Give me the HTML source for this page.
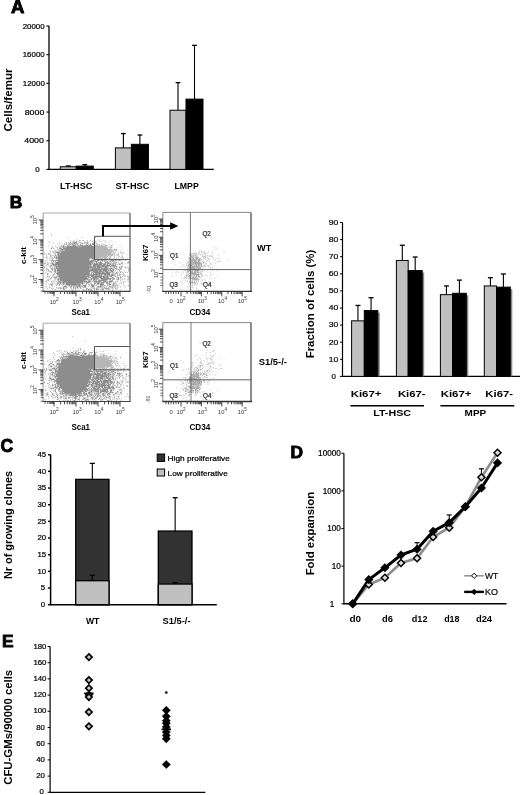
<!DOCTYPE html>
<html><head><meta charset="utf-8"><style>
html,body{margin:0;padding:0;background:#fff;}
svg{display:block;font-family:"Liberation Sans", sans-serif;will-change:transform;}
</style></head><body>
<svg width="520" height="795" viewBox="0 0 520 795">
<defs><filter id="soft" x="0" y="0" width="100%" height="100%" filterUnits="userSpaceOnUse"><feGaussianBlur stdDeviation="0.4"/></filter><filter id="blur2" x="-50%" y="-50%" width="200%" height="200%"><feGaussianBlur stdDeviation="2.5"/></filter></defs>
<g filter="url(#soft)">
<rect width="520" height="795" fill="#fff"/>
<text x="11.0" y="13.4" font-size="18.6" font-weight="bold" text-anchor="start" fill="#000" stroke="#000" stroke-width="0.9">A</text>
<line x1="49" y1="26.0" x2="49" y2="170.1" stroke="#000" stroke-width="1.3"/>
<line x1="48.4" y1="169.4" x2="213.8" y2="169.4" stroke="#000" stroke-width="1.4"/>
<line x1="46.4" y1="169.4" x2="49" y2="169.4" stroke="#000" stroke-width="1.1"/>
<text x="39.6" y="171.9" font-size="7.9" text-anchor="end" fill="#000" stroke="#000" stroke-width="0.22">0</text>
<line x1="46.4" y1="140.72" x2="49" y2="140.72" stroke="#000" stroke-width="1.1"/>
<text x="43.9" y="143.22" font-size="7.9" text-anchor="end" fill="#000" textLength="19.6" lengthAdjust="spacingAndGlyphs" stroke="#000" stroke-width="0.22">4000</text>
<line x1="46.4" y1="112.04" x2="49" y2="112.04" stroke="#000" stroke-width="1.1"/>
<text x="44.3" y="114.54" font-size="7.9" text-anchor="end" fill="#000" textLength="19.6" lengthAdjust="spacingAndGlyphs" stroke="#000" stroke-width="0.22">8000</text>
<line x1="46.4" y1="83.36" x2="49" y2="83.36" stroke="#000" stroke-width="1.1"/>
<text x="44.8" y="85.86" font-size="7.9" text-anchor="end" fill="#000" stroke="#000" stroke-width="0.22">12000</text>
<line x1="46.4" y1="54.68000000000001" x2="49" y2="54.68000000000001" stroke="#000" stroke-width="1.1"/>
<text x="44.7" y="57.18000000000001" font-size="7.9" text-anchor="end" fill="#000" stroke="#000" stroke-width="0.22">16000</text>
<line x1="46.4" y1="26.0" x2="49" y2="26.0" stroke="#000" stroke-width="1.1"/>
<text x="44.6" y="28.5" font-size="7.9" text-anchor="end" fill="#000" stroke="#000" stroke-width="0.22">20000</text>
<text x="12.4" y="100" font-size="11" font-weight="bold" text-anchor="middle" fill="#000" transform="rotate(-90 12.4 100)" textLength="63" lengthAdjust="spacingAndGlyphs">Cells/femur</text>
<line x1="68.3" y1="165.9584" x2="68.3" y2="166.74710000000002" stroke="#000" stroke-width="1.1"/>
<line x1="65.89999999999999" y1="165.9584" x2="70.7" y2="165.9584" stroke="#000" stroke-width="1.3"/>
<rect x="60.3" y="166.74710000000002" width="16" height="2.6528999999999883" fill="#c0c0c0" stroke="#000" stroke-width="1"/>
<line x1="84.8" y1="164.6678" x2="84.8" y2="166.1018" stroke="#000" stroke-width="1.1"/>
<line x1="82.39999999999999" y1="164.6678" x2="87.2" y2="164.6678" stroke="#000" stroke-width="1.3"/>
<rect x="76.3" y="166.1018" width="17" height="3.2982000000000085" fill="#000" stroke="#000" stroke-width="1"/>
<line x1="123.4" y1="133.55" x2="123.4" y2="147.89000000000001" stroke="#000" stroke-width="1.1"/>
<line x1="121.0" y1="133.55" x2="125.80000000000001" y2="133.55" stroke="#000" stroke-width="1.3"/>
<rect x="115.4" y="147.89000000000001" width="16" height="21.50999999999999" fill="#c0c0c0" stroke="#000" stroke-width="1"/>
<line x1="139.9" y1="134.984" x2="139.9" y2="144.305" stroke="#000" stroke-width="1.1"/>
<line x1="137.5" y1="134.984" x2="142.3" y2="134.984" stroke="#000" stroke-width="1.3"/>
<rect x="131.4" y="144.305" width="17" height="25.095" fill="#000" stroke="#000" stroke-width="1"/>
<line x1="178.0" y1="82.643" x2="178.0" y2="110.2475" stroke="#000" stroke-width="1.1"/>
<line x1="175.6" y1="82.643" x2="180.4" y2="82.643" stroke="#000" stroke-width="1.3"/>
<rect x="170.0" y="110.2475" width="16" height="59.1525" fill="#c0c0c0" stroke="#000" stroke-width="1"/>
<line x1="194.5" y1="45.35900000000001" x2="194.5" y2="99.134" stroke="#000" stroke-width="1.1"/>
<line x1="192.1" y1="45.35900000000001" x2="196.9" y2="45.35900000000001" stroke="#000" stroke-width="1.3"/>
<rect x="186.0" y="99.134" width="17" height="70.266" fill="#000" stroke="#000" stroke-width="1"/>
<text x="76.2" y="188.5" font-size="9.6" font-weight="bold" text-anchor="middle" fill="#000" textLength="32.3" lengthAdjust="spacingAndGlyphs">LT-HSC</text>
<text x="132.5" y="188.5" font-size="9.6" font-weight="bold" text-anchor="middle" fill="#000" textLength="33.8" lengthAdjust="spacingAndGlyphs">ST-HSC</text>
<text x="186.6" y="188.5" font-size="9.6" font-weight="bold" text-anchor="middle" fill="#000" textLength="24.2" lengthAdjust="spacingAndGlyphs">LMPP</text>
<text x="9.7" y="208.2" font-size="17.4" font-weight="bold" text-anchor="start" fill="#000" stroke="#000" stroke-width="0.9">B</text>
<path d="M51.1 234.6h0.8v0.8h-0.8zM81.5 237.0h0.8v0.8h-0.8zM67.9 237.8h0.8v0.8h-0.8zM76.7 239.4h0.8v0.8h-0.8zM70.3 240.2h0.8v0.8h-0.8zM73.5 240.2h0.8v0.8h-0.8zM79.1 240.2h1.6v0.8h-1.6zM82.3 240.2h1.6v0.8h-1.6zM87.1 240.2h0.8v0.8h-0.8zM90.3 240.2h0.8v0.8h-0.8zM93.5 240.2h0.8v0.8h-0.8zM48.7 241.0h0.8v0.8h-0.8zM72.7 241.0h0.8v0.8h-0.8zM75.9 241.0h1.6v0.8h-1.6zM91.9 241.0h0.8v0.8h-0.8zM64.7 241.8h0.8v0.8h-0.8zM67.9 241.8h0.8v0.8h-0.8zM70.3 241.8h0.8v0.8h-0.8zM71.9 241.8h0.8v0.8h-0.8zM73.5 241.8h3.2v0.8h-3.2zM79.1 241.8h1.6v0.8h-1.6zM83.9 241.8h1.6v0.8h-1.6zM87.1 241.8h1.6v0.8h-1.6zM49.5 242.6h0.8v0.8h-0.8zM53.5 242.6h0.8v0.8h-0.8zM60.7 242.6h0.8v0.8h-0.8zM66.3 242.6h0.8v0.8h-0.8zM68.7 242.6h0.8v0.8h-0.8zM70.3 242.6h0.8v0.8h-0.8zM73.5 242.6h3.2v0.8h-3.2zM78.3 242.6h0.8v0.8h-0.8zM80.7 242.6h0.8v0.8h-0.8zM82.3 242.6h0.8v0.8h-0.8zM84.7 242.6h0.8v0.8h-0.8zM86.3 242.6h1.6v0.8h-1.6zM92.7 242.6h1.6v0.8h-1.6zM57.5 243.4h0.8v0.8h-0.8zM59.1 243.4h0.8v0.8h-0.8zM63.9 243.4h0.8v0.8h-0.8zM66.3 243.4h0.8v0.8h-0.8zM68.7 243.4h1.6v0.8h-1.6zM71.1 243.4h4.0v0.8h-4.0zM75.9 243.4h2.4v0.8h-2.4zM79.9 243.4h0.8v0.8h-0.8zM81.5 243.4h1.6v0.8h-1.6zM83.9 243.4h0.8v0.8h-0.8zM87.1 243.4h0.8v0.8h-0.8zM90.3 243.4h0.8v0.8h-0.8zM91.9 243.4h2.4v0.8h-2.4zM63.9 244.2h0.8v0.8h-0.8zM65.5 244.2h1.6v0.8h-1.6zM67.9 244.2h0.8v0.8h-0.8zM69.5 244.2h1.6v0.8h-1.6zM71.9 244.2h1.6v0.8h-1.6zM75.1 244.2h0.8v0.8h-0.8zM76.7 244.2h0.8v0.8h-0.8zM79.9 244.2h0.8v0.8h-0.8zM85.5 244.2h1.6v0.8h-1.6zM87.9 244.2h0.8v0.8h-0.8zM89.5 244.2h1.6v0.8h-1.6zM91.9 244.2h2.4v0.8h-2.4zM61.5 245.0h0.8v0.8h-0.8zM63.1 245.0h0.8v0.8h-0.8zM67.1 245.0h0.8v0.8h-0.8zM68.7 245.0h0.8v0.8h-0.8zM72.7 245.0h3.2v0.8h-3.2zM77.5 245.0h1.6v0.8h-1.6zM79.9 245.0h3.2v0.8h-3.2zM83.9 245.0h0.8v0.8h-0.8zM85.5 245.0h2.4v0.8h-2.4zM88.7 245.0h3.2v0.8h-3.2zM47.9 245.8h0.8v0.8h-0.8zM51.9 245.8h0.8v0.8h-0.8zM55.1 245.8h0.8v0.8h-0.8zM59.1 245.8h0.8v0.8h-0.8zM60.7 245.8h1.6v0.8h-1.6zM63.1 245.8h2.4v0.8h-2.4zM67.1 245.8h9.6v0.8h-9.6zM77.5 245.8h3.2v0.8h-3.2zM81.5 245.8h12.8v0.8h-12.8zM56.7 246.6h0.8v0.8h-0.8zM60.7 246.6h0.8v0.8h-0.8zM62.3 246.6h1.6v0.8h-1.6zM64.7 246.6h13.6v0.8h-13.6zM79.1 246.6h15.2v0.8h-15.2zM51.1 247.4h1.6v0.8h-1.6zM53.5 247.4h0.8v0.8h-0.8zM56.7 247.4h0.8v0.8h-0.8zM59.1 247.4h1.6v0.8h-1.6zM62.3 247.4h3.2v0.8h-3.2zM66.3 247.4h28.0v0.8h-28.0zM51.1 248.2h0.8v0.8h-0.8zM53.5 248.2h0.8v0.8h-0.8zM59.1 248.2h3.2v0.8h-3.2zM63.1 248.2h31.2v0.8h-31.2zM57.5 249.0h0.8v0.8h-0.8zM60.7 249.0h33.6v0.8h-33.6zM58.3 249.8h4.8v0.8h-4.8zM64.7 249.8h29.6v0.8h-29.6zM49.5 250.6h0.8v0.8h-0.8zM54.3 250.6h1.6v0.8h-1.6zM56.7 250.6h0.8v0.8h-0.8zM60.7 250.6h0.8v0.8h-0.8zM62.3 250.6h32.0v0.8h-32.0zM50.3 251.4h0.8v0.8h-0.8zM51.9 251.4h1.6v0.8h-1.6zM55.9 251.4h0.8v0.8h-0.8zM57.5 251.4h36.8v0.8h-36.8zM53.5 252.2h0.8v0.8h-0.8zM55.1 252.2h4.8v0.8h-4.8zM60.7 252.2h33.6v0.8h-33.6zM44.7 253.0h0.8v0.8h-0.8zM47.9 253.0h0.8v0.8h-0.8zM49.5 253.0h0.8v0.8h-0.8zM54.3 253.0h0.8v0.8h-0.8zM57.5 253.0h36.8v0.8h-36.8zM43.9 253.8h0.8v0.8h-0.8zM47.9 253.8h0.8v0.8h-0.8zM49.5 253.8h0.8v0.8h-0.8zM55.1 253.8h0.8v0.8h-0.8zM56.7 253.8h2.4v0.8h-2.4zM59.9 253.8h34.4v0.8h-34.4zM46.3 254.6h0.8v0.8h-0.8zM50.3 254.6h0.8v0.8h-0.8zM52.7 254.6h0.8v0.8h-0.8zM55.1 254.6h0.8v0.8h-0.8zM57.5 254.6h36.8v0.8h-36.8zM50.3 255.4h1.6v0.8h-1.6zM53.5 255.4h0.8v0.8h-0.8zM55.1 255.4h2.4v0.8h-2.4zM58.3 255.4h36.0v0.8h-36.0zM46.3 256.2h0.8v0.8h-0.8zM50.3 256.2h0.8v0.8h-0.8zM54.3 256.2h0.8v0.8h-0.8zM55.9 256.2h0.8v0.8h-0.8zM57.5 256.2h36.8v0.8h-36.8zM46.3 257.0h0.8v0.8h-0.8zM49.5 257.0h0.8v0.8h-0.8zM51.9 257.0h0.8v0.8h-0.8zM53.5 257.0h1.6v0.8h-1.6zM55.9 257.0h38.4v0.8h-38.4zM45.5 257.8h0.8v0.8h-0.8zM47.1 257.8h0.8v0.8h-0.8zM51.1 257.8h0.8v0.8h-0.8zM53.5 257.8h0.8v0.8h-0.8zM55.1 257.8h1.6v0.8h-1.6zM57.5 257.8h36.8v0.8h-36.8zM49.5 258.6h0.8v0.8h-0.8zM51.9 258.6h0.8v0.8h-0.8zM55.9 258.6h33.6v0.8h-33.6zM91.9 258.6h2.4v0.8h-2.4zM46.3 259.4h0.8v0.8h-0.8zM51.9 259.4h1.6v0.8h-1.6zM58.3 259.4h31.2v0.8h-31.2zM91.1 259.4h0.8v0.8h-0.8zM93.5 259.4h0.8v0.8h-0.8zM96.7 259.4h0.8v0.8h-0.8zM98.3 259.4h0.8v0.8h-0.8zM100.7 259.4h0.8v0.8h-0.8zM102.3 259.4h1.6v0.8h-1.6zM105.5 259.4h0.8v0.8h-0.8zM108.7 259.4h0.8v0.8h-0.8zM112.7 259.4h0.8v0.8h-0.8zM115.9 259.4h0.8v0.8h-0.8zM119.1 259.4h0.8v0.8h-0.8zM121.5 259.4h0.8v0.8h-0.8zM123.1 259.4h0.8v0.8h-0.8zM44.7 260.2h0.8v0.8h-0.8zM49.5 260.2h0.8v0.8h-0.8zM51.1 260.2h1.6v0.8h-1.6zM53.5 260.2h36.0v0.8h-36.0zM90.3 260.2h5.6v0.8h-5.6zM96.7 260.2h3.2v0.8h-3.2zM100.7 260.2h2.4v0.8h-2.4zM103.9 260.2h1.6v0.8h-1.6zM106.3 260.2h0.8v0.8h-0.8zM110.3 260.2h4.0v0.8h-4.0zM115.1 260.2h1.6v0.8h-1.6zM117.5 260.2h0.8v0.8h-0.8zM119.1 260.2h1.6v0.8h-1.6zM125.5 260.2h0.8v0.8h-0.8zM45.5 261.0h0.8v0.8h-0.8zM51.1 261.0h0.8v0.8h-0.8zM52.7 261.0h1.6v0.8h-1.6zM55.1 261.0h0.8v0.8h-0.8zM57.5 261.0h36.0v0.8h-36.0zM94.3 261.0h3.2v0.8h-3.2zM99.9 261.0h0.8v0.8h-0.8zM102.3 261.0h0.8v0.8h-0.8zM103.9 261.0h0.8v0.8h-0.8zM105.5 261.0h0.8v0.8h-0.8zM107.1 261.0h0.8v0.8h-0.8zM109.5 261.0h1.6v0.8h-1.6zM111.9 261.0h1.6v0.8h-1.6zM114.3 261.0h0.8v0.8h-0.8zM47.1 261.8h0.8v0.8h-0.8zM48.7 261.8h0.8v0.8h-0.8zM54.3 261.8h0.8v0.8h-0.8zM55.9 261.8h37.6v0.8h-37.6zM95.9 261.8h0.8v0.8h-0.8zM97.5 261.8h1.6v0.8h-1.6zM99.9 261.8h1.6v0.8h-1.6zM104.7 261.8h3.2v0.8h-3.2zM108.7 261.8h0.8v0.8h-0.8zM110.3 261.8h1.6v0.8h-1.6zM112.7 261.8h0.8v0.8h-0.8zM115.1 261.8h1.6v0.8h-1.6zM117.5 261.8h0.8v0.8h-0.8zM119.9 261.8h0.8v0.8h-0.8zM122.3 261.8h0.8v0.8h-0.8zM127.9 261.8h1.6v0.8h-1.6zM44.7 262.6h0.8v0.8h-0.8zM51.1 262.6h2.4v0.8h-2.4zM55.1 262.6h37.6v0.8h-37.6zM93.5 262.6h1.6v0.8h-1.6zM95.9 262.6h1.6v0.8h-1.6zM98.3 262.6h4.0v0.8h-4.0zM104.7 262.6h1.6v0.8h-1.6zM107.1 262.6h2.4v0.8h-2.4zM113.5 262.6h1.6v0.8h-1.6zM115.9 262.6h0.8v0.8h-0.8zM121.5 262.6h0.8v0.8h-0.8zM127.1 262.6h1.6v0.8h-1.6zM43.9 263.4h1.6v0.8h-1.6zM47.1 263.4h2.4v0.8h-2.4zM50.3 263.4h0.8v0.8h-0.8zM51.9 263.4h2.4v0.8h-2.4zM55.1 263.4h36.0v0.8h-36.0zM91.9 263.4h0.8v0.8h-0.8zM93.5 263.4h4.8v0.8h-4.8zM99.1 263.4h6.4v0.8h-6.4zM106.3 263.4h8.0v0.8h-8.0zM115.1 263.4h0.8v0.8h-0.8zM118.3 263.4h1.6v0.8h-1.6zM120.7 263.4h2.4v0.8h-2.4zM124.7 263.4h0.8v0.8h-0.8zM47.1 264.2h0.8v0.8h-0.8zM51.9 264.2h40.0v0.8h-40.0zM92.7 264.2h9.6v0.8h-9.6zM103.1 264.2h3.2v0.8h-3.2zM107.1 264.2h0.8v0.8h-0.8zM108.7 264.2h0.8v0.8h-0.8zM110.3 264.2h0.8v0.8h-0.8zM111.9 264.2h0.8v0.8h-0.8zM113.5 264.2h0.8v0.8h-0.8zM115.1 264.2h0.8v0.8h-0.8zM116.7 264.2h0.8v0.8h-0.8zM119.1 264.2h1.6v0.8h-1.6zM44.7 265.0h0.8v0.8h-0.8zM47.9 265.0h0.8v0.8h-0.8zM50.3 265.0h1.6v0.8h-1.6zM52.7 265.0h4.0v0.8h-4.0zM57.5 265.0h33.6v0.8h-33.6zM92.7 265.0h12.8v0.8h-12.8zM106.3 265.0h4.0v0.8h-4.0zM111.1 265.0h4.8v0.8h-4.8zM46.3 265.8h0.8v0.8h-0.8zM50.3 265.8h1.6v0.8h-1.6zM55.1 265.8h34.4v0.8h-34.4zM90.3 265.8h1.6v0.8h-1.6zM92.7 265.8h3.2v0.8h-3.2zM96.7 265.8h4.0v0.8h-4.0zM101.5 265.8h15.2v0.8h-15.2zM117.5 265.8h0.8v0.8h-0.8zM120.7 265.8h0.8v0.8h-0.8zM122.3 265.8h0.8v0.8h-0.8zM128.7 265.8h0.8v0.8h-0.8zM43.9 266.6h0.8v0.8h-0.8zM50.3 266.6h0.8v0.8h-0.8zM53.5 266.6h1.6v0.8h-1.6zM55.9 266.6h48.0v0.8h-48.0zM104.7 266.6h3.2v0.8h-3.2zM110.3 266.6h0.8v0.8h-0.8zM112.7 266.6h0.8v0.8h-0.8zM114.3 266.6h0.8v0.8h-0.8zM115.9 266.6h0.8v0.8h-0.8zM119.1 266.6h0.8v0.8h-0.8zM120.7 266.6h1.6v0.8h-1.6zM124.7 266.6h0.8v0.8h-0.8zM43.9 267.4h0.8v0.8h-0.8zM46.3 267.4h0.8v0.8h-0.8zM50.3 267.4h0.8v0.8h-0.8zM51.9 267.4h0.8v0.8h-0.8zM55.1 267.4h2.4v0.8h-2.4zM58.3 267.4h35.2v0.8h-35.2zM94.3 267.4h1.6v0.8h-1.6zM96.7 267.4h4.0v0.8h-4.0zM101.5 267.4h0.8v0.8h-0.8zM103.9 267.4h3.2v0.8h-3.2zM107.9 267.4h1.6v0.8h-1.6zM111.1 267.4h0.8v0.8h-0.8zM113.5 267.4h1.6v0.8h-1.6zM115.9 267.4h0.8v0.8h-0.8zM117.5 267.4h0.8v0.8h-0.8zM119.1 267.4h0.8v0.8h-0.8zM121.5 267.4h0.8v0.8h-0.8zM124.7 267.4h1.6v0.8h-1.6zM127.1 267.4h0.8v0.8h-0.8zM128.7 267.4h0.8v0.8h-0.8zM46.3 268.2h0.8v0.8h-0.8zM51.1 268.2h1.6v0.8h-1.6zM53.5 268.2h1.6v0.8h-1.6zM55.9 268.2h33.6v0.8h-33.6zM90.3 268.2h0.8v0.8h-0.8zM91.9 268.2h8.0v0.8h-8.0zM100.7 268.2h7.2v0.8h-7.2zM108.7 268.2h4.0v0.8h-4.0zM113.5 268.2h0.8v0.8h-0.8zM115.1 268.2h1.6v0.8h-1.6zM119.9 268.2h1.6v0.8h-1.6zM127.9 268.2h0.8v0.8h-0.8zM45.5 269.0h0.8v0.8h-0.8zM47.1 269.0h1.6v0.8h-1.6zM51.1 269.0h1.6v0.8h-1.6zM54.3 269.0h1.6v0.8h-1.6zM56.7 269.0h32.8v0.8h-32.8zM90.3 269.0h18.4v0.8h-18.4zM109.5 269.0h1.6v0.8h-1.6zM111.9 269.0h2.4v0.8h-2.4zM115.9 269.0h0.8v0.8h-0.8zM117.5 269.0h1.6v0.8h-1.6zM119.9 269.0h1.6v0.8h-1.6zM128.7 269.0h0.8v0.8h-0.8zM43.9 269.8h0.8v0.8h-0.8zM47.9 269.8h0.8v0.8h-0.8zM51.9 269.8h1.6v0.8h-1.6zM54.3 269.8h1.6v0.8h-1.6zM56.7 269.8h44.8v0.8h-44.8zM102.3 269.8h4.8v0.8h-4.8zM107.9 269.8h1.6v0.8h-1.6zM110.3 269.8h1.6v0.8h-1.6zM112.7 269.8h1.6v0.8h-1.6zM115.1 269.8h0.8v0.8h-0.8zM119.1 269.8h0.8v0.8h-0.8zM123.9 269.8h0.8v0.8h-0.8zM128.7 269.8h0.8v0.8h-0.8zM46.3 270.6h0.8v0.8h-0.8zM47.9 270.6h0.8v0.8h-0.8zM49.5 270.6h0.8v0.8h-0.8zM54.3 270.6h1.6v0.8h-1.6zM56.7 270.6h41.6v0.8h-41.6zM99.1 270.6h3.2v0.8h-3.2zM103.1 270.6h5.6v0.8h-5.6zM109.5 270.6h4.0v0.8h-4.0zM116.7 270.6h0.8v0.8h-0.8zM119.1 270.6h0.8v0.8h-0.8zM127.9 270.6h0.8v0.8h-0.8zM49.5 271.4h2.4v0.8h-2.4zM52.7 271.4h0.8v0.8h-0.8zM54.3 271.4h1.6v0.8h-1.6zM56.7 271.4h0.8v0.8h-0.8zM58.3 271.4h32.0v0.8h-32.0zM92.7 271.4h11.2v0.8h-11.2zM104.7 271.4h3.2v0.8h-3.2zM108.7 271.4h0.8v0.8h-0.8zM111.1 271.4h2.4v0.8h-2.4zM114.3 271.4h0.8v0.8h-0.8zM119.9 271.4h2.4v0.8h-2.4zM124.7 271.4h0.8v0.8h-0.8zM45.5 272.2h0.8v0.8h-0.8zM51.1 272.2h0.8v0.8h-0.8zM55.1 272.2h0.8v0.8h-0.8zM56.7 272.2h32.8v0.8h-32.8zM91.1 272.2h1.6v0.8h-1.6zM93.5 272.2h7.2v0.8h-7.2zM101.5 272.2h3.2v0.8h-3.2zM105.5 272.2h5.6v0.8h-5.6zM111.9 272.2h0.8v0.8h-0.8zM113.5 272.2h0.8v0.8h-0.8zM115.9 272.2h1.6v0.8h-1.6zM118.3 272.2h0.8v0.8h-0.8zM119.9 272.2h0.8v0.8h-0.8zM122.3 272.2h0.8v0.8h-0.8zM124.7 272.2h0.8v0.8h-0.8zM127.1 272.2h0.8v0.8h-0.8zM44.7 273.0h0.8v0.8h-0.8zM47.1 273.0h1.6v0.8h-1.6zM54.3 273.0h0.8v0.8h-0.8zM55.9 273.0h34.4v0.8h-34.4zM91.1 273.0h0.8v0.8h-0.8zM92.7 273.0h1.6v0.8h-1.6zM95.1 273.0h15.2v0.8h-15.2zM112.7 273.0h0.8v0.8h-0.8zM115.1 273.0h2.4v0.8h-2.4zM123.1 273.0h0.8v0.8h-0.8zM47.1 273.8h0.8v0.8h-0.8zM52.7 273.8h0.8v0.8h-0.8zM54.3 273.8h0.8v0.8h-0.8zM56.7 273.8h33.6v0.8h-33.6zM91.1 273.8h0.8v0.8h-0.8zM92.7 273.8h17.6v0.8h-17.6zM111.1 273.8h4.0v0.8h-4.0zM116.7 273.8h0.8v0.8h-0.8zM119.1 273.8h1.6v0.8h-1.6zM122.3 273.8h0.8v0.8h-0.8zM47.1 274.6h0.8v0.8h-0.8zM52.7 274.6h1.6v0.8h-1.6zM57.5 274.6h32.0v0.8h-32.0zM90.3 274.6h7.2v0.8h-7.2zM98.3 274.6h1.6v0.8h-1.6zM100.7 274.6h1.6v0.8h-1.6zM103.9 274.6h2.4v0.8h-2.4zM107.1 274.6h3.2v0.8h-3.2zM111.1 274.6h2.4v0.8h-2.4zM115.1 274.6h0.8v0.8h-0.8zM117.5 274.6h0.8v0.8h-0.8zM119.1 274.6h1.6v0.8h-1.6zM123.1 274.6h1.6v0.8h-1.6zM48.7 275.4h0.8v0.8h-0.8zM55.9 275.4h0.8v0.8h-0.8zM57.5 275.4h0.8v0.8h-0.8zM59.1 275.4h27.2v0.8h-27.2zM87.1 275.4h7.2v0.8h-7.2zM95.1 275.4h7.2v0.8h-7.2zM103.1 275.4h0.8v0.8h-0.8zM104.7 275.4h3.2v0.8h-3.2zM108.7 275.4h0.8v0.8h-0.8zM110.3 275.4h4.8v0.8h-4.8zM116.7 275.4h0.8v0.8h-0.8zM118.3 275.4h0.8v0.8h-0.8zM125.5 275.4h0.8v0.8h-0.8zM47.1 276.2h0.8v0.8h-0.8zM48.7 276.2h0.8v0.8h-0.8zM51.9 276.2h0.8v0.8h-0.8zM54.3 276.2h0.8v0.8h-0.8zM55.9 276.2h0.8v0.8h-0.8zM57.5 276.2h32.0v0.8h-32.0zM91.1 276.2h14.4v0.8h-14.4zM106.3 276.2h2.4v0.8h-2.4zM109.5 276.2h2.4v0.8h-2.4zM115.1 276.2h0.8v0.8h-0.8zM116.7 276.2h0.8v0.8h-0.8zM119.9 276.2h0.8v0.8h-0.8zM122.3 276.2h0.8v0.8h-0.8zM124.7 276.2h0.8v0.8h-0.8zM127.1 276.2h1.6v0.8h-1.6zM46.3 277.0h0.8v0.8h-0.8zM49.5 277.0h0.8v0.8h-0.8zM51.1 277.0h0.8v0.8h-0.8zM52.7 277.0h0.8v0.8h-0.8zM54.3 277.0h2.4v0.8h-2.4zM57.5 277.0h0.8v0.8h-0.8zM59.1 277.0h28.0v0.8h-28.0zM87.9 277.0h3.2v0.8h-3.2zM91.9 277.0h5.6v0.8h-5.6zM98.3 277.0h4.0v0.8h-4.0zM103.1 277.0h5.6v0.8h-5.6zM111.9 277.0h1.6v0.8h-1.6zM116.7 277.0h0.8v0.8h-0.8zM118.3 277.0h0.8v0.8h-0.8zM119.9 277.0h1.6v0.8h-1.6zM128.7 277.0h0.8v0.8h-0.8zM51.1 277.8h0.8v0.8h-0.8zM54.3 277.8h2.4v0.8h-2.4zM58.3 277.8h29.6v0.8h-29.6zM91.1 277.8h0.8v0.8h-0.8zM92.7 277.8h6.4v0.8h-6.4zM99.9 277.8h5.6v0.8h-5.6zM106.3 277.8h2.4v0.8h-2.4zM109.5 277.8h3.2v0.8h-3.2zM113.5 277.8h0.8v0.8h-0.8zM115.9 277.8h0.8v0.8h-0.8zM117.5 277.8h1.6v0.8h-1.6zM119.9 277.8h0.8v0.8h-0.8zM124.7 277.8h0.8v0.8h-0.8zM127.9 277.8h0.8v0.8h-0.8zM48.7 278.6h0.8v0.8h-0.8zM50.3 278.6h0.8v0.8h-0.8zM57.5 278.6h1.6v0.8h-1.6zM59.9 278.6h29.6v0.8h-29.6zM90.3 278.6h6.4v0.8h-6.4zM97.5 278.6h0.8v0.8h-0.8zM100.7 278.6h10.4v0.8h-10.4zM112.7 278.6h2.4v0.8h-2.4zM117.5 278.6h1.6v0.8h-1.6zM120.7 278.6h0.8v0.8h-0.8zM122.3 278.6h0.8v0.8h-0.8zM123.9 278.6h0.8v0.8h-0.8zM128.7 278.6h0.8v0.8h-0.8zM47.1 279.4h1.6v0.8h-1.6zM54.3 279.4h1.6v0.8h-1.6zM56.7 279.4h29.6v0.8h-29.6zM87.1 279.4h0.8v0.8h-0.8zM88.7 279.4h1.6v0.8h-1.6zM91.1 279.4h0.8v0.8h-0.8zM93.5 279.4h1.6v0.8h-1.6zM95.9 279.4h1.6v0.8h-1.6zM98.3 279.4h1.6v0.8h-1.6zM100.7 279.4h0.8v0.8h-0.8zM102.3 279.4h5.6v0.8h-5.6zM109.5 279.4h1.6v0.8h-1.6zM111.9 279.4h1.6v0.8h-1.6zM115.9 279.4h0.8v0.8h-0.8zM117.5 279.4h1.6v0.8h-1.6zM127.1 279.4h1.6v0.8h-1.6zM46.3 280.2h0.8v0.8h-0.8zM47.9 280.2h0.8v0.8h-0.8zM52.7 280.2h0.8v0.8h-0.8zM58.3 280.2h0.8v0.8h-0.8zM59.9 280.2h24.8v0.8h-24.8zM85.5 280.2h0.8v0.8h-0.8zM87.9 280.2h1.6v0.8h-1.6zM90.3 280.2h0.8v0.8h-0.8zM92.7 280.2h1.6v0.8h-1.6zM95.1 280.2h1.6v0.8h-1.6zM98.3 280.2h7.2v0.8h-7.2zM106.3 280.2h0.8v0.8h-0.8zM109.5 280.2h0.8v0.8h-0.8zM111.1 280.2h1.6v0.8h-1.6zM119.9 280.2h0.8v0.8h-0.8zM44.7 281.0h0.8v0.8h-0.8zM46.3 281.0h0.8v0.8h-0.8zM51.1 281.0h0.8v0.8h-0.8zM54.3 281.0h0.8v0.8h-0.8zM55.9 281.0h0.8v0.8h-0.8zM57.5 281.0h3.2v0.8h-3.2zM62.3 281.0h24.8v0.8h-24.8zM87.9 281.0h3.2v0.8h-3.2zM91.9 281.0h0.8v0.8h-0.8zM93.5 281.0h8.0v0.8h-8.0zM103.1 281.0h3.2v0.8h-3.2zM107.1 281.0h0.8v0.8h-0.8zM108.7 281.0h4.0v0.8h-4.0zM115.1 281.0h0.8v0.8h-0.8zM116.7 281.0h0.8v0.8h-0.8zM121.5 281.0h0.8v0.8h-0.8zM124.7 281.0h0.8v0.8h-0.8zM127.9 281.0h0.8v0.8h-0.8zM51.1 281.8h0.8v0.8h-0.8zM53.5 281.8h0.8v0.8h-0.8zM59.1 281.8h24.0v0.8h-24.0zM83.9 281.8h6.4v0.8h-6.4zM91.1 281.8h0.8v0.8h-0.8zM93.5 281.8h1.6v0.8h-1.6zM95.9 281.8h1.6v0.8h-1.6zM98.3 281.8h1.6v0.8h-1.6zM100.7 281.8h7.2v0.8h-7.2zM108.7 281.8h3.2v0.8h-3.2zM113.5 281.8h0.8v0.8h-0.8zM116.7 281.8h0.8v0.8h-0.8zM123.1 281.8h0.8v0.8h-0.8zM46.3 282.6h0.8v0.8h-0.8zM51.9 282.6h0.8v0.8h-0.8zM56.7 282.6h2.4v0.8h-2.4zM59.9 282.6h1.6v0.8h-1.6zM62.3 282.6h2.4v0.8h-2.4zM65.5 282.6h18.4v0.8h-18.4zM86.3 282.6h2.4v0.8h-2.4zM89.5 282.6h0.8v0.8h-0.8zM94.3 282.6h1.6v0.8h-1.6zM96.7 282.6h3.2v0.8h-3.2zM100.7 282.6h1.6v0.8h-1.6zM103.1 282.6h0.8v0.8h-0.8zM106.3 282.6h1.6v0.8h-1.6zM108.7 282.6h0.8v0.8h-0.8zM112.7 282.6h1.6v0.8h-1.6zM120.7 282.6h0.8v0.8h-0.8zM123.1 282.6h0.8v0.8h-0.8zM50.3 283.4h0.8v0.8h-0.8zM52.7 283.4h0.8v0.8h-0.8zM55.1 283.4h0.8v0.8h-0.8zM56.7 283.4h0.8v0.8h-0.8zM58.3 283.4h2.4v0.8h-2.4zM61.5 283.4h0.8v0.8h-0.8zM63.1 283.4h1.6v0.8h-1.6zM65.5 283.4h12.0v0.8h-12.0zM78.3 283.4h1.6v0.8h-1.6zM80.7 283.4h0.8v0.8h-0.8zM82.3 283.4h0.8v0.8h-0.8zM83.9 283.4h0.8v0.8h-0.8zM86.3 283.4h0.8v0.8h-0.8zM90.3 283.4h1.6v0.8h-1.6zM94.3 283.4h1.6v0.8h-1.6zM96.7 283.4h2.4v0.8h-2.4zM99.9 283.4h4.0v0.8h-4.0zM106.3 283.4h0.8v0.8h-0.8zM107.9 283.4h3.2v0.8h-3.2zM113.5 283.4h3.2v0.8h-3.2zM119.1 283.4h0.8v0.8h-0.8zM120.7 283.4h0.8v0.8h-0.8zM47.9 284.2h0.8v0.8h-0.8zM50.3 284.2h2.4v0.8h-2.4zM56.7 284.2h0.8v0.8h-0.8zM59.1 284.2h0.8v0.8h-0.8zM61.5 284.2h0.8v0.8h-0.8zM63.1 284.2h0.8v0.8h-0.8zM65.5 284.2h15.2v0.8h-15.2zM82.3 284.2h0.8v0.8h-0.8zM85.5 284.2h0.8v0.8h-0.8zM87.9 284.2h1.6v0.8h-1.6zM91.1 284.2h2.4v0.8h-2.4zM94.3 284.2h0.8v0.8h-0.8zM96.7 284.2h0.8v0.8h-0.8zM98.3 284.2h0.8v0.8h-0.8zM99.9 284.2h4.0v0.8h-4.0zM107.1 284.2h0.8v0.8h-0.8zM108.7 284.2h2.4v0.8h-2.4zM112.7 284.2h1.6v0.8h-1.6zM115.9 284.2h0.8v0.8h-0.8zM51.1 285.0h1.6v0.8h-1.6zM55.9 285.0h1.6v0.8h-1.6zM59.1 285.0h0.8v0.8h-0.8zM62.3 285.0h0.8v0.8h-0.8zM65.5 285.0h0.8v0.8h-0.8zM67.1 285.0h3.2v0.8h-3.2zM71.1 285.0h2.4v0.8h-2.4zM74.3 285.0h2.4v0.8h-2.4zM77.5 285.0h3.2v0.8h-3.2zM81.5 285.0h0.8v0.8h-0.8zM83.1 285.0h3.2v0.8h-3.2zM89.5 285.0h0.8v0.8h-0.8zM91.1 285.0h3.2v0.8h-3.2zM95.9 285.0h0.8v0.8h-0.8zM99.9 285.0h1.6v0.8h-1.6zM102.3 285.0h0.8v0.8h-0.8zM103.9 285.0h1.6v0.8h-1.6zM107.1 285.0h0.8v0.8h-0.8zM108.7 285.0h0.8v0.8h-0.8zM111.9 285.0h2.4v0.8h-2.4zM115.1 285.0h0.8v0.8h-0.8zM116.7 285.0h0.8v0.8h-0.8zM118.3 285.0h0.8v0.8h-0.8zM123.9 285.0h0.8v0.8h-0.8zM127.9 285.0h0.8v0.8h-0.8zM45.5 285.8h0.8v0.8h-0.8zM54.3 285.8h0.8v0.8h-0.8zM63.9 285.8h2.4v0.8h-2.4zM68.7 285.8h0.8v0.8h-0.8zM70.3 285.8h1.6v0.8h-1.6zM72.7 285.8h2.4v0.8h-2.4zM75.9 285.8h4.0v0.8h-4.0zM80.7 285.8h1.6v0.8h-1.6zM83.1 285.8h3.2v0.8h-3.2zM87.9 285.8h0.8v0.8h-0.8zM89.5 285.8h0.8v0.8h-0.8zM91.1 285.8h4.0v0.8h-4.0zM96.7 285.8h0.8v0.8h-0.8zM98.3 285.8h5.6v0.8h-5.6zM109.5 285.8h2.4v0.8h-2.4zM112.7 285.8h0.8v0.8h-0.8zM115.1 285.8h0.8v0.8h-0.8zM116.7 285.8h0.8v0.8h-0.8zM123.1 285.8h0.8v0.8h-0.8zM128.7 285.8h0.8v0.8h-0.8zM46.3 286.6h0.8v0.8h-0.8zM49.5 286.6h0.8v0.8h-0.8zM51.9 286.6h0.8v0.8h-0.8zM63.1 286.6h4.0v0.8h-4.0zM70.3 286.6h1.6v0.8h-1.6zM73.5 286.6h0.8v0.8h-0.8zM75.1 286.6h0.8v0.8h-0.8zM76.7 286.6h1.6v0.8h-1.6zM79.1 286.6h1.6v0.8h-1.6zM82.3 286.6h0.8v0.8h-0.8zM83.9 286.6h2.4v0.8h-2.4zM91.9 286.6h1.6v0.8h-1.6zM97.5 286.6h1.6v0.8h-1.6zM99.9 286.6h1.6v0.8h-1.6zM103.9 286.6h0.8v0.8h-0.8zM106.3 286.6h0.8v0.8h-0.8zM107.9 286.6h0.8v0.8h-0.8zM109.5 286.6h0.8v0.8h-0.8zM111.9 286.6h0.8v0.8h-0.8zM113.5 286.6h1.6v0.8h-1.6zM117.5 286.6h0.8v0.8h-0.8zM119.9 286.6h0.8v0.8h-0.8zM48.7 287.4h0.8v0.8h-0.8zM55.9 287.4h1.6v0.8h-1.6zM58.3 287.4h3.2v0.8h-3.2zM62.3 287.4h1.6v0.8h-1.6zM67.1 287.4h0.8v0.8h-0.8zM69.5 287.4h0.8v0.8h-0.8zM72.7 287.4h1.6v0.8h-1.6zM75.1 287.4h0.8v0.8h-0.8zM76.7 287.4h1.6v0.8h-1.6zM79.9 287.4h1.6v0.8h-1.6zM83.1 287.4h0.8v0.8h-0.8zM85.5 287.4h0.8v0.8h-0.8zM91.1 287.4h0.8v0.8h-0.8zM93.5 287.4h1.6v0.8h-1.6zM95.9 287.4h0.8v0.8h-0.8zM97.5 287.4h0.8v0.8h-0.8zM99.1 287.4h0.8v0.8h-0.8zM101.5 287.4h1.6v0.8h-1.6zM103.9 287.4h0.8v0.8h-0.8zM105.5 287.4h0.8v0.8h-0.8zM109.5 287.4h0.8v0.8h-0.8zM111.1 287.4h1.6v0.8h-1.6zM115.1 287.4h0.8v0.8h-0.8zM116.7 287.4h0.8v0.8h-0.8zM124.7 287.4h0.8v0.8h-0.8zM47.1 288.2h0.8v0.8h-0.8zM51.1 288.2h0.8v0.8h-0.8zM52.7 288.2h0.8v0.8h-0.8zM58.3 288.2h0.8v0.8h-0.8zM59.9 288.2h0.8v0.8h-0.8zM61.5 288.2h0.8v0.8h-0.8zM63.1 288.2h1.6v0.8h-1.6zM65.5 288.2h0.8v0.8h-0.8zM71.1 288.2h0.8v0.8h-0.8zM73.5 288.2h0.8v0.8h-0.8zM75.1 288.2h0.8v0.8h-0.8zM77.5 288.2h0.8v0.8h-0.8zM80.7 288.2h0.8v0.8h-0.8zM86.3 288.2h1.6v0.8h-1.6zM89.5 288.2h0.8v0.8h-0.8zM92.7 288.2h0.8v0.8h-0.8zM94.3 288.2h0.8v0.8h-0.8zM95.9 288.2h0.8v0.8h-0.8zM97.5 288.2h0.8v0.8h-0.8zM101.5 288.2h0.8v0.8h-0.8zM103.1 288.2h0.8v0.8h-0.8zM104.7 288.2h4.8v0.8h-4.8zM112.7 288.2h0.8v0.8h-0.8zM115.1 288.2h0.8v0.8h-0.8zM116.7 288.2h0.8v0.8h-0.8zM51.9 289.0h0.8v0.8h-0.8zM55.1 289.0h0.8v0.8h-0.8zM63.1 289.0h1.6v0.8h-1.6zM69.5 289.0h0.8v0.8h-0.8zM75.1 289.0h0.8v0.8h-0.8zM83.1 289.0h0.8v0.8h-0.8zM85.5 289.0h1.6v0.8h-1.6zM87.9 289.0h1.6v0.8h-1.6zM90.3 289.0h1.6v0.8h-1.6zM94.3 289.0h0.8v0.8h-0.8zM95.9 289.0h3.2v0.8h-3.2zM99.9 289.0h0.8v0.8h-0.8zM101.5 289.0h2.4v0.8h-2.4zM106.3 289.0h0.8v0.8h-0.8zM107.9 289.0h0.8v0.8h-0.8zM109.5 289.0h0.8v0.8h-0.8zM111.9 289.0h0.8v0.8h-0.8zM115.9 289.0h0.8v0.8h-0.8zM119.9 289.0h0.8v0.8h-0.8zM43.9 289.8h0.8v0.8h-0.8zM60.7 289.8h0.8v0.8h-0.8zM62.3 289.8h0.8v0.8h-0.8zM64.7 289.8h0.8v0.8h-0.8zM66.3 289.8h0.8v0.8h-0.8zM71.1 289.8h3.2v0.8h-3.2zM77.5 289.8h0.8v0.8h-0.8zM79.1 289.8h0.8v0.8h-0.8zM82.3 289.8h0.8v0.8h-0.8zM83.9 289.8h0.8v0.8h-0.8zM86.3 289.8h0.8v0.8h-0.8zM87.9 289.8h0.8v0.8h-0.8zM89.5 289.8h1.6v0.8h-1.6zM92.7 289.8h0.8v0.8h-0.8zM94.3 289.8h0.8v0.8h-0.8zM95.9 289.8h0.8v0.8h-0.8zM100.7 289.8h0.8v0.8h-0.8zM108.7 289.8h0.8v0.8h-0.8zM54.3 290.6h0.8v0.8h-0.8zM57.5 290.6h0.8v0.8h-0.8zM68.7 290.6h0.8v0.8h-0.8zM71.9 290.6h0.8v0.8h-0.8zM75.1 290.6h1.6v0.8h-1.6zM83.1 290.6h0.8v0.8h-0.8zM85.5 290.6h0.8v0.8h-0.8zM88.7 290.6h0.8v0.8h-0.8zM91.1 290.6h1.6v0.8h-1.6zM102.3 290.6h1.6v0.8h-1.6zM104.7 290.6h0.8v0.8h-0.8zM111.9 290.6h2.4v0.8h-2.4z" fill="#8d8d8d"/>
<path d="M95.1 237.0h0.8v0.8h-0.8zM97.5 237.0h0.8v0.8h-0.8zM99.1 239.4h0.8v0.8h-0.8zM98.3 240.2h0.8v0.8h-0.8zM103.1 240.2h0.8v0.8h-0.8zM104.7 240.2h0.8v0.8h-0.8zM110.3 240.2h0.8v0.8h-0.8zM94.3 241.0h2.4v0.8h-2.4zM99.1 241.0h0.8v0.8h-0.8zM100.7 241.0h0.8v0.8h-0.8zM105.5 241.0h0.8v0.8h-0.8zM107.9 241.0h0.8v0.8h-0.8zM95.1 241.8h0.8v0.8h-0.8zM103.9 241.8h0.8v0.8h-0.8zM114.3 241.8h0.8v0.8h-0.8zM95.9 242.6h0.8v0.8h-0.8zM101.5 242.6h0.8v0.8h-0.8zM109.5 242.6h0.8v0.8h-0.8zM95.1 243.4h3.2v0.8h-3.2zM100.7 243.4h0.8v0.8h-0.8zM96.7 244.2h0.8v0.8h-0.8zM98.3 244.2h1.6v0.8h-1.6zM101.5 244.2h0.8v0.8h-0.8zM103.1 244.2h2.4v0.8h-2.4zM108.7 244.2h0.8v0.8h-0.8zM111.9 244.2h0.8v0.8h-0.8zM94.3 245.0h4.0v0.8h-4.0zM99.1 245.0h0.8v0.8h-0.8zM100.7 245.0h2.4v0.8h-2.4zM104.7 245.0h3.2v0.8h-3.2zM111.1 245.0h1.6v0.8h-1.6zM94.3 245.8h11.2v0.8h-11.2zM106.3 245.8h0.8v0.8h-0.8zM109.5 245.8h0.8v0.8h-0.8zM111.1 245.8h0.8v0.8h-0.8zM119.9 245.8h0.8v0.8h-0.8zM94.3 246.6h12.8v0.8h-12.8zM107.9 246.6h0.8v0.8h-0.8zM110.3 246.6h1.6v0.8h-1.6zM94.3 247.4h13.6v0.8h-13.6zM108.7 247.4h4.0v0.8h-4.0zM116.7 247.4h0.8v0.8h-0.8zM94.3 248.2h13.6v0.8h-13.6zM110.3 248.2h0.8v0.8h-0.8zM94.3 249.0h16.0v0.8h-16.0zM111.1 249.0h1.6v0.8h-1.6zM113.5 249.0h4.0v0.8h-4.0zM121.5 249.0h0.8v0.8h-0.8zM94.3 249.8h17.6v0.8h-17.6zM112.7 249.8h0.8v0.8h-0.8zM114.3 249.8h2.4v0.8h-2.4zM119.9 249.8h0.8v0.8h-0.8zM94.3 250.6h19.2v0.8h-19.2zM114.3 250.6h1.6v0.8h-1.6zM116.7 250.6h0.8v0.8h-0.8zM94.3 251.4h16.0v0.8h-16.0zM111.1 251.4h2.4v0.8h-2.4zM120.7 251.4h0.8v0.8h-0.8zM123.1 251.4h0.8v0.8h-0.8zM94.3 252.2h17.6v0.8h-17.6zM113.5 252.2h0.8v0.8h-0.8zM115.1 252.2h0.8v0.8h-0.8zM119.9 252.2h1.6v0.8h-1.6zM122.3 252.2h0.8v0.8h-0.8zM94.3 253.0h16.8v0.8h-16.8zM112.7 253.0h2.4v0.8h-2.4zM118.3 253.0h0.8v0.8h-0.8zM120.7 253.0h0.8v0.8h-0.8zM122.3 253.0h0.8v0.8h-0.8zM123.9 253.0h0.8v0.8h-0.8zM94.3 253.8h19.2v0.8h-19.2zM114.3 253.8h0.8v0.8h-0.8zM115.9 253.8h0.8v0.8h-0.8zM118.3 253.8h0.8v0.8h-0.8zM127.1 253.8h0.8v0.8h-0.8zM94.3 254.6h19.2v0.8h-19.2zM114.3 254.6h0.8v0.8h-0.8zM116.7 254.6h2.4v0.8h-2.4zM121.5 254.6h0.8v0.8h-0.8zM128.7 254.6h0.8v0.8h-0.8zM94.3 255.4h12.8v0.8h-12.8zM107.9 255.4h1.6v0.8h-1.6zM110.3 255.4h2.4v0.8h-2.4zM114.3 255.4h0.8v0.8h-0.8zM115.9 255.4h0.8v0.8h-0.8zM117.5 255.4h0.8v0.8h-0.8zM121.5 255.4h0.8v0.8h-0.8zM94.3 256.2h13.6v0.8h-13.6zM109.5 256.2h1.6v0.8h-1.6zM114.3 256.2h0.8v0.8h-0.8zM118.3 256.2h1.6v0.8h-1.6zM121.5 256.2h1.6v0.8h-1.6zM94.3 257.0h7.2v0.8h-7.2zM102.3 257.0h4.8v0.8h-4.8zM109.5 257.0h1.6v0.8h-1.6zM114.3 257.0h0.8v0.8h-0.8zM120.7 257.0h0.8v0.8h-0.8zM122.3 257.0h0.8v0.8h-0.8zM94.3 257.8h8.8v0.8h-8.8zM103.9 257.8h6.4v0.8h-6.4zM113.5 257.8h0.8v0.8h-0.8zM116.7 257.8h0.8v0.8h-0.8zM118.3 257.8h0.8v0.8h-0.8zM119.9 257.8h0.8v0.8h-0.8zM122.3 257.8h1.6v0.8h-1.6zM127.1 257.8h0.8v0.8h-0.8zM95.1 258.6h4.0v0.8h-4.0zM99.9 258.6h0.8v0.8h-0.8zM101.5 258.6h4.8v0.8h-4.8zM107.1 258.6h0.8v0.8h-0.8zM108.7 258.6h3.2v0.8h-3.2zM113.5 258.6h1.6v0.8h-1.6zM115.9 258.6h0.8v0.8h-0.8zM118.3 258.6h0.8v0.8h-0.8zM121.5 258.6h0.8v0.8h-0.8zM125.5 258.6h0.8v0.8h-0.8z" fill="#b6b6b6"/>
<path d="M94.5 259.6 V236.3 H130" fill="none" stroke="#444" stroke-width="0.9"/>
<line x1="94.5" y1="259.6" x2="130" y2="259.6" stroke="#555" stroke-width="1"/>
<line x1="43.1" y1="213.0" x2="130.0" y2="213.0" stroke="#aaa" stroke-width="1.0"/>
<line x1="43.1" y1="213.0" x2="43.1" y2="291.3" stroke="#999" stroke-width="1.0"/>
<line x1="130.0" y1="213.0" x2="130.0" y2="291.3" stroke="#666" stroke-width="1.3"/>
<line x1="42.6" y1="291.3" x2="130.5" y2="291.3" stroke="#444" stroke-width="1.2"/>
<line x1="38.6" y1="279.5" x2="43.1" y2="279.5" stroke="#333" stroke-width="0.9"/>
<line x1="40.300000000000004" y1="273.52957175266437" x2="43.1" y2="273.52957175266437" stroke="#333" stroke-width="0.9"/>
<line x1="40.300000000000004" y1="270.0370951147267" x2="43.1" y2="270.0370951147267" stroke="#333" stroke-width="0.9"/>
<line x1="40.300000000000004" y1="267.55914350532873" x2="43.1" y2="267.55914350532873" stroke="#333" stroke-width="0.9"/>
<line x1="40.300000000000004" y1="265.6370949140023" x2="43.1" y2="265.6370949140023" stroke="#333" stroke-width="0.9"/>
<line x1="40.300000000000004" y1="264.06666686739106" x2="43.1" y2="264.06666686739106" stroke="#333" stroke-width="0.9"/>
<line x1="40.300000000000004" y1="262.7388888730506" x2="43.1" y2="262.7388888730506" stroke="#333" stroke-width="0.9"/>
<line x1="40.300000000000004" y1="261.5887152579931" x2="43.1" y2="261.5887152579931" stroke="#333" stroke-width="0.9"/>
<line x1="40.300000000000004" y1="260.5741902294534" x2="43.1" y2="260.5741902294534" stroke="#333" stroke-width="0.9"/>
<line x1="38.6" y1="259.6666666666667" x2="43.1" y2="259.6666666666667" stroke="#333" stroke-width="0.9"/>
<line x1="40.300000000000004" y1="253.69623841933105" x2="43.1" y2="253.69623841933105" stroke="#333" stroke-width="0.9"/>
<line x1="40.300000000000004" y1="250.20376178139335" x2="43.1" y2="250.20376178139335" stroke="#333" stroke-width="0.9"/>
<line x1="40.300000000000004" y1="247.72581017199542" x2="43.1" y2="247.72581017199542" stroke="#333" stroke-width="0.9"/>
<line x1="40.300000000000004" y1="245.80376158066895" x2="43.1" y2="245.80376158066895" stroke="#333" stroke-width="0.9"/>
<line x1="40.300000000000004" y1="244.23333353405775" x2="43.1" y2="244.23333353405775" stroke="#333" stroke-width="0.9"/>
<line x1="40.300000000000004" y1="242.90555553971723" x2="43.1" y2="242.90555553971723" stroke="#333" stroke-width="0.9"/>
<line x1="40.300000000000004" y1="241.7553819246598" x2="43.1" y2="241.7553819246598" stroke="#333" stroke-width="0.9"/>
<line x1="40.300000000000004" y1="240.74085689612005" x2="43.1" y2="240.74085689612005" stroke="#333" stroke-width="0.9"/>
<line x1="38.6" y1="239.83333333333334" x2="43.1" y2="239.83333333333334" stroke="#333" stroke-width="0.9"/>
<line x1="40.300000000000004" y1="233.8629050859977" x2="43.1" y2="233.8629050859977" stroke="#333" stroke-width="0.9"/>
<line x1="40.300000000000004" y1="230.37042844806" x2="43.1" y2="230.37042844806" stroke="#333" stroke-width="0.9"/>
<line x1="40.300000000000004" y1="227.89247683866208" x2="43.1" y2="227.89247683866208" stroke="#333" stroke-width="0.9"/>
<line x1="40.300000000000004" y1="225.97042824733563" x2="43.1" y2="225.97042824733563" stroke="#333" stroke-width="0.9"/>
<line x1="40.300000000000004" y1="224.4000002007244" x2="43.1" y2="224.4000002007244" stroke="#333" stroke-width="0.9"/>
<line x1="40.300000000000004" y1="223.0722222063839" x2="43.1" y2="223.0722222063839" stroke="#333" stroke-width="0.9"/>
<line x1="40.300000000000004" y1="221.92204859132644" x2="43.1" y2="221.92204859132644" stroke="#333" stroke-width="0.9"/>
<line x1="40.300000000000004" y1="220.90752356278674" x2="43.1" y2="220.90752356278674" stroke="#333" stroke-width="0.9"/>
<line x1="38.6" y1="220" x2="43.1" y2="220" stroke="#333" stroke-width="0.9"/>
<line x1="40.7" y1="291.0" x2="43.1" y2="291.0" stroke="#444" stroke-width="0.8"/>
<line x1="40.7" y1="287.5381550498642" x2="43.1" y2="287.5381550498642" stroke="#444" stroke-width="0.8"/>
<line x1="40.7" y1="285.5131055707239" x2="43.1" y2="285.5131055707239" stroke="#444" stroke-width="0.8"/>
<line x1="40.7" y1="284.07631009972846" x2="43.1" y2="284.07631009972846" stroke="#444" stroke-width="0.8"/>
<line x1="40.7" y1="282.9618449501358" x2="43.1" y2="282.9618449501358" stroke="#444" stroke-width="0.8"/>
<line x1="40.7" y1="282.0512606205881" x2="43.1" y2="282.0512606205881" stroke="#444" stroke-width="0.8"/>
<line x1="40.7" y1="281.28137253983607" x2="43.1" y2="281.28137253983607" stroke="#444" stroke-width="0.8"/>
<line x1="40.7" y1="280.61446514959266" x2="43.1" y2="280.61446514959266" stroke="#444" stroke-width="0.8"/>
<line x1="40.7" y1="280.0262111414478" x2="43.1" y2="280.0262111414478" stroke="#444" stroke-width="0.8"/>
<line x1="40.7" y1="279.5" x2="43.1" y2="279.5" stroke="#444" stroke-width="0.8"/>
<line x1="54.0" y1="291.3" x2="54.0" y2="296.3" stroke="#333" stroke-width="0.9"/>
<line x1="60.62265990460759" y1="291.3" x2="60.62265990460759" y2="294.1" stroke="#333" stroke-width="0.9"/>
<line x1="64.49666760383258" y1="291.3" x2="64.49666760383258" y2="294.1" stroke="#333" stroke-width="0.9"/>
<line x1="67.24531980921518" y1="291.3" x2="67.24531980921518" y2="294.1" stroke="#333" stroke-width="0.9"/>
<line x1="69.37734009539241" y1="291.3" x2="69.37734009539241" y2="294.1" stroke="#333" stroke-width="0.9"/>
<line x1="71.11932750844016" y1="291.3" x2="71.11932750844016" y2="294.1" stroke="#333" stroke-width="0.9"/>
<line x1="72.59215688031365" y1="291.3" x2="72.59215688031365" y2="294.1" stroke="#333" stroke-width="0.9"/>
<line x1="73.86797971382276" y1="291.3" x2="73.86797971382276" y2="294.1" stroke="#333" stroke-width="0.9"/>
<line x1="74.99333520766515" y1="291.3" x2="74.99333520766515" y2="294.1" stroke="#333" stroke-width="0.9"/>
<line x1="76.0" y1="291.3" x2="76.0" y2="296.3" stroke="#333" stroke-width="0.9"/>
<line x1="82.62265990460759" y1="291.3" x2="82.62265990460759" y2="294.1" stroke="#333" stroke-width="0.9"/>
<line x1="86.49666760383258" y1="291.3" x2="86.49666760383258" y2="294.1" stroke="#333" stroke-width="0.9"/>
<line x1="89.24531980921518" y1="291.3" x2="89.24531980921518" y2="294.1" stroke="#333" stroke-width="0.9"/>
<line x1="91.37734009539241" y1="291.3" x2="91.37734009539241" y2="294.1" stroke="#333" stroke-width="0.9"/>
<line x1="93.11932750844016" y1="291.3" x2="93.11932750844016" y2="294.1" stroke="#333" stroke-width="0.9"/>
<line x1="94.59215688031365" y1="291.3" x2="94.59215688031365" y2="294.1" stroke="#333" stroke-width="0.9"/>
<line x1="95.86797971382276" y1="291.3" x2="95.86797971382276" y2="294.1" stroke="#333" stroke-width="0.9"/>
<line x1="96.99333520766515" y1="291.3" x2="96.99333520766515" y2="294.1" stroke="#333" stroke-width="0.9"/>
<line x1="98.0" y1="291.3" x2="98.0" y2="296.3" stroke="#333" stroke-width="0.9"/>
<line x1="104.62265990460759" y1="291.3" x2="104.62265990460759" y2="294.1" stroke="#333" stroke-width="0.9"/>
<line x1="108.49666760383258" y1="291.3" x2="108.49666760383258" y2="294.1" stroke="#333" stroke-width="0.9"/>
<line x1="111.24531980921518" y1="291.3" x2="111.24531980921518" y2="294.1" stroke="#333" stroke-width="0.9"/>
<line x1="113.37734009539241" y1="291.3" x2="113.37734009539241" y2="294.1" stroke="#333" stroke-width="0.9"/>
<line x1="115.11932750844016" y1="291.3" x2="115.11932750844016" y2="294.1" stroke="#333" stroke-width="0.9"/>
<line x1="116.59215688031365" y1="291.3" x2="116.59215688031365" y2="294.1" stroke="#333" stroke-width="0.9"/>
<line x1="117.86797971382276" y1="291.3" x2="117.86797971382276" y2="294.1" stroke="#333" stroke-width="0.9"/>
<line x1="118.99333520766514" y1="291.3" x2="118.99333520766514" y2="294.1" stroke="#333" stroke-width="0.9"/>
<line x1="120" y1="291.3" x2="120" y2="296.3" stroke="#333" stroke-width="0.9"/>
<line x1="45.0" y1="291.3" x2="45.0" y2="293.7" stroke="#444" stroke-width="0.8"/>
<line x1="47.70926996097583" y1="291.3" x2="47.70926996097583" y2="293.7" stroke="#444" stroke-width="0.8"/>
<line x1="49.29409129247696" y1="291.3" x2="49.29409129247696" y2="293.7" stroke="#444" stroke-width="0.8"/>
<line x1="50.41853992195166" y1="291.3" x2="50.41853992195166" y2="293.7" stroke="#444" stroke-width="0.8"/>
<line x1="51.29073003902417" y1="291.3" x2="51.29073003902417" y2="293.7" stroke="#444" stroke-width="0.8"/>
<line x1="52.003361253452795" y1="291.3" x2="52.003361253452795" y2="293.7" stroke="#444" stroke-width="0.8"/>
<line x1="52.60588236012831" y1="291.3" x2="52.60588236012831" y2="293.7" stroke="#444" stroke-width="0.8"/>
<line x1="53.127809882927494" y1="291.3" x2="53.127809882927494" y2="293.7" stroke="#444" stroke-width="0.8"/>
<line x1="53.58818258495393" y1="291.3" x2="53.58818258495393" y2="293.7" stroke="#444" stroke-width="0.8"/>
<line x1="54" y1="291.3" x2="54" y2="293.7" stroke="#444" stroke-width="0.8"/>
<text x="37.2" y="220" font-size="5.8" fill="#333" text-anchor="middle" transform="rotate(-90 37.2 220)">10<tspan dy="-3" font-size="4.8">5</tspan></text>
<text x="37.2" y="240.5" font-size="5.8" fill="#333" text-anchor="middle" transform="rotate(-90 37.2 240.5)">10<tspan dy="-3" font-size="4.8">4</tspan></text>
<text x="37.2" y="259.7" font-size="5.8" fill="#333" text-anchor="middle" transform="rotate(-90 37.2 259.7)">10<tspan dy="-3" font-size="4.8">3</tspan></text>
<text x="37.2" y="279.5" font-size="5.8" fill="#333" text-anchor="middle" transform="rotate(-90 37.2 279.5)">10<tspan dy="-3" font-size="4.8">2</tspan></text>
<text x="54.2" y="304.0" font-size="5.8" fill="#333" text-anchor="middle">10<tspan dy="-3" font-size="4.8">2</tspan></text>
<text x="77" y="304.0" font-size="5.8" fill="#333" text-anchor="middle">10<tspan dy="-3" font-size="4.8">3</tspan></text>
<text x="98.8" y="304.0" font-size="5.8" fill="#333" text-anchor="middle">10<tspan dy="-3" font-size="4.8">4</tspan></text>
<text x="120.2" y="304.0" font-size="5.8" fill="#333" text-anchor="middle">10<tspan dy="-3" font-size="4.8">5</tspan></text>
<text x="80.7" y="314.6" font-size="9" font-weight="bold" text-anchor="middle" fill="#000" textLength="18.6" lengthAdjust="spacingAndGlyphs">Sca1</text>
<text x="25.6" y="255.5" font-size="7" font-weight="bold" text-anchor="middle" fill="#000" transform="rotate(-90 25.6 255.5)" textLength="17" lengthAdjust="spacingAndGlyphs">c-kit</text>
<path d="M186.8 244.4h0.8v0.8h-0.8zM214.0 246.8h0.8v0.8h-0.8zM217.2 247.6h0.8v0.8h-0.8zM215.6 249.2h0.8v0.8h-0.8zM190.0 250.0h0.8v0.8h-0.8zM199.6 250.0h0.8v0.8h-0.8zM213.2 250.8h0.8v0.8h-0.8zM169.2 251.6h0.8v0.8h-0.8zM198.8 251.6h0.8v0.8h-0.8zM201.2 251.6h0.8v0.8h-0.8zM203.6 251.6h1.6v0.8h-1.6zM208.4 251.6h0.8v0.8h-0.8zM223.6 251.6h0.8v0.8h-0.8zM195.6 252.4h1.6v0.8h-1.6zM198.8 252.4h0.8v0.8h-0.8zM201.2 252.4h0.8v0.8h-0.8zM202.8 252.4h0.8v0.8h-0.8zM206.8 252.4h0.8v0.8h-0.8zM211.6 252.4h0.8v0.8h-0.8zM189.2 253.2h0.8v0.8h-0.8zM190.8 253.2h0.8v0.8h-0.8zM192.4 253.2h2.4v0.8h-2.4zM195.6 253.2h0.8v0.8h-0.8zM198.8 253.2h0.8v0.8h-0.8zM204.4 253.2h1.6v0.8h-1.6zM212.4 253.2h0.8v0.8h-0.8zM190.0 254.0h0.8v0.8h-0.8zM191.6 254.0h0.8v0.8h-0.8zM194.8 254.0h0.8v0.8h-0.8zM196.4 254.0h0.8v0.8h-0.8zM198.0 254.0h0.8v0.8h-0.8zM200.4 254.0h0.8v0.8h-0.8zM202.0 254.0h0.8v0.8h-0.8zM218.0 254.0h0.8v0.8h-0.8zM189.2 254.8h2.4v0.8h-2.4zM193.2 254.8h3.2v0.8h-3.2zM199.6 254.8h0.8v0.8h-0.8zM205.2 254.8h0.8v0.8h-0.8zM206.8 254.8h0.8v0.8h-0.8zM190.8 255.6h3.2v0.8h-3.2zM195.6 255.6h0.8v0.8h-0.8zM197.2 255.6h0.8v0.8h-0.8zM202.0 255.6h0.8v0.8h-0.8zM204.4 255.6h0.8v0.8h-0.8zM207.6 255.6h0.8v0.8h-0.8zM209.2 255.6h1.6v0.8h-1.6zM211.6 255.6h0.8v0.8h-0.8zM187.6 256.4h0.8v0.8h-0.8zM190.8 256.4h1.6v0.8h-1.6zM194.0 256.4h0.8v0.8h-0.8zM195.6 256.4h1.6v0.8h-1.6zM202.0 256.4h0.8v0.8h-0.8zM203.6 256.4h2.4v0.8h-2.4zM211.6 256.4h0.8v0.8h-0.8zM189.2 257.2h1.6v0.8h-1.6zM191.6 257.2h2.4v0.8h-2.4zM194.8 257.2h4.0v0.8h-4.0zM199.6 257.2h0.8v0.8h-0.8zM202.8 257.2h0.8v0.8h-0.8zM205.2 257.2h0.8v0.8h-0.8zM206.8 257.2h0.8v0.8h-0.8zM212.4 257.2h0.8v0.8h-0.8zM188.4 258.0h3.2v0.8h-3.2zM192.4 258.0h1.6v0.8h-1.6zM195.6 258.0h2.4v0.8h-2.4zM199.6 258.0h0.8v0.8h-0.8zM203.6 258.0h0.8v0.8h-0.8zM205.2 258.0h0.8v0.8h-0.8zM207.6 258.0h0.8v0.8h-0.8zM217.2 258.0h0.8v0.8h-0.8zM218.8 258.0h0.8v0.8h-0.8zM188.4 258.8h0.8v0.8h-0.8zM190.0 258.8h4.8v0.8h-4.8zM195.6 258.8h5.6v0.8h-5.6zM208.4 258.8h1.6v0.8h-1.6zM213.2 258.8h0.8v0.8h-0.8zM214.8 258.8h0.8v0.8h-0.8zM189.2 259.6h2.4v0.8h-2.4zM192.4 259.6h4.8v0.8h-4.8zM198.0 259.6h2.4v0.8h-2.4zM201.2 259.6h0.8v0.8h-0.8zM202.8 259.6h0.8v0.8h-0.8zM207.6 259.6h0.8v0.8h-0.8zM189.2 260.4h7.2v0.8h-7.2zM197.2 260.4h3.2v0.8h-3.2zM206.8 260.4h0.8v0.8h-0.8zM214.0 260.4h0.8v0.8h-0.8zM219.6 260.4h0.8v0.8h-0.8zM227.6 260.4h0.8v0.8h-0.8zM186.0 261.2h0.8v0.8h-0.8zM188.4 261.2h1.6v0.8h-1.6zM190.8 261.2h2.4v0.8h-2.4zM194.0 261.2h3.2v0.8h-3.2zM198.0 261.2h1.6v0.8h-1.6zM202.0 261.2h0.8v0.8h-0.8zM203.6 261.2h0.8v0.8h-0.8zM206.0 261.2h0.8v0.8h-0.8zM209.2 261.2h0.8v0.8h-0.8zM217.2 261.2h1.6v0.8h-1.6zM220.4 261.2h0.8v0.8h-0.8zM178.8 262.0h0.8v0.8h-0.8zM187.6 262.0h1.6v0.8h-1.6zM190.8 262.0h10.4v0.8h-10.4zM202.8 262.0h1.6v0.8h-1.6zM186.8 262.8h0.8v0.8h-0.8zM189.2 262.8h3.2v0.8h-3.2zM193.2 262.8h7.2v0.8h-7.2zM201.2 262.8h0.8v0.8h-0.8zM203.6 262.8h0.8v0.8h-0.8zM214.8 262.8h0.8v0.8h-0.8zM186.0 263.6h0.8v0.8h-0.8zM188.4 263.6h13.6v0.8h-13.6zM202.8 263.6h0.8v0.8h-0.8zM205.2 263.6h1.6v0.8h-1.6zM210.0 263.6h1.6v0.8h-1.6zM174.8 264.4h0.8v0.8h-0.8zM182.8 264.4h0.8v0.8h-0.8zM188.4 264.4h4.8v0.8h-4.8zM194.8 264.4h2.4v0.8h-2.4zM198.0 264.4h2.4v0.8h-2.4zM201.2 264.4h0.8v0.8h-0.8zM186.0 265.2h0.8v0.8h-0.8zM187.6 265.2h4.8v0.8h-4.8zM193.2 265.2h1.6v0.8h-1.6zM195.6 265.2h4.0v0.8h-4.0zM200.4 265.2h1.6v0.8h-1.6zM203.6 265.2h1.6v0.8h-1.6zM206.8 265.2h0.8v0.8h-0.8zM208.4 265.2h0.8v0.8h-0.8zM214.0 265.2h0.8v0.8h-0.8zM181.2 266.0h0.8v0.8h-0.8zM183.6 266.0h0.8v0.8h-0.8zM187.6 266.0h12.8v0.8h-12.8zM201.2 266.0h2.4v0.8h-2.4zM204.4 266.0h1.6v0.8h-1.6zM208.4 266.0h0.8v0.8h-0.8zM211.6 266.0h0.8v0.8h-0.8zM186.8 266.8h0.8v0.8h-0.8zM189.2 266.8h6.4v0.8h-6.4zM196.4 266.8h2.4v0.8h-2.4zM199.6 266.8h1.6v0.8h-1.6zM208.4 266.8h0.8v0.8h-0.8zM187.6 267.6h2.4v0.8h-2.4zM190.8 267.6h4.0v0.8h-4.0zM195.6 267.6h5.6v0.8h-5.6zM210.0 267.6h0.8v0.8h-0.8zM212.4 267.6h0.8v0.8h-0.8zM165.2 268.4h0.8v0.8h-0.8zM171.6 268.4h0.8v0.8h-0.8zM186.8 268.4h0.8v0.8h-0.8zM188.4 268.4h8.0v0.8h-8.0zM198.0 268.4h1.6v0.8h-1.6zM200.4 268.4h0.8v0.8h-0.8zM202.0 268.4h0.8v0.8h-0.8zM178.8 269.2h0.8v0.8h-0.8zM182.0 269.2h0.8v0.8h-0.8zM186.0 269.2h1.6v0.8h-1.6zM188.4 269.2h0.8v0.8h-0.8zM190.0 269.2h9.6v0.8h-9.6zM184.4 270.0h1.6v0.8h-1.6zM186.8 270.0h0.8v0.8h-0.8zM188.4 270.0h3.2v0.8h-3.2zM192.4 270.0h1.6v0.8h-1.6zM194.8 270.0h4.8v0.8h-4.8zM216.4 270.0h0.8v0.8h-0.8zM176.4 270.8h0.8v0.8h-0.8zM186.8 270.8h1.6v0.8h-1.6zM189.2 270.8h2.4v0.8h-2.4zM192.4 270.8h0.8v0.8h-0.8zM194.0 270.8h4.0v0.8h-4.0zM200.4 270.8h2.4v0.8h-2.4zM203.6 270.8h0.8v0.8h-0.8zM211.6 270.8h0.8v0.8h-0.8zM182.8 271.6h0.8v0.8h-0.8zM186.8 271.6h2.4v0.8h-2.4zM190.0 271.6h3.2v0.8h-3.2zM194.0 271.6h2.4v0.8h-2.4zM197.2 271.6h2.4v0.8h-2.4zM171.6 272.4h0.8v0.8h-0.8zM175.6 272.4h0.8v0.8h-0.8zM178.0 272.4h0.8v0.8h-0.8zM186.0 272.4h0.8v0.8h-0.8zM190.0 272.4h8.8v0.8h-8.8zM199.6 272.4h1.6v0.8h-1.6zM210.0 272.4h0.8v0.8h-0.8zM181.2 273.2h0.8v0.8h-0.8zM186.8 273.2h0.8v0.8h-0.8zM189.2 273.2h7.2v0.8h-7.2zM198.0 273.2h0.8v0.8h-0.8zM200.4 273.2h1.6v0.8h-1.6zM186.8 274.0h0.8v0.8h-0.8zM188.4 274.0h0.8v0.8h-0.8zM190.0 274.0h0.8v0.8h-0.8zM191.6 274.0h8.0v0.8h-8.0zM200.4 274.0h0.8v0.8h-0.8zM211.6 274.0h0.8v0.8h-0.8zM175.6 274.8h0.8v0.8h-0.8zM181.2 274.8h0.8v0.8h-0.8zM186.0 274.8h0.8v0.8h-0.8zM187.6 274.8h0.8v0.8h-0.8zM189.2 274.8h3.2v0.8h-3.2zM193.2 274.8h1.6v0.8h-1.6zM195.6 274.8h3.2v0.8h-3.2zM201.2 274.8h0.8v0.8h-0.8zM202.8 274.8h0.8v0.8h-0.8zM205.2 274.8h0.8v0.8h-0.8zM217.2 274.8h0.8v0.8h-0.8zM172.4 275.6h0.8v0.8h-0.8zM186.0 275.6h0.8v0.8h-0.8zM187.6 275.6h3.2v0.8h-3.2zM191.6 275.6h0.8v0.8h-0.8zM194.0 275.6h0.8v0.8h-0.8zM195.6 275.6h1.6v0.8h-1.6zM198.0 275.6h1.6v0.8h-1.6zM201.2 275.6h1.6v0.8h-1.6zM206.8 275.6h0.8v0.8h-0.8zM210.0 275.6h0.8v0.8h-0.8zM184.4 276.4h0.8v0.8h-0.8zM186.0 276.4h1.6v0.8h-1.6zM189.2 276.4h2.4v0.8h-2.4zM192.4 276.4h1.6v0.8h-1.6zM195.6 276.4h1.6v0.8h-1.6zM198.0 276.4h2.4v0.8h-2.4zM183.6 277.2h0.8v0.8h-0.8zM185.2 277.2h0.8v0.8h-0.8zM189.2 277.2h1.6v0.8h-1.6zM191.6 277.2h4.8v0.8h-4.8zM197.2 277.2h0.8v0.8h-0.8zM199.6 277.2h0.8v0.8h-0.8zM214.0 277.2h0.8v0.8h-0.8zM163.6 278.0h0.8v0.8h-0.8zM181.2 278.0h0.8v0.8h-0.8zM184.4 278.0h0.8v0.8h-0.8zM186.0 278.0h0.8v0.8h-0.8zM187.6 278.0h1.6v0.8h-1.6zM190.0 278.0h5.6v0.8h-5.6zM196.4 278.0h1.6v0.8h-1.6zM210.8 278.0h0.8v0.8h-0.8zM189.2 278.8h1.6v0.8h-1.6zM191.6 278.8h5.6v0.8h-5.6zM198.0 278.8h1.6v0.8h-1.6zM201.2 278.8h0.8v0.8h-0.8zM204.4 278.8h0.8v0.8h-0.8zM183.6 279.6h0.8v0.8h-0.8zM192.4 279.6h0.8v0.8h-0.8zM194.0 279.6h4.8v0.8h-4.8zM185.2 280.4h0.8v0.8h-0.8zM186.8 280.4h0.8v0.8h-0.8zM190.0 280.4h0.8v0.8h-0.8zM191.6 280.4h0.8v0.8h-0.8zM201.2 280.4h1.6v0.8h-1.6zM205.2 280.4h0.8v0.8h-0.8zM179.6 281.2h0.8v0.8h-0.8zM186.8 281.2h0.8v0.8h-0.8zM189.2 281.2h0.8v0.8h-0.8zM191.6 281.2h1.6v0.8h-1.6zM194.0 281.2h0.8v0.8h-0.8zM195.6 281.2h0.8v0.8h-0.8zM198.0 281.2h0.8v0.8h-0.8zM208.4 281.2h0.8v0.8h-0.8zM182.0 282.0h0.8v0.8h-0.8zM189.2 282.0h4.0v0.8h-4.0zM194.0 282.0h1.6v0.8h-1.6zM196.4 282.0h0.8v0.8h-0.8zM213.2 282.0h0.8v0.8h-0.8zM183.6 282.8h0.8v0.8h-0.8zM187.6 282.8h0.8v0.8h-0.8zM191.6 282.8h4.0v0.8h-4.0zM201.2 282.8h0.8v0.8h-0.8zM177.2 283.6h0.8v0.8h-0.8zM190.0 283.6h0.8v0.8h-0.8zM191.6 283.6h0.8v0.8h-0.8zM194.8 283.6h0.8v0.8h-0.8zM196.4 283.6h1.6v0.8h-1.6zM201.2 283.6h1.6v0.8h-1.6zM208.4 283.6h0.8v0.8h-0.8zM181.2 284.4h0.8v0.8h-0.8zM188.4 284.4h0.8v0.8h-0.8zM194.0 284.4h0.8v0.8h-0.8zM191.6 285.2h1.6v0.8h-1.6zM195.6 285.2h0.8v0.8h-0.8zM186.8 286.0h0.8v0.8h-0.8zM190.8 286.8h0.8v0.8h-0.8zM192.4 286.8h0.8v0.8h-0.8zM187.6 287.6h0.8v0.8h-0.8zM192.4 287.6h0.8v0.8h-0.8zM196.4 287.6h0.8v0.8h-0.8zM179.6 289.2h0.8v0.8h-0.8zM190.8 289.2h0.8v0.8h-0.8zM204.4 289.2h0.8v0.8h-0.8zM198.0 290.0h0.8v0.8h-0.8z" fill="#a8a8a8"/>
<line x1="162.8" y1="212.4" x2="251.0" y2="212.4" stroke="#888" stroke-width="1.0"/>
<line x1="162.8" y1="212.4" x2="162.8" y2="291.3" stroke="#888" stroke-width="1.0"/>
<line x1="251.0" y1="212.4" x2="251.0" y2="291.3" stroke="#666" stroke-width="1.5"/>
<line x1="162.3" y1="291.3" x2="252.0" y2="291.3" stroke="#333" stroke-width="1.3"/>
<line x1="190.4" y1="212.4" x2="190.4" y2="291.3" stroke="#555" stroke-width="0.8"/>
<line x1="162.8" y1="269.6" x2="251.0" y2="269.6" stroke="#555" stroke-width="0.9"/>
<line x1="158.8" y1="273.6" x2="162.8" y2="273.6" stroke="#333" stroke-width="0.9"/>
<line x1="160.0" y1="268.12125407891557" x2="162.8" y2="268.12125407891557" stroke="#333" stroke-width="0.9"/>
<line x1="160.0" y1="264.91639316410215" x2="162.8" y2="264.91639316410215" stroke="#333" stroke-width="0.9"/>
<line x1="160.0" y1="262.6425081578311" x2="162.8" y2="262.6425081578311" stroke="#333" stroke-width="0.9"/>
<line x1="160.0" y1="260.8787459210845" x2="162.8" y2="260.8787459210845" stroke="#333" stroke-width="0.9"/>
<line x1="160.0" y1="259.4376472430177" x2="162.8" y2="259.4376472430177" stroke="#333" stroke-width="0.9"/>
<line x1="160.0" y1="258.2192156717405" x2="162.8" y2="258.2192156717405" stroke="#333" stroke-width="0.9"/>
<line x1="160.0" y1="257.16376223674666" x2="162.8" y2="257.16376223674666" stroke="#333" stroke-width="0.9"/>
<line x1="160.0" y1="256.2327863282043" x2="162.8" y2="256.2327863282043" stroke="#333" stroke-width="0.9"/>
<line x1="158.8" y1="255.4" x2="162.8" y2="255.4" stroke="#333" stroke-width="0.9"/>
<line x1="160.0" y1="249.92125407891555" x2="162.8" y2="249.92125407891555" stroke="#333" stroke-width="0.9"/>
<line x1="160.0" y1="246.71639316410216" x2="162.8" y2="246.71639316410216" stroke="#333" stroke-width="0.9"/>
<line x1="160.0" y1="244.4425081578311" x2="162.8" y2="244.4425081578311" stroke="#333" stroke-width="0.9"/>
<line x1="160.0" y1="242.67874592108447" x2="162.8" y2="242.67874592108447" stroke="#333" stroke-width="0.9"/>
<line x1="160.0" y1="241.2376472430177" x2="162.8" y2="241.2376472430177" stroke="#333" stroke-width="0.9"/>
<line x1="160.0" y1="240.01921567174054" x2="162.8" y2="240.01921567174054" stroke="#333" stroke-width="0.9"/>
<line x1="160.0" y1="238.96376223674665" x2="162.8" y2="238.96376223674665" stroke="#333" stroke-width="0.9"/>
<line x1="160.0" y1="238.03278632820428" x2="162.8" y2="238.03278632820428" stroke="#333" stroke-width="0.9"/>
<line x1="158.8" y1="237.20000000000002" x2="162.8" y2="237.20000000000002" stroke="#333" stroke-width="0.9"/>
<line x1="160.0" y1="231.72125407891554" x2="162.8" y2="231.72125407891554" stroke="#333" stroke-width="0.9"/>
<line x1="160.0" y1="228.51639316410214" x2="162.8" y2="228.51639316410214" stroke="#333" stroke-width="0.9"/>
<line x1="160.0" y1="226.24250815783108" x2="162.8" y2="226.24250815783108" stroke="#333" stroke-width="0.9"/>
<line x1="160.0" y1="224.47874592108445" x2="162.8" y2="224.47874592108445" stroke="#333" stroke-width="0.9"/>
<line x1="160.0" y1="223.0376472430177" x2="162.8" y2="223.0376472430177" stroke="#333" stroke-width="0.9"/>
<line x1="160.0" y1="221.81921567174052" x2="162.8" y2="221.81921567174052" stroke="#333" stroke-width="0.9"/>
<line x1="160.0" y1="220.76376223674663" x2="162.8" y2="220.76376223674663" stroke="#333" stroke-width="0.9"/>
<line x1="160.0" y1="219.8327863282043" x2="162.8" y2="219.8327863282043" stroke="#333" stroke-width="0.9"/>
<line x1="158.8" y1="219" x2="162.8" y2="219" stroke="#333" stroke-width="0.9"/>
<line x1="160.4" y1="277" x2="162.8" y2="277" stroke="#444" stroke-width="0.8"/>
<line x1="160.4" y1="280" x2="162.8" y2="280" stroke="#444" stroke-width="0.8"/>
<line x1="160.4" y1="283" x2="162.8" y2="283" stroke="#444" stroke-width="0.8"/>
<line x1="160.4" y1="285.5" x2="162.8" y2="285.5" stroke="#444" stroke-width="0.8"/>
<line x1="181.0" y1="291.3" x2="181.0" y2="296.3" stroke="#333" stroke-width="0.9"/>
<line x1="187.1410119115452" y1="291.3" x2="187.1410119115452" y2="294.1" stroke="#333" stroke-width="0.9"/>
<line x1="190.73327359628112" y1="291.3" x2="190.73327359628112" y2="294.1" stroke="#333" stroke-width="0.9"/>
<line x1="193.28202382309044" y1="291.3" x2="193.28202382309044" y2="294.1" stroke="#333" stroke-width="0.9"/>
<line x1="195.25898808845477" y1="291.3" x2="195.25898808845477" y2="294.1" stroke="#333" stroke-width="0.9"/>
<line x1="196.87428550782633" y1="291.3" x2="196.87428550782633" y2="294.1" stroke="#333" stroke-width="0.9"/>
<line x1="198.24000001629082" y1="291.3" x2="198.24000001629082" y2="294.1" stroke="#333" stroke-width="0.9"/>
<line x1="199.42303573463565" y1="291.3" x2="199.42303573463565" y2="294.1" stroke="#333" stroke-width="0.9"/>
<line x1="200.46654719256222" y1="291.3" x2="200.46654719256222" y2="294.1" stroke="#333" stroke-width="0.9"/>
<line x1="201.4" y1="291.3" x2="201.4" y2="296.3" stroke="#333" stroke-width="0.9"/>
<line x1="207.5410119115452" y1="291.3" x2="207.5410119115452" y2="294.1" stroke="#333" stroke-width="0.9"/>
<line x1="211.1332735962811" y1="291.3" x2="211.1332735962811" y2="294.1" stroke="#333" stroke-width="0.9"/>
<line x1="213.68202382309042" y1="291.3" x2="213.68202382309042" y2="294.1" stroke="#333" stroke-width="0.9"/>
<line x1="215.65898808845478" y1="291.3" x2="215.65898808845478" y2="294.1" stroke="#333" stroke-width="0.9"/>
<line x1="217.27428550782633" y1="291.3" x2="217.27428550782633" y2="294.1" stroke="#333" stroke-width="0.9"/>
<line x1="218.64000001629083" y1="291.3" x2="218.64000001629083" y2="294.1" stroke="#333" stroke-width="0.9"/>
<line x1="219.82303573463565" y1="291.3" x2="219.82303573463565" y2="294.1" stroke="#333" stroke-width="0.9"/>
<line x1="220.86654719256222" y1="291.3" x2="220.86654719256222" y2="294.1" stroke="#333" stroke-width="0.9"/>
<line x1="221.79999999999998" y1="291.3" x2="221.79999999999998" y2="296.3" stroke="#333" stroke-width="0.9"/>
<line x1="227.94101191154522" y1="291.3" x2="227.94101191154522" y2="294.1" stroke="#333" stroke-width="0.9"/>
<line x1="231.5332735962811" y1="291.3" x2="231.5332735962811" y2="294.1" stroke="#333" stroke-width="0.9"/>
<line x1="234.08202382309042" y1="291.3" x2="234.08202382309042" y2="294.1" stroke="#333" stroke-width="0.9"/>
<line x1="236.05898808845478" y1="291.3" x2="236.05898808845478" y2="294.1" stroke="#333" stroke-width="0.9"/>
<line x1="237.6742855078263" y1="291.3" x2="237.6742855078263" y2="294.1" stroke="#333" stroke-width="0.9"/>
<line x1="239.04000001629083" y1="291.3" x2="239.04000001629083" y2="294.1" stroke="#333" stroke-width="0.9"/>
<line x1="240.22303573463563" y1="291.3" x2="240.22303573463563" y2="294.1" stroke="#333" stroke-width="0.9"/>
<line x1="241.2665471925622" y1="291.3" x2="241.2665471925622" y2="294.1" stroke="#333" stroke-width="0.9"/>
<line x1="242.2" y1="291.3" x2="242.2" y2="296.3" stroke="#333" stroke-width="0.9"/>
<line x1="166" y1="291.3" x2="166" y2="294.1" stroke="#444" stroke-width="0.9"/>
<line x1="168.5" y1="291.3" x2="168.5" y2="294.1" stroke="#444" stroke-width="0.9"/>
<line x1="171" y1="291.3" x2="171" y2="294.1" stroke="#444" stroke-width="0.9"/>
<line x1="173.5" y1="291.3" x2="173.5" y2="294.1" stroke="#444" stroke-width="0.9"/>
<line x1="176" y1="291.3" x2="176" y2="294.1" stroke="#444" stroke-width="0.9"/>
<line x1="178.5" y1="291.3" x2="178.5" y2="294.1" stroke="#444" stroke-width="0.9"/>
<text x="202.4" y="235.8" font-size="6.3" text-anchor="start" fill="#222" stroke="#222" stroke-width="0.2">Q2</text>
<text x="170.1" y="258" font-size="6.3" text-anchor="start" fill="#222" stroke="#222" stroke-width="0.2">Q1</text>
<text x="169.4" y="287.4" font-size="6.3" text-anchor="start" fill="#222" stroke="#222" stroke-width="0.2">Q3</text>
<text x="203" y="287.4" font-size="6.3" text-anchor="start" fill="#222" stroke="#222" stroke-width="0.2">Q4</text>
<text x="157.6" y="219" font-size="5.8" fill="#333" text-anchor="middle" transform="rotate(-90 157.6 219)">10<tspan dy="-3" font-size="4.6">5</tspan></text>
<text x="157.6" y="237.5" font-size="5.8" fill="#333" text-anchor="middle" transform="rotate(-90 157.6 237.5)">10<tspan dy="-3" font-size="4.6">4</tspan></text>
<text x="157.6" y="255" font-size="5.8" fill="#333" text-anchor="middle" transform="rotate(-90 157.6 255)">10<tspan dy="-3" font-size="4.6">3</tspan></text>
<text x="157.6" y="273.6" font-size="5.8" fill="#333" text-anchor="middle" transform="rotate(-90 157.6 273.6)">10<tspan dy="-3" font-size="4.6">2</tspan></text>
<text x="150.5" y="289" font-size="5" fill="#444" text-anchor="middle" transform="rotate(-90 150.5 289)">-91</text>
<text x="171" y="303.4" font-size="5.8" fill="#333" text-anchor="middle">0</text>
<text x="181" y="303.4" font-size="5.8" fill="#333" text-anchor="middle">10<tspan dy="-3" font-size="4.6">2</tspan></text>
<text x="202.2" y="303.4" font-size="5.8" fill="#333" text-anchor="middle">10<tspan dy="-3" font-size="4.6">3</tspan></text>
<text x="222.5" y="303.4" font-size="5.8" fill="#333" text-anchor="middle">10<tspan dy="-3" font-size="4.6">4</tspan></text>
<text x="242.2" y="303.4" font-size="5.8" fill="#333" text-anchor="middle">10<tspan dy="-3" font-size="4.6">5</tspan></text>
<text x="199.9" y="314.7" font-size="9" font-weight="bold" text-anchor="middle" fill="#000" textLength="20.8" lengthAdjust="spacingAndGlyphs">CD34</text>
<text x="148.5" y="252.8" font-size="7.8" font-weight="bold" text-anchor="middle" fill="#000" transform="rotate(-90 148.5 252.8)" textLength="16.5" lengthAdjust="spacingAndGlyphs">KI67</text>
<text x="257" y="251.3" font-size="9.2" font-weight="bold" text-anchor="start" fill="#000">WT</text>
<path d="M71.9 336.0h0.8v0.8h-0.8zM84.7 340.8h0.8v0.8h-0.8zM72.7 348.0h0.8v0.8h-0.8zM77.5 348.0h0.8v0.8h-0.8zM79.9 348.0h0.8v0.8h-0.8zM79.9 348.8h0.8v0.8h-0.8zM78.3 349.6h0.8v0.8h-0.8zM79.9 349.6h0.8v0.8h-0.8zM57.5 350.4h0.8v0.8h-0.8zM59.1 350.4h0.8v0.8h-0.8zM60.7 350.4h0.8v0.8h-0.8zM64.7 350.4h0.8v0.8h-0.8zM70.3 350.4h0.8v0.8h-0.8zM73.5 350.4h0.8v0.8h-0.8zM75.1 350.4h1.6v0.8h-1.6zM77.5 350.4h0.8v0.8h-0.8zM83.1 350.4h1.6v0.8h-1.6zM92.7 350.4h0.8v0.8h-0.8zM56.7 351.2h0.8v0.8h-0.8zM63.9 351.2h0.8v0.8h-0.8zM66.3 351.2h0.8v0.8h-0.8zM73.5 351.2h0.8v0.8h-0.8zM76.7 351.2h0.8v0.8h-0.8zM83.9 351.2h0.8v0.8h-0.8zM61.5 352.0h0.8v0.8h-0.8zM67.1 352.0h0.8v0.8h-0.8zM69.5 352.0h0.8v0.8h-0.8zM71.1 352.0h1.6v0.8h-1.6zM75.1 352.0h1.6v0.8h-1.6zM78.3 352.0h1.6v0.8h-1.6zM80.7 352.0h0.8v0.8h-0.8zM83.1 352.0h0.8v0.8h-0.8zM89.5 352.0h3.2v0.8h-3.2zM52.7 352.8h1.6v0.8h-1.6zM59.1 352.8h0.8v0.8h-0.8zM67.1 352.8h1.6v0.8h-1.6zM71.1 352.8h3.2v0.8h-3.2zM75.1 352.8h0.8v0.8h-0.8zM76.7 352.8h0.8v0.8h-0.8zM78.3 352.8h0.8v0.8h-0.8zM79.9 352.8h0.8v0.8h-0.8zM82.3 352.8h0.8v0.8h-0.8zM83.9 352.8h3.2v0.8h-3.2zM62.3 353.6h2.4v0.8h-2.4zM66.3 353.6h0.8v0.8h-0.8zM67.9 353.6h2.4v0.8h-2.4zM73.5 353.6h0.8v0.8h-0.8zM75.1 353.6h2.4v0.8h-2.4zM78.3 353.6h0.8v0.8h-0.8zM82.3 353.6h0.8v0.8h-0.8zM83.9 353.6h2.4v0.8h-2.4zM88.7 353.6h1.6v0.8h-1.6zM91.1 353.6h0.8v0.8h-0.8zM57.5 354.4h0.8v0.8h-0.8zM60.7 354.4h0.8v0.8h-0.8zM62.3 354.4h0.8v0.8h-0.8zM64.7 354.4h0.8v0.8h-0.8zM67.1 354.4h0.8v0.8h-0.8zM68.7 354.4h6.4v0.8h-6.4zM76.7 354.4h3.2v0.8h-3.2zM80.7 354.4h1.6v0.8h-1.6zM83.1 354.4h0.8v0.8h-0.8zM84.7 354.4h1.6v0.8h-1.6zM87.9 354.4h1.6v0.8h-1.6zM92.7 354.4h1.6v0.8h-1.6zM54.3 355.2h0.8v0.8h-0.8zM63.1 355.2h0.8v0.8h-0.8zM66.3 355.2h0.8v0.8h-0.8zM67.9 355.2h0.8v0.8h-0.8zM69.5 355.2h4.8v0.8h-4.8zM75.1 355.2h2.4v0.8h-2.4zM79.9 355.2h4.8v0.8h-4.8zM86.3 355.2h8.0v0.8h-8.0zM61.5 356.0h0.8v0.8h-0.8zM63.1 356.0h1.6v0.8h-1.6zM65.5 356.0h15.2v0.8h-15.2zM81.5 356.0h12.8v0.8h-12.8zM44.7 356.8h0.8v0.8h-0.8zM53.5 356.8h0.8v0.8h-0.8zM59.1 356.8h0.8v0.8h-0.8zM60.7 356.8h1.6v0.8h-1.6zM63.1 356.8h4.0v0.8h-4.0zM67.9 356.8h26.4v0.8h-26.4zM52.7 357.6h0.8v0.8h-0.8zM59.9 357.6h0.8v0.8h-0.8zM61.5 357.6h1.6v0.8h-1.6zM65.5 357.6h0.8v0.8h-0.8zM67.1 357.6h27.2v0.8h-27.2zM59.9 358.4h0.8v0.8h-0.8zM62.3 358.4h32.0v0.8h-32.0zM50.3 359.2h0.8v0.8h-0.8zM54.3 359.2h0.8v0.8h-0.8zM57.5 359.2h1.6v0.8h-1.6zM60.7 359.2h33.6v0.8h-33.6zM56.7 360.0h3.2v0.8h-3.2zM60.7 360.0h33.6v0.8h-33.6zM47.1 360.8h1.6v0.8h-1.6zM52.7 360.8h0.8v0.8h-0.8zM55.9 360.8h2.4v0.8h-2.4zM59.1 360.8h1.6v0.8h-1.6zM61.5 360.8h32.8v0.8h-32.8zM50.3 361.6h0.8v0.8h-0.8zM51.9 361.6h0.8v0.8h-0.8zM55.1 361.6h0.8v0.8h-0.8zM58.3 361.6h0.8v0.8h-0.8zM60.7 361.6h33.6v0.8h-33.6zM51.9 362.4h0.8v0.8h-0.8zM55.9 362.4h0.8v0.8h-0.8zM57.5 362.4h0.8v0.8h-0.8zM59.1 362.4h0.8v0.8h-0.8zM60.7 362.4h33.6v0.8h-33.6zM49.5 363.2h2.4v0.8h-2.4zM56.7 363.2h37.6v0.8h-37.6zM43.9 364.0h0.8v0.8h-0.8zM49.5 364.0h0.8v0.8h-0.8zM52.7 364.0h1.6v0.8h-1.6zM56.7 364.0h37.6v0.8h-37.6zM47.9 364.8h2.4v0.8h-2.4zM52.7 364.8h1.6v0.8h-1.6zM55.9 364.8h0.8v0.8h-0.8zM57.5 364.8h36.8v0.8h-36.8zM50.3 365.6h1.6v0.8h-1.6zM55.9 365.6h0.8v0.8h-0.8zM57.5 365.6h0.8v0.8h-0.8zM59.1 365.6h35.2v0.8h-35.2zM50.3 366.4h2.4v0.8h-2.4zM54.3 366.4h2.4v0.8h-2.4zM57.5 366.4h36.8v0.8h-36.8zM48.7 367.2h0.8v0.8h-0.8zM53.5 367.2h0.8v0.8h-0.8zM56.7 367.2h37.6v0.8h-37.6zM46.3 368.0h0.8v0.8h-0.8zM51.9 368.0h3.2v0.8h-3.2zM55.9 368.0h1.6v0.8h-1.6zM58.3 368.0h36.0v0.8h-36.0zM43.9 368.8h0.8v0.8h-0.8zM46.3 368.8h0.8v0.8h-0.8zM47.9 368.8h0.8v0.8h-0.8zM49.5 368.8h1.6v0.8h-1.6zM51.9 368.8h0.8v0.8h-0.8zM53.5 368.8h3.2v0.8h-3.2zM57.5 368.8h31.2v0.8h-31.2zM89.5 368.8h4.8v0.8h-4.8zM43.9 369.6h0.8v0.8h-0.8zM46.3 369.6h0.8v0.8h-0.8zM48.7 369.6h0.8v0.8h-0.8zM50.3 369.6h1.6v0.8h-1.6zM52.7 369.6h0.8v0.8h-0.8zM55.1 369.6h0.8v0.8h-0.8zM56.7 369.6h0.8v0.8h-0.8zM58.3 369.6h32.8v0.8h-32.8zM92.7 369.6h2.4v0.8h-2.4zM95.9 369.6h0.8v0.8h-0.8zM99.1 369.6h2.4v0.8h-2.4zM102.3 369.6h2.4v0.8h-2.4zM105.5 369.6h2.4v0.8h-2.4zM108.7 369.6h0.8v0.8h-0.8zM110.3 369.6h1.6v0.8h-1.6zM112.7 369.6h0.8v0.8h-0.8zM114.3 369.6h0.8v0.8h-0.8zM117.5 369.6h0.8v0.8h-0.8zM119.9 369.6h1.6v0.8h-1.6zM123.1 369.6h1.6v0.8h-1.6zM127.9 369.6h0.8v0.8h-0.8zM45.5 370.4h0.8v0.8h-0.8zM49.5 370.4h2.4v0.8h-2.4zM54.3 370.4h37.6v0.8h-37.6zM92.7 370.4h0.8v0.8h-0.8zM94.3 370.4h4.8v0.8h-4.8zM100.7 370.4h1.6v0.8h-1.6zM104.7 370.4h0.8v0.8h-0.8zM108.7 370.4h0.8v0.8h-0.8zM110.3 370.4h0.8v0.8h-0.8zM112.7 370.4h1.6v0.8h-1.6zM115.1 370.4h0.8v0.8h-0.8zM116.7 370.4h0.8v0.8h-0.8zM118.3 370.4h0.8v0.8h-0.8zM44.7 371.2h0.8v0.8h-0.8zM51.9 371.2h0.8v0.8h-0.8zM55.1 371.2h38.4v0.8h-38.4zM94.3 371.2h0.8v0.8h-0.8zM95.9 371.2h8.8v0.8h-8.8zM105.5 371.2h1.6v0.8h-1.6zM107.9 371.2h1.6v0.8h-1.6zM111.1 371.2h3.2v0.8h-3.2zM117.5 371.2h0.8v0.8h-0.8zM123.1 371.2h0.8v0.8h-0.8zM44.7 372.0h0.8v0.8h-0.8zM51.1 372.0h3.2v0.8h-3.2zM55.1 372.0h0.8v0.8h-0.8zM56.7 372.0h33.6v0.8h-33.6zM91.9 372.0h0.8v0.8h-0.8zM93.5 372.0h1.6v0.8h-1.6zM96.7 372.0h1.6v0.8h-1.6zM99.9 372.0h3.2v0.8h-3.2zM103.9 372.0h3.2v0.8h-3.2zM108.7 372.0h0.8v0.8h-0.8zM110.3 372.0h2.4v0.8h-2.4zM114.3 372.0h1.6v0.8h-1.6zM44.7 372.8h0.8v0.8h-0.8zM52.7 372.8h0.8v0.8h-0.8zM54.3 372.8h2.4v0.8h-2.4zM57.5 372.8h32.8v0.8h-32.8zM91.1 372.8h0.8v0.8h-0.8zM93.5 372.8h2.4v0.8h-2.4zM96.7 372.8h4.0v0.8h-4.0zM101.5 372.8h4.8v0.8h-4.8zM107.1 372.8h3.2v0.8h-3.2zM113.5 372.8h0.8v0.8h-0.8zM115.1 372.8h0.8v0.8h-0.8zM116.7 372.8h3.2v0.8h-3.2zM120.7 372.8h0.8v0.8h-0.8zM122.3 372.8h0.8v0.8h-0.8zM47.9 373.6h0.8v0.8h-0.8zM49.5 373.6h1.6v0.8h-1.6zM51.9 373.6h1.6v0.8h-1.6zM54.3 373.6h0.8v0.8h-0.8zM55.9 373.6h44.8v0.8h-44.8zM101.5 373.6h5.6v0.8h-5.6zM107.9 373.6h1.6v0.8h-1.6zM110.3 373.6h0.8v0.8h-0.8zM111.9 373.6h2.4v0.8h-2.4zM117.5 373.6h0.8v0.8h-0.8zM119.1 373.6h1.6v0.8h-1.6zM125.5 373.6h1.6v0.8h-1.6zM45.5 374.4h0.8v0.8h-0.8zM51.1 374.4h1.6v0.8h-1.6zM55.1 374.4h37.6v0.8h-37.6zM93.5 374.4h9.6v0.8h-9.6zM103.9 374.4h8.8v0.8h-8.8zM114.3 374.4h0.8v0.8h-0.8zM116.7 374.4h0.8v0.8h-0.8zM118.3 374.4h1.6v0.8h-1.6zM120.7 374.4h0.8v0.8h-0.8zM126.3 374.4h0.8v0.8h-0.8zM49.5 375.2h0.8v0.8h-0.8zM51.9 375.2h0.8v0.8h-0.8zM53.5 375.2h1.6v0.8h-1.6zM55.9 375.2h36.0v0.8h-36.0zM92.7 375.2h1.6v0.8h-1.6zM95.9 375.2h9.6v0.8h-9.6zM106.3 375.2h2.4v0.8h-2.4zM109.5 375.2h0.8v0.8h-0.8zM112.7 375.2h1.6v0.8h-1.6zM115.9 375.2h0.8v0.8h-0.8zM117.5 375.2h0.8v0.8h-0.8zM119.1 375.2h0.8v0.8h-0.8zM121.5 375.2h1.6v0.8h-1.6zM127.9 375.2h0.8v0.8h-0.8zM49.5 376.0h0.8v0.8h-0.8zM52.7 376.0h0.8v0.8h-0.8zM54.3 376.0h36.8v0.8h-36.8zM92.7 376.0h1.6v0.8h-1.6zM95.1 376.0h4.0v0.8h-4.0zM99.9 376.0h7.2v0.8h-7.2zM107.9 376.0h1.6v0.8h-1.6zM110.3 376.0h0.8v0.8h-0.8zM111.9 376.0h0.8v0.8h-0.8zM113.5 376.0h0.8v0.8h-0.8zM119.9 376.0h0.8v0.8h-0.8zM121.5 376.0h0.8v0.8h-0.8zM126.3 376.0h0.8v0.8h-0.8zM128.7 376.0h0.8v0.8h-0.8zM43.9 376.8h0.8v0.8h-0.8zM49.5 376.8h0.8v0.8h-0.8zM54.3 376.8h2.4v0.8h-2.4zM57.5 376.8h34.4v0.8h-34.4zM92.7 376.8h2.4v0.8h-2.4zM95.9 376.8h8.8v0.8h-8.8zM105.5 376.8h3.2v0.8h-3.2zM110.3 376.8h3.2v0.8h-3.2zM115.1 376.8h0.8v0.8h-0.8zM116.7 376.8h0.8v0.8h-0.8zM118.3 376.8h1.6v0.8h-1.6zM49.5 377.6h1.6v0.8h-1.6zM51.9 377.6h0.8v0.8h-0.8zM55.1 377.6h0.8v0.8h-0.8zM56.7 377.6h34.4v0.8h-34.4zM91.9 377.6h11.2v0.8h-11.2zM103.9 377.6h0.8v0.8h-0.8zM105.5 377.6h4.8v0.8h-4.8zM111.9 377.6h1.6v0.8h-1.6zM119.1 377.6h0.8v0.8h-0.8zM123.1 377.6h0.8v0.8h-0.8zM124.7 377.6h0.8v0.8h-0.8zM44.7 378.4h1.6v0.8h-1.6zM48.7 378.4h3.2v0.8h-3.2zM52.7 378.4h1.6v0.8h-1.6zM55.9 378.4h35.2v0.8h-35.2zM92.7 378.4h0.8v0.8h-0.8zM94.3 378.4h4.8v0.8h-4.8zM99.9 378.4h4.0v0.8h-4.0zM104.7 378.4h1.6v0.8h-1.6zM107.1 378.4h0.8v0.8h-0.8zM108.7 378.4h2.4v0.8h-2.4zM111.9 378.4h2.4v0.8h-2.4zM115.1 378.4h0.8v0.8h-0.8zM116.7 378.4h0.8v0.8h-0.8zM122.3 378.4h0.8v0.8h-0.8zM51.1 379.2h4.0v0.8h-4.0zM55.9 379.2h33.6v0.8h-33.6zM90.3 379.2h4.0v0.8h-4.0zM95.1 379.2h1.6v0.8h-1.6zM97.5 379.2h3.2v0.8h-3.2zM101.5 379.2h1.6v0.8h-1.6zM103.9 379.2h1.6v0.8h-1.6zM107.9 379.2h2.4v0.8h-2.4zM111.1 379.2h0.8v0.8h-0.8zM113.5 379.2h0.8v0.8h-0.8zM115.1 379.2h0.8v0.8h-0.8zM125.5 379.2h0.8v0.8h-0.8zM47.9 380.0h0.8v0.8h-0.8zM49.5 380.0h0.8v0.8h-0.8zM51.1 380.0h0.8v0.8h-0.8zM54.3 380.0h35.2v0.8h-35.2zM91.1 380.0h2.4v0.8h-2.4zM94.3 380.0h0.8v0.8h-0.8zM95.9 380.0h2.4v0.8h-2.4zM99.9 380.0h1.6v0.8h-1.6zM103.1 380.0h8.0v0.8h-8.0zM113.5 380.0h0.8v0.8h-0.8zM120.7 380.0h0.8v0.8h-0.8zM123.1 380.0h0.8v0.8h-0.8zM49.5 380.8h0.8v0.8h-0.8zM52.7 380.8h0.8v0.8h-0.8zM54.3 380.8h36.0v0.8h-36.0zM91.9 380.8h4.0v0.8h-4.0zM96.7 380.8h12.0v0.8h-12.0zM109.5 380.8h3.2v0.8h-3.2zM113.5 380.8h0.8v0.8h-0.8zM116.7 380.8h0.8v0.8h-0.8zM122.3 380.8h0.8v0.8h-0.8zM125.5 380.8h0.8v0.8h-0.8zM43.9 381.6h0.8v0.8h-0.8zM52.7 381.6h0.8v0.8h-0.8zM54.3 381.6h0.8v0.8h-0.8zM55.9 381.6h36.0v0.8h-36.0zM92.7 381.6h7.2v0.8h-7.2zM100.7 381.6h1.6v0.8h-1.6zM103.1 381.6h9.6v0.8h-9.6zM114.3 381.6h0.8v0.8h-0.8zM116.7 381.6h1.6v0.8h-1.6zM120.7 381.6h0.8v0.8h-0.8zM122.3 381.6h0.8v0.8h-0.8zM127.1 381.6h1.6v0.8h-1.6zM43.9 382.4h0.8v0.8h-0.8zM49.5 382.4h0.8v0.8h-0.8zM54.3 382.4h0.8v0.8h-0.8zM56.7 382.4h31.2v0.8h-31.2zM88.7 382.4h1.6v0.8h-1.6zM91.1 382.4h3.2v0.8h-3.2zM95.1 382.4h4.8v0.8h-4.8zM100.7 382.4h8.0v0.8h-8.0zM110.3 382.4h4.8v0.8h-4.8zM116.7 382.4h0.8v0.8h-0.8zM118.3 382.4h1.6v0.8h-1.6zM125.5 382.4h0.8v0.8h-0.8zM47.1 383.2h1.6v0.8h-1.6zM55.9 383.2h32.8v0.8h-32.8zM89.5 383.2h0.8v0.8h-0.8zM91.9 383.2h6.4v0.8h-6.4zM99.1 383.2h1.6v0.8h-1.6zM101.5 383.2h4.0v0.8h-4.0zM107.1 383.2h2.4v0.8h-2.4zM110.3 383.2h1.6v0.8h-1.6zM112.7 383.2h0.8v0.8h-0.8zM116.7 383.2h0.8v0.8h-0.8zM119.1 383.2h0.8v0.8h-0.8zM121.5 383.2h0.8v0.8h-0.8zM48.7 384.0h0.8v0.8h-0.8zM51.9 384.0h0.8v0.8h-0.8zM54.3 384.0h1.6v0.8h-1.6zM56.7 384.0h30.4v0.8h-30.4zM87.9 384.0h4.8v0.8h-4.8zM93.5 384.0h0.8v0.8h-0.8zM95.1 384.0h10.4v0.8h-10.4zM106.3 384.0h0.8v0.8h-0.8zM107.9 384.0h3.2v0.8h-3.2zM112.7 384.0h0.8v0.8h-0.8zM117.5 384.0h0.8v0.8h-0.8zM120.7 384.0h0.8v0.8h-0.8zM51.9 384.8h2.4v0.8h-2.4zM55.1 384.8h0.8v0.8h-0.8zM57.5 384.8h0.8v0.8h-0.8zM59.1 384.8h30.4v0.8h-30.4zM91.1 384.8h2.4v0.8h-2.4zM94.3 384.8h0.8v0.8h-0.8zM95.9 384.8h4.0v0.8h-4.0zM100.7 384.8h8.8v0.8h-8.8zM110.3 384.8h0.8v0.8h-0.8zM112.7 384.8h2.4v0.8h-2.4zM116.7 384.8h1.6v0.8h-1.6zM119.9 384.8h1.6v0.8h-1.6zM123.1 384.8h0.8v0.8h-0.8zM47.9 385.6h0.8v0.8h-0.8zM50.3 385.6h0.8v0.8h-0.8zM51.9 385.6h0.8v0.8h-0.8zM55.1 385.6h0.8v0.8h-0.8zM56.7 385.6h2.4v0.8h-2.4zM59.9 385.6h28.8v0.8h-28.8zM90.3 385.6h3.2v0.8h-3.2zM94.3 385.6h3.2v0.8h-3.2zM98.3 385.6h8.0v0.8h-8.0zM107.1 385.6h3.2v0.8h-3.2zM111.9 385.6h0.8v0.8h-0.8zM115.1 385.6h0.8v0.8h-0.8zM126.3 385.6h1.6v0.8h-1.6zM44.7 386.4h0.8v0.8h-0.8zM54.3 386.4h1.6v0.8h-1.6zM56.7 386.4h32.0v0.8h-32.0zM89.5 386.4h0.8v0.8h-0.8zM91.9 386.4h0.8v0.8h-0.8zM93.5 386.4h9.6v0.8h-9.6zM103.9 386.4h1.6v0.8h-1.6zM106.3 386.4h0.8v0.8h-0.8zM107.9 386.4h2.4v0.8h-2.4zM111.1 386.4h3.2v0.8h-3.2zM115.9 386.4h0.8v0.8h-0.8zM117.5 386.4h1.6v0.8h-1.6zM119.9 386.4h0.8v0.8h-0.8zM128.7 386.4h0.8v0.8h-0.8zM48.7 387.2h0.8v0.8h-0.8zM50.3 387.2h0.8v0.8h-0.8zM52.7 387.2h0.8v0.8h-0.8zM54.3 387.2h3.2v0.8h-3.2zM59.1 387.2h27.2v0.8h-27.2zM89.5 387.2h0.8v0.8h-0.8zM91.9 387.2h3.2v0.8h-3.2zM95.9 387.2h0.8v0.8h-0.8zM97.5 387.2h2.4v0.8h-2.4zM101.5 387.2h1.6v0.8h-1.6zM103.9 387.2h10.4v0.8h-10.4zM115.9 387.2h0.8v0.8h-0.8zM117.5 387.2h0.8v0.8h-0.8zM119.1 387.2h0.8v0.8h-0.8zM123.1 387.2h0.8v0.8h-0.8zM50.3 388.0h4.0v0.8h-4.0zM55.9 388.0h1.6v0.8h-1.6zM58.3 388.0h1.6v0.8h-1.6zM60.7 388.0h26.4v0.8h-26.4zM87.9 388.0h1.6v0.8h-1.6zM91.1 388.0h0.8v0.8h-0.8zM92.7 388.0h3.2v0.8h-3.2zM96.7 388.0h2.4v0.8h-2.4zM99.9 388.0h0.8v0.8h-0.8zM102.3 388.0h1.6v0.8h-1.6zM104.7 388.0h1.6v0.8h-1.6zM107.1 388.0h4.0v0.8h-4.0zM111.9 388.0h3.2v0.8h-3.2zM123.9 388.0h0.8v0.8h-0.8zM48.7 388.8h0.8v0.8h-0.8zM51.1 388.8h0.8v0.8h-0.8zM55.1 388.8h0.8v0.8h-0.8zM58.3 388.8h2.4v0.8h-2.4zM61.5 388.8h26.4v0.8h-26.4zM88.7 388.8h0.8v0.8h-0.8zM90.3 388.8h1.6v0.8h-1.6zM92.7 388.8h8.8v0.8h-8.8zM102.3 388.8h6.4v0.8h-6.4zM109.5 388.8h0.8v0.8h-0.8zM111.1 388.8h0.8v0.8h-0.8zM112.7 388.8h1.6v0.8h-1.6zM119.9 388.8h0.8v0.8h-0.8zM121.5 388.8h0.8v0.8h-0.8zM44.7 389.6h1.6v0.8h-1.6zM53.5 389.6h0.8v0.8h-0.8zM55.1 389.6h0.8v0.8h-0.8zM58.3 389.6h1.6v0.8h-1.6zM62.3 389.6h26.4v0.8h-26.4zM89.5 389.6h0.8v0.8h-0.8zM91.1 389.6h2.4v0.8h-2.4zM94.3 389.6h4.8v0.8h-4.8zM99.9 389.6h0.8v0.8h-0.8zM101.5 389.6h6.4v0.8h-6.4zM110.3 389.6h1.6v0.8h-1.6zM112.7 389.6h0.8v0.8h-0.8zM119.1 389.6h1.6v0.8h-1.6zM121.5 389.6h0.8v0.8h-0.8zM49.5 390.4h0.8v0.8h-0.8zM54.3 390.4h1.6v0.8h-1.6zM58.3 390.4h0.8v0.8h-0.8zM60.7 390.4h22.4v0.8h-22.4zM83.9 390.4h2.4v0.8h-2.4zM87.1 390.4h0.8v0.8h-0.8zM88.7 390.4h0.8v0.8h-0.8zM90.3 390.4h1.6v0.8h-1.6zM92.7 390.4h4.0v0.8h-4.0zM97.5 390.4h1.6v0.8h-1.6zM99.9 390.4h6.4v0.8h-6.4zM107.1 390.4h0.8v0.8h-0.8zM109.5 390.4h2.4v0.8h-2.4zM112.7 390.4h0.8v0.8h-0.8zM50.3 391.2h0.8v0.8h-0.8zM53.5 391.2h0.8v0.8h-0.8zM55.1 391.2h0.8v0.8h-0.8zM59.1 391.2h2.4v0.8h-2.4zM62.3 391.2h21.6v0.8h-21.6zM84.7 391.2h2.4v0.8h-2.4zM88.7 391.2h0.8v0.8h-0.8zM90.3 391.2h2.4v0.8h-2.4zM93.5 391.2h0.8v0.8h-0.8zM95.1 391.2h4.0v0.8h-4.0zM99.9 391.2h8.8v0.8h-8.8zM110.3 391.2h1.6v0.8h-1.6zM116.7 391.2h1.6v0.8h-1.6zM121.5 391.2h0.8v0.8h-0.8zM47.1 392.0h0.8v0.8h-0.8zM51.1 392.0h0.8v0.8h-0.8zM55.9 392.0h0.8v0.8h-0.8zM59.9 392.0h1.6v0.8h-1.6zM62.3 392.0h0.8v0.8h-0.8zM63.9 392.0h17.6v0.8h-17.6zM83.1 392.0h1.6v0.8h-1.6zM87.9 392.0h2.4v0.8h-2.4zM91.1 392.0h1.6v0.8h-1.6zM93.5 392.0h0.8v0.8h-0.8zM95.9 392.0h0.8v0.8h-0.8zM97.5 392.0h1.6v0.8h-1.6zM99.9 392.0h1.6v0.8h-1.6zM103.9 392.0h0.8v0.8h-0.8zM105.5 392.0h2.4v0.8h-2.4zM109.5 392.0h4.0v0.8h-4.0zM115.9 392.0h0.8v0.8h-0.8zM117.5 392.0h0.8v0.8h-0.8zM119.9 392.0h1.6v0.8h-1.6zM52.7 392.8h0.8v0.8h-0.8zM55.1 392.8h0.8v0.8h-0.8zM59.9 392.8h0.8v0.8h-0.8zM61.5 392.8h20.8v0.8h-20.8zM83.1 392.8h4.0v0.8h-4.0zM87.9 392.8h3.2v0.8h-3.2zM94.3 392.8h1.6v0.8h-1.6zM96.7 392.8h0.8v0.8h-0.8zM98.3 392.8h3.2v0.8h-3.2zM102.3 392.8h2.4v0.8h-2.4zM105.5 392.8h0.8v0.8h-0.8zM107.9 392.8h2.4v0.8h-2.4zM111.9 392.8h0.8v0.8h-0.8zM115.1 392.8h1.6v0.8h-1.6zM119.9 392.8h0.8v0.8h-0.8zM121.5 392.8h0.8v0.8h-0.8zM45.5 393.6h3.2v0.8h-3.2zM51.9 393.6h0.8v0.8h-0.8zM55.9 393.6h1.6v0.8h-1.6zM59.1 393.6h1.6v0.8h-1.6zM61.5 393.6h2.4v0.8h-2.4zM64.7 393.6h0.8v0.8h-0.8zM66.3 393.6h3.2v0.8h-3.2zM70.3 393.6h6.4v0.8h-6.4zM77.5 393.6h2.4v0.8h-2.4zM80.7 393.6h1.6v0.8h-1.6zM83.1 393.6h1.6v0.8h-1.6zM85.5 393.6h1.6v0.8h-1.6zM88.7 393.6h1.6v0.8h-1.6zM91.1 393.6h1.6v0.8h-1.6zM94.3 393.6h0.8v0.8h-0.8zM95.9 393.6h3.2v0.8h-3.2zM102.3 393.6h1.6v0.8h-1.6zM105.5 393.6h0.8v0.8h-0.8zM107.1 393.6h1.6v0.8h-1.6zM109.5 393.6h0.8v0.8h-0.8zM113.5 393.6h0.8v0.8h-0.8zM115.1 393.6h0.8v0.8h-0.8zM116.7 393.6h0.8v0.8h-0.8zM118.3 393.6h0.8v0.8h-0.8zM120.7 393.6h0.8v0.8h-0.8zM127.1 393.6h0.8v0.8h-0.8zM47.1 394.4h0.8v0.8h-0.8zM51.9 394.4h2.4v0.8h-2.4zM57.5 394.4h0.8v0.8h-0.8zM61.5 394.4h0.8v0.8h-0.8zM64.7 394.4h2.4v0.8h-2.4zM68.7 394.4h12.8v0.8h-12.8zM83.9 394.4h4.0v0.8h-4.0zM89.5 394.4h3.2v0.8h-3.2zM95.1 394.4h0.8v0.8h-0.8zM97.5 394.4h1.6v0.8h-1.6zM99.9 394.4h0.8v0.8h-0.8zM101.5 394.4h0.8v0.8h-0.8zM103.1 394.4h2.4v0.8h-2.4zM107.1 394.4h0.8v0.8h-0.8zM108.7 394.4h2.4v0.8h-2.4zM112.7 394.4h1.6v0.8h-1.6zM119.1 394.4h0.8v0.8h-0.8zM46.3 395.2h0.8v0.8h-0.8zM50.3 395.2h0.8v0.8h-0.8zM53.5 395.2h0.8v0.8h-0.8zM56.7 395.2h1.6v0.8h-1.6zM63.1 395.2h0.8v0.8h-0.8zM64.7 395.2h0.8v0.8h-0.8zM66.3 395.2h0.8v0.8h-0.8zM67.9 395.2h0.8v0.8h-0.8zM69.5 395.2h4.0v0.8h-4.0zM74.3 395.2h2.4v0.8h-2.4zM78.3 395.2h3.2v0.8h-3.2zM82.3 395.2h1.6v0.8h-1.6zM84.7 395.2h0.8v0.8h-0.8zM87.1 395.2h1.6v0.8h-1.6zM89.5 395.2h0.8v0.8h-0.8zM91.1 395.2h0.8v0.8h-0.8zM92.7 395.2h0.8v0.8h-0.8zM95.1 395.2h0.8v0.8h-0.8zM96.7 395.2h1.6v0.8h-1.6zM99.1 395.2h1.6v0.8h-1.6zM102.3 395.2h1.6v0.8h-1.6zM104.7 395.2h0.8v0.8h-0.8zM107.9 395.2h0.8v0.8h-0.8zM114.3 395.2h0.8v0.8h-0.8zM47.9 396.0h0.8v0.8h-0.8zM51.1 396.0h0.8v0.8h-0.8zM55.9 396.0h0.8v0.8h-0.8zM59.9 396.0h1.6v0.8h-1.6zM63.1 396.0h1.6v0.8h-1.6zM65.5 396.0h0.8v0.8h-0.8zM68.7 396.0h0.8v0.8h-0.8zM72.7 396.0h1.6v0.8h-1.6zM75.1 396.0h3.2v0.8h-3.2zM79.1 396.0h1.6v0.8h-1.6zM81.5 396.0h1.6v0.8h-1.6zM87.1 396.0h0.8v0.8h-0.8zM88.7 396.0h0.8v0.8h-0.8zM90.3 396.0h0.8v0.8h-0.8zM93.5 396.0h1.6v0.8h-1.6zM95.9 396.0h0.8v0.8h-0.8zM97.5 396.0h1.6v0.8h-1.6zM100.7 396.0h0.8v0.8h-0.8zM103.1 396.0h0.8v0.8h-0.8zM105.5 396.0h0.8v0.8h-0.8zM108.7 396.0h1.6v0.8h-1.6zM116.7 396.0h0.8v0.8h-0.8zM118.3 396.0h0.8v0.8h-0.8zM126.3 396.0h0.8v0.8h-0.8zM128.7 396.0h0.8v0.8h-0.8zM51.9 396.8h0.8v0.8h-0.8zM54.3 396.8h1.6v0.8h-1.6zM56.7 396.8h1.6v0.8h-1.6zM60.7 396.8h1.6v0.8h-1.6zM66.3 396.8h0.8v0.8h-0.8zM67.9 396.8h0.8v0.8h-0.8zM70.3 396.8h1.6v0.8h-1.6zM72.7 396.8h0.8v0.8h-0.8zM74.3 396.8h2.4v0.8h-2.4zM83.1 396.8h0.8v0.8h-0.8zM87.1 396.8h1.6v0.8h-1.6zM91.1 396.8h2.4v0.8h-2.4zM96.7 396.8h1.6v0.8h-1.6zM99.9 396.8h1.6v0.8h-1.6zM104.7 396.8h0.8v0.8h-0.8zM106.3 396.8h3.2v0.8h-3.2zM110.3 396.8h0.8v0.8h-0.8zM111.9 396.8h0.8v0.8h-0.8zM114.3 396.8h0.8v0.8h-0.8zM118.3 396.8h0.8v0.8h-0.8zM123.9 396.8h0.8v0.8h-0.8zM128.7 396.8h0.8v0.8h-0.8zM47.9 397.6h0.8v0.8h-0.8zM52.7 397.6h0.8v0.8h-0.8zM57.5 397.6h0.8v0.8h-0.8zM59.9 397.6h1.6v0.8h-1.6zM63.1 397.6h0.8v0.8h-0.8zM64.7 397.6h1.6v0.8h-1.6zM67.9 397.6h2.4v0.8h-2.4zM71.9 397.6h0.8v0.8h-0.8zM73.5 397.6h3.2v0.8h-3.2zM77.5 397.6h0.8v0.8h-0.8zM79.1 397.6h0.8v0.8h-0.8zM81.5 397.6h0.8v0.8h-0.8zM83.9 397.6h1.6v0.8h-1.6zM91.1 397.6h0.8v0.8h-0.8zM92.7 397.6h0.8v0.8h-0.8zM95.1 397.6h1.6v0.8h-1.6zM99.1 397.6h0.8v0.8h-0.8zM103.9 397.6h0.8v0.8h-0.8zM106.3 397.6h0.8v0.8h-0.8zM109.5 397.6h0.8v0.8h-0.8zM114.3 397.6h0.8v0.8h-0.8zM58.3 398.4h0.8v0.8h-0.8zM63.9 398.4h0.8v0.8h-0.8zM65.5 398.4h1.6v0.8h-1.6zM75.1 398.4h1.6v0.8h-1.6zM78.3 398.4h0.8v0.8h-0.8zM83.1 398.4h2.4v0.8h-2.4zM87.1 398.4h0.8v0.8h-0.8zM88.7 398.4h0.8v0.8h-0.8zM90.3 398.4h0.8v0.8h-0.8zM91.9 398.4h2.4v0.8h-2.4zM95.1 398.4h1.6v0.8h-1.6zM99.1 398.4h0.8v0.8h-0.8zM101.5 398.4h0.8v0.8h-0.8zM103.1 398.4h0.8v0.8h-0.8zM104.7 398.4h0.8v0.8h-0.8zM107.9 398.4h0.8v0.8h-0.8zM109.5 398.4h0.8v0.8h-0.8zM111.9 398.4h0.8v0.8h-0.8zM115.9 398.4h1.6v0.8h-1.6zM119.1 398.4h0.8v0.8h-0.8zM120.7 398.4h0.8v0.8h-0.8zM44.7 399.2h0.8v0.8h-0.8zM56.7 399.2h1.6v0.8h-1.6zM70.3 399.2h0.8v0.8h-0.8zM71.9 399.2h0.8v0.8h-0.8zM75.1 399.2h0.8v0.8h-0.8zM77.5 399.2h2.4v0.8h-2.4zM82.3 399.2h1.6v0.8h-1.6zM85.5 399.2h3.2v0.8h-3.2zM91.9 399.2h0.8v0.8h-0.8zM94.3 399.2h0.8v0.8h-0.8zM98.3 399.2h0.8v0.8h-0.8zM99.9 399.2h0.8v0.8h-0.8zM101.5 399.2h1.6v0.8h-1.6zM105.5 399.2h0.8v0.8h-0.8zM110.3 399.2h0.8v0.8h-0.8zM113.5 399.2h0.8v0.8h-0.8zM117.5 399.2h0.8v0.8h-0.8zM44.7 400.0h0.8v0.8h-0.8zM59.1 400.0h0.8v0.8h-0.8zM63.1 400.0h0.8v0.8h-0.8zM64.7 400.0h0.8v0.8h-0.8zM67.1 400.0h1.6v0.8h-1.6zM70.3 400.0h0.8v0.8h-0.8zM73.5 400.0h1.6v0.8h-1.6zM76.7 400.0h0.8v0.8h-0.8zM79.1 400.0h0.8v0.8h-0.8zM81.5 400.0h0.8v0.8h-0.8zM84.7 400.0h0.8v0.8h-0.8zM86.3 400.0h0.8v0.8h-0.8zM87.9 400.0h0.8v0.8h-0.8zM93.5 400.0h0.8v0.8h-0.8zM100.7 400.0h0.8v0.8h-0.8zM102.3 400.0h0.8v0.8h-0.8zM107.1 400.0h2.4v0.8h-2.4zM111.1 400.0h0.8v0.8h-0.8zM115.9 400.0h0.8v0.8h-0.8zM120.7 400.0h0.8v0.8h-0.8zM49.5 400.8h0.8v0.8h-0.8zM51.9 400.8h0.8v0.8h-0.8zM58.3 400.8h0.8v0.8h-0.8zM61.5 400.8h0.8v0.8h-0.8zM64.7 400.8h0.8v0.8h-0.8zM67.9 400.8h0.8v0.8h-0.8zM71.9 400.8h0.8v0.8h-0.8zM73.5 400.8h2.4v0.8h-2.4zM80.7 400.8h0.8v0.8h-0.8zM84.7 400.8h3.2v0.8h-3.2zM88.7 400.8h0.8v0.8h-0.8zM91.9 400.8h0.8v0.8h-0.8zM95.1 400.8h1.6v0.8h-1.6zM100.7 400.8h0.8v0.8h-0.8zM107.9 400.8h0.8v0.8h-0.8zM109.5 400.8h0.8v0.8h-0.8zM112.7 400.8h0.8v0.8h-0.8zM114.3 400.8h0.8v0.8h-0.8z" fill="#8d8d8d"/>
<path d="M96.7 349.6h0.8v0.8h-0.8zM94.3 350.4h0.8v0.8h-0.8zM99.1 350.4h0.8v0.8h-0.8zM104.7 350.4h0.8v0.8h-0.8zM95.9 351.2h0.8v0.8h-0.8zM100.7 351.2h0.8v0.8h-0.8zM102.3 351.2h1.6v0.8h-1.6zM115.1 351.2h0.8v0.8h-0.8zM95.1 352.0h1.6v0.8h-1.6zM97.5 352.0h0.8v0.8h-0.8zM95.1 352.8h1.6v0.8h-1.6zM107.9 352.8h0.8v0.8h-0.8zM126.3 352.8h0.8v0.8h-0.8zM94.3 353.6h1.6v0.8h-1.6zM99.9 353.6h0.8v0.8h-0.8zM101.5 353.6h0.8v0.8h-0.8zM103.1 353.6h1.6v0.8h-1.6zM115.1 353.6h0.8v0.8h-0.8zM94.3 354.4h2.4v0.8h-2.4zM99.9 354.4h0.8v0.8h-0.8zM101.5 354.4h0.8v0.8h-0.8zM103.1 354.4h0.8v0.8h-0.8zM105.5 354.4h0.8v0.8h-0.8zM111.1 354.4h0.8v0.8h-0.8zM112.7 354.4h0.8v0.8h-0.8zM95.1 355.2h3.2v0.8h-3.2zM99.9 355.2h0.8v0.8h-0.8zM101.5 355.2h5.6v0.8h-5.6zM109.5 355.2h0.8v0.8h-0.8zM94.3 356.0h4.0v0.8h-4.0zM99.1 356.0h2.4v0.8h-2.4zM102.3 356.0h3.2v0.8h-3.2zM106.3 356.0h1.6v0.8h-1.6zM109.5 356.0h2.4v0.8h-2.4zM113.5 356.0h0.8v0.8h-0.8zM119.9 356.0h0.8v0.8h-0.8zM94.3 356.8h10.4v0.8h-10.4zM105.5 356.8h1.6v0.8h-1.6zM107.9 356.8h3.2v0.8h-3.2zM111.9 356.8h0.8v0.8h-0.8zM113.5 356.8h0.8v0.8h-0.8zM94.3 357.6h14.4v0.8h-14.4zM109.5 357.6h1.6v0.8h-1.6zM111.9 357.6h0.8v0.8h-0.8zM115.1 357.6h2.4v0.8h-2.4zM119.9 357.6h1.6v0.8h-1.6zM94.3 358.4h16.0v0.8h-16.0zM111.1 358.4h0.8v0.8h-0.8zM114.3 358.4h1.6v0.8h-1.6zM94.3 359.2h14.4v0.8h-14.4zM110.3 359.2h1.6v0.8h-1.6zM112.7 359.2h0.8v0.8h-0.8zM116.7 359.2h0.8v0.8h-0.8zM94.3 360.0h18.4v0.8h-18.4zM113.5 360.0h1.6v0.8h-1.6zM115.9 360.0h0.8v0.8h-0.8zM94.3 360.8h18.4v0.8h-18.4zM114.3 360.8h0.8v0.8h-0.8zM115.9 360.8h0.8v0.8h-0.8zM94.3 361.6h21.6v0.8h-21.6zM116.7 361.6h1.6v0.8h-1.6zM94.3 362.4h17.6v0.8h-17.6zM116.7 362.4h0.8v0.8h-0.8zM94.3 363.2h16.8v0.8h-16.8zM111.9 363.2h1.6v0.8h-1.6zM114.3 363.2h0.8v0.8h-0.8zM116.7 363.2h1.6v0.8h-1.6zM122.3 363.2h1.6v0.8h-1.6zM94.3 364.0h17.6v0.8h-17.6zM115.1 364.0h0.8v0.8h-0.8zM118.3 364.0h0.8v0.8h-0.8zM94.3 364.8h19.2v0.8h-19.2zM115.1 364.8h0.8v0.8h-0.8zM116.7 364.8h0.8v0.8h-0.8zM120.7 364.8h0.8v0.8h-0.8zM123.9 364.8h0.8v0.8h-0.8zM94.3 365.6h17.6v0.8h-17.6zM115.9 365.6h1.6v0.8h-1.6zM119.1 365.6h0.8v0.8h-0.8zM124.7 365.6h0.8v0.8h-0.8zM126.3 365.6h0.8v0.8h-0.8zM94.3 366.4h11.2v0.8h-11.2zM106.3 366.4h4.0v0.8h-4.0zM111.1 366.4h3.2v0.8h-3.2zM94.3 367.2h11.2v0.8h-11.2zM106.3 367.2h1.6v0.8h-1.6zM110.3 367.2h3.2v0.8h-3.2zM119.9 367.2h0.8v0.8h-0.8zM123.9 367.2h0.8v0.8h-0.8zM94.3 368.0h2.4v0.8h-2.4zM97.5 368.0h4.0v0.8h-4.0zM102.3 368.0h4.8v0.8h-4.8zM109.5 368.0h4.0v0.8h-4.0zM114.3 368.0h1.6v0.8h-1.6zM116.7 368.0h0.8v0.8h-0.8zM119.9 368.0h0.8v0.8h-0.8zM122.3 368.0h2.4v0.8h-2.4zM127.1 368.0h1.6v0.8h-1.6zM94.3 368.8h3.2v0.8h-3.2zM101.5 368.8h3.2v0.8h-3.2zM106.3 368.8h1.6v0.8h-1.6zM113.5 368.8h0.8v0.8h-0.8zM117.5 368.8h0.8v0.8h-0.8zM119.1 368.8h1.6v0.8h-1.6zM123.1 368.8h1.6v0.8h-1.6z" fill="#b6b6b6"/>
<path d="M94.5 369.8 V346.5 H130" fill="none" stroke="#444" stroke-width="0.9"/>
<line x1="94.5" y1="369.8" x2="130" y2="369.8" stroke="#555" stroke-width="1"/>
<line x1="43.1" y1="323.2" x2="130.0" y2="323.2" stroke="#aaa" stroke-width="1.0"/>
<line x1="43.1" y1="323.2" x2="43.1" y2="401.5" stroke="#999" stroke-width="1.0"/>
<line x1="130.0" y1="323.2" x2="130.0" y2="401.5" stroke="#666" stroke-width="1.3"/>
<line x1="42.6" y1="401.5" x2="130.5" y2="401.5" stroke="#444" stroke-width="1.2"/>
<line x1="38.6" y1="389.7" x2="43.1" y2="389.7" stroke="#333" stroke-width="0.9"/>
<line x1="40.300000000000004" y1="383.72957175266436" x2="43.1" y2="383.72957175266436" stroke="#333" stroke-width="0.9"/>
<line x1="40.300000000000004" y1="380.2370951147267" x2="43.1" y2="380.2370951147267" stroke="#333" stroke-width="0.9"/>
<line x1="40.300000000000004" y1="377.7591435053287" x2="43.1" y2="377.7591435053287" stroke="#333" stroke-width="0.9"/>
<line x1="40.300000000000004" y1="375.8370949140023" x2="43.1" y2="375.8370949140023" stroke="#333" stroke-width="0.9"/>
<line x1="40.300000000000004" y1="374.26666686739105" x2="43.1" y2="374.26666686739105" stroke="#333" stroke-width="0.9"/>
<line x1="40.300000000000004" y1="372.9388888730506" x2="43.1" y2="372.9388888730506" stroke="#333" stroke-width="0.9"/>
<line x1="40.300000000000004" y1="371.7887152579931" x2="43.1" y2="371.7887152579931" stroke="#333" stroke-width="0.9"/>
<line x1="40.300000000000004" y1="370.7741902294534" x2="43.1" y2="370.7741902294534" stroke="#333" stroke-width="0.9"/>
<line x1="38.6" y1="369.8666666666667" x2="43.1" y2="369.8666666666667" stroke="#333" stroke-width="0.9"/>
<line x1="40.300000000000004" y1="363.89623841933104" x2="43.1" y2="363.89623841933104" stroke="#333" stroke-width="0.9"/>
<line x1="40.300000000000004" y1="360.40376178139337" x2="43.1" y2="360.40376178139337" stroke="#333" stroke-width="0.9"/>
<line x1="40.300000000000004" y1="357.9258101719954" x2="43.1" y2="357.9258101719954" stroke="#333" stroke-width="0.9"/>
<line x1="40.300000000000004" y1="356.00376158066894" x2="43.1" y2="356.00376158066894" stroke="#333" stroke-width="0.9"/>
<line x1="40.300000000000004" y1="354.43333353405774" x2="43.1" y2="354.43333353405774" stroke="#333" stroke-width="0.9"/>
<line x1="40.300000000000004" y1="353.1055555397172" x2="43.1" y2="353.1055555397172" stroke="#333" stroke-width="0.9"/>
<line x1="40.300000000000004" y1="351.9553819246598" x2="43.1" y2="351.9553819246598" stroke="#333" stroke-width="0.9"/>
<line x1="40.300000000000004" y1="350.94085689612007" x2="43.1" y2="350.94085689612007" stroke="#333" stroke-width="0.9"/>
<line x1="38.6" y1="350.0333333333333" x2="43.1" y2="350.0333333333333" stroke="#333" stroke-width="0.9"/>
<line x1="40.300000000000004" y1="344.06290508599767" x2="43.1" y2="344.06290508599767" stroke="#333" stroke-width="0.9"/>
<line x1="40.300000000000004" y1="340.57042844806" x2="43.1" y2="340.57042844806" stroke="#333" stroke-width="0.9"/>
<line x1="40.300000000000004" y1="338.09247683866204" x2="43.1" y2="338.09247683866204" stroke="#333" stroke-width="0.9"/>
<line x1="40.300000000000004" y1="336.1704282473356" x2="43.1" y2="336.1704282473356" stroke="#333" stroke-width="0.9"/>
<line x1="40.300000000000004" y1="334.60000020072437" x2="43.1" y2="334.60000020072437" stroke="#333" stroke-width="0.9"/>
<line x1="40.300000000000004" y1="333.2722222063839" x2="43.1" y2="333.2722222063839" stroke="#333" stroke-width="0.9"/>
<line x1="40.300000000000004" y1="332.12204859132646" x2="43.1" y2="332.12204859132646" stroke="#333" stroke-width="0.9"/>
<line x1="40.300000000000004" y1="331.1075235627867" x2="43.1" y2="331.1075235627867" stroke="#333" stroke-width="0.9"/>
<line x1="38.6" y1="330.2" x2="43.1" y2="330.2" stroke="#333" stroke-width="0.9"/>
<line x1="40.7" y1="401.2" x2="43.1" y2="401.2" stroke="#444" stroke-width="0.8"/>
<line x1="40.7" y1="397.7381550498642" x2="43.1" y2="397.7381550498642" stroke="#444" stroke-width="0.8"/>
<line x1="40.7" y1="395.7131055707239" x2="43.1" y2="395.7131055707239" stroke="#444" stroke-width="0.8"/>
<line x1="40.7" y1="394.27631009972845" x2="43.1" y2="394.27631009972845" stroke="#444" stroke-width="0.8"/>
<line x1="40.7" y1="393.1618449501358" x2="43.1" y2="393.1618449501358" stroke="#444" stroke-width="0.8"/>
<line x1="40.7" y1="392.2512606205881" x2="43.1" y2="392.2512606205881" stroke="#444" stroke-width="0.8"/>
<line x1="40.7" y1="391.48137253983606" x2="43.1" y2="391.48137253983606" stroke="#444" stroke-width="0.8"/>
<line x1="40.7" y1="390.81446514959265" x2="43.1" y2="390.81446514959265" stroke="#444" stroke-width="0.8"/>
<line x1="40.7" y1="390.2262111414478" x2="43.1" y2="390.2262111414478" stroke="#444" stroke-width="0.8"/>
<line x1="40.7" y1="389.7" x2="43.1" y2="389.7" stroke="#444" stroke-width="0.8"/>
<line x1="54.0" y1="401.5" x2="54.0" y2="406.5" stroke="#333" stroke-width="0.9"/>
<line x1="60.62265990460759" y1="401.5" x2="60.62265990460759" y2="404.3" stroke="#333" stroke-width="0.9"/>
<line x1="64.49666760383258" y1="401.5" x2="64.49666760383258" y2="404.3" stroke="#333" stroke-width="0.9"/>
<line x1="67.24531980921518" y1="401.5" x2="67.24531980921518" y2="404.3" stroke="#333" stroke-width="0.9"/>
<line x1="69.37734009539241" y1="401.5" x2="69.37734009539241" y2="404.3" stroke="#333" stroke-width="0.9"/>
<line x1="71.11932750844016" y1="401.5" x2="71.11932750844016" y2="404.3" stroke="#333" stroke-width="0.9"/>
<line x1="72.59215688031365" y1="401.5" x2="72.59215688031365" y2="404.3" stroke="#333" stroke-width="0.9"/>
<line x1="73.86797971382276" y1="401.5" x2="73.86797971382276" y2="404.3" stroke="#333" stroke-width="0.9"/>
<line x1="74.99333520766515" y1="401.5" x2="74.99333520766515" y2="404.3" stroke="#333" stroke-width="0.9"/>
<line x1="76.0" y1="401.5" x2="76.0" y2="406.5" stroke="#333" stroke-width="0.9"/>
<line x1="82.62265990460759" y1="401.5" x2="82.62265990460759" y2="404.3" stroke="#333" stroke-width="0.9"/>
<line x1="86.49666760383258" y1="401.5" x2="86.49666760383258" y2="404.3" stroke="#333" stroke-width="0.9"/>
<line x1="89.24531980921518" y1="401.5" x2="89.24531980921518" y2="404.3" stroke="#333" stroke-width="0.9"/>
<line x1="91.37734009539241" y1="401.5" x2="91.37734009539241" y2="404.3" stroke="#333" stroke-width="0.9"/>
<line x1="93.11932750844016" y1="401.5" x2="93.11932750844016" y2="404.3" stroke="#333" stroke-width="0.9"/>
<line x1="94.59215688031365" y1="401.5" x2="94.59215688031365" y2="404.3" stroke="#333" stroke-width="0.9"/>
<line x1="95.86797971382276" y1="401.5" x2="95.86797971382276" y2="404.3" stroke="#333" stroke-width="0.9"/>
<line x1="96.99333520766515" y1="401.5" x2="96.99333520766515" y2="404.3" stroke="#333" stroke-width="0.9"/>
<line x1="98.0" y1="401.5" x2="98.0" y2="406.5" stroke="#333" stroke-width="0.9"/>
<line x1="104.62265990460759" y1="401.5" x2="104.62265990460759" y2="404.3" stroke="#333" stroke-width="0.9"/>
<line x1="108.49666760383258" y1="401.5" x2="108.49666760383258" y2="404.3" stroke="#333" stroke-width="0.9"/>
<line x1="111.24531980921518" y1="401.5" x2="111.24531980921518" y2="404.3" stroke="#333" stroke-width="0.9"/>
<line x1="113.37734009539241" y1="401.5" x2="113.37734009539241" y2="404.3" stroke="#333" stroke-width="0.9"/>
<line x1="115.11932750844016" y1="401.5" x2="115.11932750844016" y2="404.3" stroke="#333" stroke-width="0.9"/>
<line x1="116.59215688031365" y1="401.5" x2="116.59215688031365" y2="404.3" stroke="#333" stroke-width="0.9"/>
<line x1="117.86797971382276" y1="401.5" x2="117.86797971382276" y2="404.3" stroke="#333" stroke-width="0.9"/>
<line x1="118.99333520766514" y1="401.5" x2="118.99333520766514" y2="404.3" stroke="#333" stroke-width="0.9"/>
<line x1="120" y1="401.5" x2="120" y2="406.5" stroke="#333" stroke-width="0.9"/>
<line x1="45.0" y1="401.5" x2="45.0" y2="403.9" stroke="#444" stroke-width="0.8"/>
<line x1="47.70926996097583" y1="401.5" x2="47.70926996097583" y2="403.9" stroke="#444" stroke-width="0.8"/>
<line x1="49.29409129247696" y1="401.5" x2="49.29409129247696" y2="403.9" stroke="#444" stroke-width="0.8"/>
<line x1="50.41853992195166" y1="401.5" x2="50.41853992195166" y2="403.9" stroke="#444" stroke-width="0.8"/>
<line x1="51.29073003902417" y1="401.5" x2="51.29073003902417" y2="403.9" stroke="#444" stroke-width="0.8"/>
<line x1="52.003361253452795" y1="401.5" x2="52.003361253452795" y2="403.9" stroke="#444" stroke-width="0.8"/>
<line x1="52.60588236012831" y1="401.5" x2="52.60588236012831" y2="403.9" stroke="#444" stroke-width="0.8"/>
<line x1="53.127809882927494" y1="401.5" x2="53.127809882927494" y2="403.9" stroke="#444" stroke-width="0.8"/>
<line x1="53.58818258495393" y1="401.5" x2="53.58818258495393" y2="403.9" stroke="#444" stroke-width="0.8"/>
<line x1="54" y1="401.5" x2="54" y2="403.9" stroke="#444" stroke-width="0.8"/>
<text x="37.2" y="330.2" font-size="5.8" fill="#333" text-anchor="middle" transform="rotate(-90 37.2 330.2)">10<tspan dy="-3" font-size="4.8">5</tspan></text>
<text x="37.2" y="350.7" font-size="5.8" fill="#333" text-anchor="middle" transform="rotate(-90 37.2 350.7)">10<tspan dy="-3" font-size="4.8">4</tspan></text>
<text x="37.2" y="369.9" font-size="5.8" fill="#333" text-anchor="middle" transform="rotate(-90 37.2 369.9)">10<tspan dy="-3" font-size="4.8">3</tspan></text>
<text x="37.2" y="389.7" font-size="5.8" fill="#333" text-anchor="middle" transform="rotate(-90 37.2 389.7)">10<tspan dy="-3" font-size="4.8">2</tspan></text>
<text x="54.2" y="414.2" font-size="5.8" fill="#333" text-anchor="middle">10<tspan dy="-3" font-size="4.8">2</tspan></text>
<text x="77" y="414.2" font-size="5.8" fill="#333" text-anchor="middle">10<tspan dy="-3" font-size="4.8">3</tspan></text>
<text x="98.8" y="414.2" font-size="5.8" fill="#333" text-anchor="middle">10<tspan dy="-3" font-size="4.8">4</tspan></text>
<text x="120.2" y="414.2" font-size="5.8" fill="#333" text-anchor="middle">10<tspan dy="-3" font-size="4.8">5</tspan></text>
<text x="80.7" y="430.2" font-size="9" font-weight="bold" text-anchor="middle" fill="#000" textLength="18.6" lengthAdjust="spacingAndGlyphs">Sca1</text>
<text x="25.6" y="360.4" font-size="7" font-weight="bold" text-anchor="middle" fill="#000" transform="rotate(-90 25.6 360.4)" textLength="17" lengthAdjust="spacingAndGlyphs">c-kit</text>
<path d="M199.6 342.6h0.8v0.8h-0.8zM206.0 347.4h0.8v0.8h-0.8zM206.8 349.8h0.8v0.8h-0.8zM214.0 349.8h0.8v0.8h-0.8zM212.4 350.6h1.6v0.8h-1.6zM206.0 352.2h0.8v0.8h-0.8zM210.0 352.2h0.8v0.8h-0.8zM214.8 353.0h0.8v0.8h-0.8zM196.4 353.8h0.8v0.8h-0.8zM194.8 355.4h0.8v0.8h-0.8zM205.2 355.4h0.8v0.8h-0.8zM210.0 355.4h0.8v0.8h-0.8zM211.6 355.4h0.8v0.8h-0.8zM213.2 355.4h0.8v0.8h-0.8zM211.6 356.2h0.8v0.8h-0.8zM198.8 357.0h0.8v0.8h-0.8zM212.4 357.0h0.8v0.8h-0.8zM206.0 357.8h0.8v0.8h-0.8zM208.4 357.8h0.8v0.8h-0.8zM210.0 357.8h0.8v0.8h-0.8zM218.8 357.8h0.8v0.8h-0.8zM200.4 358.6h0.8v0.8h-0.8zM206.8 358.6h0.8v0.8h-0.8zM210.0 358.6h0.8v0.8h-0.8zM211.6 358.6h0.8v0.8h-0.8zM197.2 359.4h0.8v0.8h-0.8zM210.8 359.4h0.8v0.8h-0.8zM223.6 359.4h0.8v0.8h-0.8zM180.4 360.2h0.8v0.8h-0.8zM201.2 360.2h0.8v0.8h-0.8zM203.6 360.2h0.8v0.8h-0.8zM211.6 360.2h0.8v0.8h-0.8zM200.4 361.0h0.8v0.8h-0.8zM206.8 361.0h0.8v0.8h-0.8zM182.8 361.8h0.8v0.8h-0.8zM211.6 361.8h0.8v0.8h-0.8zM213.2 361.8h0.8v0.8h-0.8zM191.6 362.6h1.6v0.8h-1.6zM199.6 362.6h2.4v0.8h-2.4zM209.2 362.6h1.6v0.8h-1.6zM212.4 362.6h0.8v0.8h-0.8zM207.6 363.4h1.6v0.8h-1.6zM210.8 363.4h0.8v0.8h-0.8zM214.0 363.4h0.8v0.8h-0.8zM202.8 364.2h0.8v0.8h-0.8zM206.0 364.2h0.8v0.8h-0.8zM207.6 364.2h0.8v0.8h-0.8zM218.8 364.2h0.8v0.8h-0.8zM192.4 365.0h0.8v0.8h-0.8zM198.0 365.0h0.8v0.8h-0.8zM199.6 365.0h3.2v0.8h-3.2zM220.4 365.0h0.8v0.8h-0.8zM199.6 365.8h0.8v0.8h-0.8zM202.0 365.8h0.8v0.8h-0.8zM204.4 365.8h0.8v0.8h-0.8zM209.2 365.8h1.6v0.8h-1.6zM190.8 366.6h0.8v0.8h-0.8zM192.4 366.6h0.8v0.8h-0.8zM194.8 366.6h0.8v0.8h-0.8zM196.4 366.6h0.8v0.8h-0.8zM199.6 366.6h0.8v0.8h-0.8zM210.0 366.6h0.8v0.8h-0.8zM195.6 367.4h0.8v0.8h-0.8zM197.2 367.4h0.8v0.8h-0.8zM199.6 367.4h1.6v0.8h-1.6zM202.8 367.4h0.8v0.8h-0.8zM207.6 367.4h0.8v0.8h-0.8zM212.4 367.4h1.6v0.8h-1.6zM188.4 368.2h0.8v0.8h-0.8zM194.0 368.2h0.8v0.8h-0.8zM197.2 368.2h0.8v0.8h-0.8zM202.0 368.2h0.8v0.8h-0.8zM209.2 368.2h0.8v0.8h-0.8zM214.8 368.2h0.8v0.8h-0.8zM216.4 368.2h0.8v0.8h-0.8zM220.4 368.2h1.6v0.8h-1.6zM182.8 369.0h0.8v0.8h-0.8zM186.0 369.0h0.8v0.8h-0.8zM188.4 369.0h0.8v0.8h-0.8zM190.0 369.0h0.8v0.8h-0.8zM193.2 369.0h0.8v0.8h-0.8zM196.4 369.0h0.8v0.8h-0.8zM198.0 369.0h0.8v0.8h-0.8zM199.6 369.0h2.4v0.8h-2.4zM208.4 369.0h0.8v0.8h-0.8zM210.8 369.0h0.8v0.8h-0.8zM218.0 369.0h0.8v0.8h-0.8zM183.6 369.8h0.8v0.8h-0.8zM194.0 369.8h0.8v0.8h-0.8zM195.6 369.8h1.6v0.8h-1.6zM198.0 369.8h0.8v0.8h-0.8zM200.4 369.8h0.8v0.8h-0.8zM203.6 369.8h0.8v0.8h-0.8zM206.8 369.8h0.8v0.8h-0.8zM191.6 370.6h0.8v0.8h-0.8zM194.8 370.6h0.8v0.8h-0.8zM197.2 370.6h1.6v0.8h-1.6zM206.0 370.6h2.4v0.8h-2.4zM209.2 370.6h1.6v0.8h-1.6zM190.0 371.4h1.6v0.8h-1.6zM192.4 371.4h2.4v0.8h-2.4zM196.4 371.4h1.6v0.8h-1.6zM199.6 371.4h0.8v0.8h-0.8zM202.0 371.4h0.8v0.8h-0.8zM203.6 371.4h1.6v0.8h-1.6zM212.4 371.4h0.8v0.8h-0.8zM187.6 372.2h0.8v0.8h-0.8zM193.2 372.2h4.0v0.8h-4.0zM198.0 372.2h0.8v0.8h-0.8zM200.4 372.2h0.8v0.8h-0.8zM205.2 372.2h0.8v0.8h-0.8zM208.4 372.2h0.8v0.8h-0.8zM215.6 372.2h0.8v0.8h-0.8zM189.2 373.0h0.8v0.8h-0.8zM190.8 373.0h0.8v0.8h-0.8zM193.2 373.0h0.8v0.8h-0.8zM194.8 373.0h0.8v0.8h-0.8zM196.4 373.0h2.4v0.8h-2.4zM199.6 373.0h0.8v0.8h-0.8zM201.2 373.0h0.8v0.8h-0.8zM202.8 373.0h2.4v0.8h-2.4zM206.0 373.0h0.8v0.8h-0.8zM189.2 373.8h0.8v0.8h-0.8zM190.8 373.8h8.0v0.8h-8.0zM199.6 373.8h2.4v0.8h-2.4zM203.6 373.8h0.8v0.8h-0.8zM205.2 373.8h0.8v0.8h-0.8zM210.0 373.8h0.8v0.8h-0.8zM186.0 374.6h0.8v0.8h-0.8zM190.0 374.6h1.6v0.8h-1.6zM192.4 374.6h2.4v0.8h-2.4zM195.6 374.6h3.2v0.8h-3.2zM200.4 374.6h0.8v0.8h-0.8zM202.0 374.6h1.6v0.8h-1.6zM204.4 374.6h0.8v0.8h-0.8zM206.0 374.6h1.6v0.8h-1.6zM214.8 374.6h0.8v0.8h-0.8zM190.8 375.4h9.6v0.8h-9.6zM206.0 375.4h0.8v0.8h-0.8zM207.6 375.4h0.8v0.8h-0.8zM189.2 376.2h2.4v0.8h-2.4zM192.4 376.2h6.4v0.8h-6.4zM203.6 376.2h1.6v0.8h-1.6zM182.8 377.0h0.8v0.8h-0.8zM184.4 377.0h0.8v0.8h-0.8zM189.2 377.0h5.6v0.8h-5.6zM195.6 377.0h4.8v0.8h-4.8zM203.6 377.0h0.8v0.8h-0.8zM206.0 377.0h1.6v0.8h-1.6zM185.2 377.8h1.6v0.8h-1.6zM188.4 377.8h7.2v0.8h-7.2zM196.4 377.8h4.8v0.8h-4.8zM210.0 377.8h0.8v0.8h-0.8zM213.2 377.8h0.8v0.8h-0.8zM188.4 378.6h8.8v0.8h-8.8zM198.0 378.6h0.8v0.8h-0.8zM199.6 378.6h0.8v0.8h-0.8zM202.8 378.6h0.8v0.8h-0.8zM184.4 379.4h1.6v0.8h-1.6zM189.2 379.4h2.4v0.8h-2.4zM192.4 379.4h5.6v0.8h-5.6zM198.8 379.4h3.2v0.8h-3.2zM203.6 379.4h0.8v0.8h-0.8zM207.6 379.4h0.8v0.8h-0.8zM164.4 380.2h0.8v0.8h-0.8zM186.8 380.2h1.6v0.8h-1.6zM189.2 380.2h4.0v0.8h-4.0zM194.0 380.2h1.6v0.8h-1.6zM196.4 380.2h4.0v0.8h-4.0zM202.8 380.2h2.4v0.8h-2.4zM207.6 380.2h0.8v0.8h-0.8zM209.2 380.2h0.8v0.8h-0.8zM181.2 381.0h0.8v0.8h-0.8zM185.2 381.0h0.8v0.8h-0.8zM186.8 381.0h0.8v0.8h-0.8zM189.2 381.0h4.8v0.8h-4.8zM194.8 381.0h7.2v0.8h-7.2zM203.6 381.0h0.8v0.8h-0.8zM189.2 381.8h0.8v0.8h-0.8zM190.8 381.8h11.2v0.8h-11.2zM203.6 381.8h1.6v0.8h-1.6zM206.8 381.8h0.8v0.8h-0.8zM209.2 381.8h0.8v0.8h-0.8zM182.0 382.6h1.6v0.8h-1.6zM187.6 382.6h4.0v0.8h-4.0zM192.4 382.6h4.0v0.8h-4.0zM197.2 382.6h3.2v0.8h-3.2zM201.2 382.6h0.8v0.8h-0.8zM207.6 382.6h0.8v0.8h-0.8zM182.8 383.4h0.8v0.8h-0.8zM185.2 383.4h0.8v0.8h-0.8zM186.8 383.4h0.8v0.8h-0.8zM190.0 383.4h12.0v0.8h-12.0zM181.2 384.2h0.8v0.8h-0.8zM186.0 384.2h0.8v0.8h-0.8zM190.8 384.2h8.0v0.8h-8.0zM199.6 384.2h1.6v0.8h-1.6zM207.6 384.2h0.8v0.8h-0.8zM187.6 385.0h0.8v0.8h-0.8zM190.0 385.0h2.4v0.8h-2.4zM193.2 385.0h2.4v0.8h-2.4zM196.4 385.0h0.8v0.8h-0.8zM198.0 385.0h1.6v0.8h-1.6zM200.4 385.0h1.6v0.8h-1.6zM188.4 385.8h2.4v0.8h-2.4zM192.4 385.8h1.6v0.8h-1.6zM194.8 385.8h0.8v0.8h-0.8zM196.4 385.8h3.2v0.8h-3.2zM183.6 386.6h0.8v0.8h-0.8zM186.0 386.6h0.8v0.8h-0.8zM187.6 386.6h0.8v0.8h-0.8zM189.2 386.6h9.6v0.8h-9.6zM199.6 386.6h0.8v0.8h-0.8zM176.4 387.4h0.8v0.8h-0.8zM186.0 387.4h0.8v0.8h-0.8zM188.4 387.4h6.4v0.8h-6.4zM196.4 387.4h4.0v0.8h-4.0zM180.4 388.2h0.8v0.8h-0.8zM183.6 388.2h3.2v0.8h-3.2zM190.0 388.2h9.6v0.8h-9.6zM200.4 388.2h0.8v0.8h-0.8zM182.0 389.0h1.6v0.8h-1.6zM185.2 389.0h0.8v0.8h-0.8zM186.8 389.0h2.4v0.8h-2.4zM190.0 389.0h0.8v0.8h-0.8zM191.6 389.0h0.8v0.8h-0.8zM194.8 389.0h2.4v0.8h-2.4zM198.8 389.0h1.6v0.8h-1.6zM182.8 389.8h0.8v0.8h-0.8zM185.2 389.8h0.8v0.8h-0.8zM187.6 389.8h0.8v0.8h-0.8zM190.8 389.8h3.2v0.8h-3.2zM194.8 389.8h3.2v0.8h-3.2zM210.0 389.8h0.8v0.8h-0.8zM217.2 389.8h0.8v0.8h-0.8zM185.2 390.6h2.4v0.8h-2.4zM189.2 390.6h2.4v0.8h-2.4zM192.4 390.6h1.6v0.8h-1.6zM194.8 390.6h1.6v0.8h-1.6zM197.2 390.6h1.6v0.8h-1.6zM179.6 391.4h0.8v0.8h-0.8zM183.6 391.4h0.8v0.8h-0.8zM185.2 391.4h0.8v0.8h-0.8zM188.4 391.4h3.2v0.8h-3.2zM192.4 391.4h0.8v0.8h-0.8zM196.4 391.4h0.8v0.8h-0.8zM198.8 391.4h0.8v0.8h-0.8zM201.2 391.4h0.8v0.8h-0.8zM203.6 391.4h0.8v0.8h-0.8zM187.6 392.2h2.4v0.8h-2.4zM190.8 392.2h1.6v0.8h-1.6zM193.2 392.2h0.8v0.8h-0.8zM194.8 392.2h1.6v0.8h-1.6zM197.2 392.2h0.8v0.8h-0.8zM199.6 392.2h0.8v0.8h-0.8zM212.4 392.2h0.8v0.8h-0.8zM178.0 393.0h0.8v0.8h-0.8zM185.2 393.0h0.8v0.8h-0.8zM186.8 393.0h0.8v0.8h-0.8zM194.8 393.0h0.8v0.8h-0.8zM197.2 393.0h0.8v0.8h-0.8zM212.4 393.0h0.8v0.8h-0.8zM186.0 393.8h0.8v0.8h-0.8zM189.2 393.8h0.8v0.8h-0.8zM195.6 393.8h0.8v0.8h-0.8zM178.8 394.6h0.8v0.8h-0.8zM180.4 394.6h0.8v0.8h-0.8zM183.6 394.6h0.8v0.8h-0.8zM188.4 394.6h1.6v0.8h-1.6zM195.6 394.6h0.8v0.8h-0.8zM212.4 394.6h0.8v0.8h-0.8zM179.6 395.4h0.8v0.8h-0.8zM181.2 395.4h0.8v0.8h-0.8zM183.6 395.4h0.8v0.8h-0.8zM188.4 395.4h0.8v0.8h-0.8zM194.0 395.4h0.8v0.8h-0.8zM174.8 396.2h0.8v0.8h-0.8zM200.4 396.2h0.8v0.8h-0.8zM185.2 397.0h0.8v0.8h-0.8zM182.8 397.8h0.8v0.8h-0.8zM202.8 398.6h0.8v0.8h-0.8zM186.0 399.4h0.8v0.8h-0.8z" fill="#a8a8a8"/>
<line x1="162.8" y1="322.6" x2="251.0" y2="322.6" stroke="#888" stroke-width="1.0"/>
<line x1="162.8" y1="322.6" x2="162.8" y2="401.5" stroke="#888" stroke-width="1.0"/>
<line x1="251.0" y1="322.6" x2="251.0" y2="401.5" stroke="#666" stroke-width="1.5"/>
<line x1="162.3" y1="401.5" x2="252.0" y2="401.5" stroke="#333" stroke-width="1.3"/>
<line x1="191.0" y1="322.6" x2="191.0" y2="401.5" stroke="#555" stroke-width="0.8"/>
<line x1="162.8" y1="379.8" x2="251.0" y2="379.8" stroke="#555" stroke-width="0.9"/>
<line x1="158.8" y1="383.8" x2="162.8" y2="383.8" stroke="#333" stroke-width="0.9"/>
<line x1="160.0" y1="378.32125407891556" x2="162.8" y2="378.32125407891556" stroke="#333" stroke-width="0.9"/>
<line x1="160.0" y1="375.11639316410213" x2="162.8" y2="375.11639316410213" stroke="#333" stroke-width="0.9"/>
<line x1="160.0" y1="372.8425081578311" x2="162.8" y2="372.8425081578311" stroke="#333" stroke-width="0.9"/>
<line x1="160.0" y1="371.0787459210845" x2="162.8" y2="371.0787459210845" stroke="#333" stroke-width="0.9"/>
<line x1="160.0" y1="369.6376472430177" x2="162.8" y2="369.6376472430177" stroke="#333" stroke-width="0.9"/>
<line x1="160.0" y1="368.4192156717405" x2="162.8" y2="368.4192156717405" stroke="#333" stroke-width="0.9"/>
<line x1="160.0" y1="367.36376223674665" x2="162.8" y2="367.36376223674665" stroke="#333" stroke-width="0.9"/>
<line x1="160.0" y1="366.4327863282043" x2="162.8" y2="366.4327863282043" stroke="#333" stroke-width="0.9"/>
<line x1="158.8" y1="365.6" x2="162.8" y2="365.6" stroke="#333" stroke-width="0.9"/>
<line x1="160.0" y1="360.1212540789155" x2="162.8" y2="360.1212540789155" stroke="#333" stroke-width="0.9"/>
<line x1="160.0" y1="356.91639316410215" x2="162.8" y2="356.91639316410215" stroke="#333" stroke-width="0.9"/>
<line x1="160.0" y1="354.64250815783106" x2="162.8" y2="354.64250815783106" stroke="#333" stroke-width="0.9"/>
<line x1="160.0" y1="352.8787459210845" x2="162.8" y2="352.8787459210845" stroke="#333" stroke-width="0.9"/>
<line x1="160.0" y1="351.4376472430177" x2="162.8" y2="351.4376472430177" stroke="#333" stroke-width="0.9"/>
<line x1="160.0" y1="350.2192156717405" x2="162.8" y2="350.2192156717405" stroke="#333" stroke-width="0.9"/>
<line x1="160.0" y1="349.1637622367466" x2="162.8" y2="349.1637622367466" stroke="#333" stroke-width="0.9"/>
<line x1="160.0" y1="348.23278632820427" x2="162.8" y2="348.23278632820427" stroke="#333" stroke-width="0.9"/>
<line x1="158.8" y1="347.4" x2="162.8" y2="347.4" stroke="#333" stroke-width="0.9"/>
<line x1="160.0" y1="341.9212540789155" x2="162.8" y2="341.9212540789155" stroke="#333" stroke-width="0.9"/>
<line x1="160.0" y1="338.7163931641021" x2="162.8" y2="338.7163931641021" stroke="#333" stroke-width="0.9"/>
<line x1="160.0" y1="336.44250815783107" x2="162.8" y2="336.44250815783107" stroke="#333" stroke-width="0.9"/>
<line x1="160.0" y1="334.67874592108444" x2="162.8" y2="334.67874592108444" stroke="#333" stroke-width="0.9"/>
<line x1="160.0" y1="333.2376472430177" x2="162.8" y2="333.2376472430177" stroke="#333" stroke-width="0.9"/>
<line x1="160.0" y1="332.01921567174054" x2="162.8" y2="332.01921567174054" stroke="#333" stroke-width="0.9"/>
<line x1="160.0" y1="330.9637622367466" x2="162.8" y2="330.9637622367466" stroke="#333" stroke-width="0.9"/>
<line x1="160.0" y1="330.0327863282043" x2="162.8" y2="330.0327863282043" stroke="#333" stroke-width="0.9"/>
<line x1="158.8" y1="329.2" x2="162.8" y2="329.2" stroke="#333" stroke-width="0.9"/>
<line x1="160.4" y1="387.2" x2="162.8" y2="387.2" stroke="#444" stroke-width="0.8"/>
<line x1="160.4" y1="390.2" x2="162.8" y2="390.2" stroke="#444" stroke-width="0.8"/>
<line x1="160.4" y1="393.2" x2="162.8" y2="393.2" stroke="#444" stroke-width="0.8"/>
<line x1="160.4" y1="395.7" x2="162.8" y2="395.7" stroke="#444" stroke-width="0.8"/>
<line x1="181.0" y1="401.5" x2="181.0" y2="406.5" stroke="#333" stroke-width="0.9"/>
<line x1="187.1410119115452" y1="401.5" x2="187.1410119115452" y2="404.3" stroke="#333" stroke-width="0.9"/>
<line x1="190.73327359628112" y1="401.5" x2="190.73327359628112" y2="404.3" stroke="#333" stroke-width="0.9"/>
<line x1="193.28202382309044" y1="401.5" x2="193.28202382309044" y2="404.3" stroke="#333" stroke-width="0.9"/>
<line x1="195.25898808845477" y1="401.5" x2="195.25898808845477" y2="404.3" stroke="#333" stroke-width="0.9"/>
<line x1="196.87428550782633" y1="401.5" x2="196.87428550782633" y2="404.3" stroke="#333" stroke-width="0.9"/>
<line x1="198.24000001629082" y1="401.5" x2="198.24000001629082" y2="404.3" stroke="#333" stroke-width="0.9"/>
<line x1="199.42303573463565" y1="401.5" x2="199.42303573463565" y2="404.3" stroke="#333" stroke-width="0.9"/>
<line x1="200.46654719256222" y1="401.5" x2="200.46654719256222" y2="404.3" stroke="#333" stroke-width="0.9"/>
<line x1="201.4" y1="401.5" x2="201.4" y2="406.5" stroke="#333" stroke-width="0.9"/>
<line x1="207.5410119115452" y1="401.5" x2="207.5410119115452" y2="404.3" stroke="#333" stroke-width="0.9"/>
<line x1="211.1332735962811" y1="401.5" x2="211.1332735962811" y2="404.3" stroke="#333" stroke-width="0.9"/>
<line x1="213.68202382309042" y1="401.5" x2="213.68202382309042" y2="404.3" stroke="#333" stroke-width="0.9"/>
<line x1="215.65898808845478" y1="401.5" x2="215.65898808845478" y2="404.3" stroke="#333" stroke-width="0.9"/>
<line x1="217.27428550782633" y1="401.5" x2="217.27428550782633" y2="404.3" stroke="#333" stroke-width="0.9"/>
<line x1="218.64000001629083" y1="401.5" x2="218.64000001629083" y2="404.3" stroke="#333" stroke-width="0.9"/>
<line x1="219.82303573463565" y1="401.5" x2="219.82303573463565" y2="404.3" stroke="#333" stroke-width="0.9"/>
<line x1="220.86654719256222" y1="401.5" x2="220.86654719256222" y2="404.3" stroke="#333" stroke-width="0.9"/>
<line x1="221.79999999999998" y1="401.5" x2="221.79999999999998" y2="406.5" stroke="#333" stroke-width="0.9"/>
<line x1="227.94101191154522" y1="401.5" x2="227.94101191154522" y2="404.3" stroke="#333" stroke-width="0.9"/>
<line x1="231.5332735962811" y1="401.5" x2="231.5332735962811" y2="404.3" stroke="#333" stroke-width="0.9"/>
<line x1="234.08202382309042" y1="401.5" x2="234.08202382309042" y2="404.3" stroke="#333" stroke-width="0.9"/>
<line x1="236.05898808845478" y1="401.5" x2="236.05898808845478" y2="404.3" stroke="#333" stroke-width="0.9"/>
<line x1="237.6742855078263" y1="401.5" x2="237.6742855078263" y2="404.3" stroke="#333" stroke-width="0.9"/>
<line x1="239.04000001629083" y1="401.5" x2="239.04000001629083" y2="404.3" stroke="#333" stroke-width="0.9"/>
<line x1="240.22303573463563" y1="401.5" x2="240.22303573463563" y2="404.3" stroke="#333" stroke-width="0.9"/>
<line x1="241.2665471925622" y1="401.5" x2="241.2665471925622" y2="404.3" stroke="#333" stroke-width="0.9"/>
<line x1="242.2" y1="401.5" x2="242.2" y2="406.5" stroke="#333" stroke-width="0.9"/>
<line x1="166" y1="401.5" x2="166" y2="404.3" stroke="#444" stroke-width="0.9"/>
<line x1="168.5" y1="401.5" x2="168.5" y2="404.3" stroke="#444" stroke-width="0.9"/>
<line x1="171" y1="401.5" x2="171" y2="404.3" stroke="#444" stroke-width="0.9"/>
<line x1="173.5" y1="401.5" x2="173.5" y2="404.3" stroke="#444" stroke-width="0.9"/>
<line x1="176" y1="401.5" x2="176" y2="404.3" stroke="#444" stroke-width="0.9"/>
<line x1="178.5" y1="401.5" x2="178.5" y2="404.3" stroke="#444" stroke-width="0.9"/>
<text x="202.4" y="346.0" font-size="6.3" text-anchor="start" fill="#222" stroke="#222" stroke-width="0.2">Q2</text>
<text x="170.1" y="368.2" font-size="6.3" text-anchor="start" fill="#222" stroke="#222" stroke-width="0.2">Q1</text>
<text x="169.4" y="397.59999999999997" font-size="6.3" text-anchor="start" fill="#222" stroke="#222" stroke-width="0.2">Q3</text>
<text x="203" y="397.59999999999997" font-size="6.3" text-anchor="start" fill="#222" stroke="#222" stroke-width="0.2">Q4</text>
<text x="157.6" y="329.2" font-size="5.8" fill="#333" text-anchor="middle" transform="rotate(-90 157.6 329.2)">10<tspan dy="-3" font-size="4.6">5</tspan></text>
<text x="157.6" y="347.7" font-size="5.8" fill="#333" text-anchor="middle" transform="rotate(-90 157.6 347.7)">10<tspan dy="-3" font-size="4.6">4</tspan></text>
<text x="157.6" y="365.2" font-size="5.8" fill="#333" text-anchor="middle" transform="rotate(-90 157.6 365.2)">10<tspan dy="-3" font-size="4.6">3</tspan></text>
<text x="157.6" y="383.8" font-size="5.8" fill="#333" text-anchor="middle" transform="rotate(-90 157.6 383.8)">10<tspan dy="-3" font-size="4.6">2</tspan></text>
<text x="150.5" y="399.2" font-size="5" fill="#444" text-anchor="middle" transform="rotate(-90 150.5 399.2)">-91</text>
<text x="171" y="413.59999999999997" font-size="5.8" fill="#333" text-anchor="middle">0</text>
<text x="181" y="413.59999999999997" font-size="5.8" fill="#333" text-anchor="middle">10<tspan dy="-3" font-size="4.6">2</tspan></text>
<text x="202.2" y="413.59999999999997" font-size="5.8" fill="#333" text-anchor="middle">10<tspan dy="-3" font-size="4.6">3</tspan></text>
<text x="222.5" y="413.59999999999997" font-size="5.8" fill="#333" text-anchor="middle">10<tspan dy="-3" font-size="4.6">4</tspan></text>
<text x="242.2" y="413.59999999999997" font-size="5.8" fill="#333" text-anchor="middle">10<tspan dy="-3" font-size="4.6">5</tspan></text>
<text x="199.9" y="430.29999999999995" font-size="9" font-weight="bold" text-anchor="middle" fill="#000" textLength="20.8" lengthAdjust="spacingAndGlyphs">CD34</text>
<text x="148.5" y="359.7" font-size="7.8" font-weight="bold" text-anchor="middle" fill="#000" transform="rotate(-90 148.5 359.7)" textLength="16.5" lengthAdjust="spacingAndGlyphs">KI67</text>
<text x="258.8" y="364.5" font-size="9.4" font-weight="bold" text-anchor="start" fill="#000">S1/5-/-</text>
<path d="M103 236.3 V226 H172" fill="none" stroke="#000" stroke-width="2"/>
<path d="M178.4 226 L170.2 222.2 L170.2 229.8 Z" fill="#000"/>
<line x1="342.5" y1="222.5" x2="342.5" y2="376.9" stroke="#000" stroke-width="1.2"/>
<line x1="342.0" y1="376.4" x2="520" y2="376.4" stroke="#000" stroke-width="1.4"/>
<line x1="340.0" y1="376.4" x2="342.5" y2="376.4" stroke="#000" stroke-width="1.0"/>
<text x="336.0" y="378.7" font-size="8.0" text-anchor="end" fill="#111" textLength="4.4" lengthAdjust="spacingAndGlyphs" stroke="#000" stroke-width="0.22">0</text>
<line x1="340.0" y1="359.29999999999995" x2="342.5" y2="359.29999999999995" stroke="#000" stroke-width="1.0"/>
<text x="338.3" y="361.59999999999997" font-size="8.0" text-anchor="end" fill="#111" textLength="9.6" lengthAdjust="spacingAndGlyphs" stroke="#000" stroke-width="0.22">10</text>
<line x1="340.0" y1="342.2" x2="342.5" y2="342.2" stroke="#000" stroke-width="1.0"/>
<text x="338.3" y="344.5" font-size="8.0" text-anchor="end" fill="#111" textLength="9.6" lengthAdjust="spacingAndGlyphs" stroke="#000" stroke-width="0.22">20</text>
<line x1="340.0" y1="325.09999999999997" x2="342.5" y2="325.09999999999997" stroke="#000" stroke-width="1.0"/>
<text x="338.3" y="327.4" font-size="8.0" text-anchor="end" fill="#111" textLength="9.6" lengthAdjust="spacingAndGlyphs" stroke="#000" stroke-width="0.22">30</text>
<line x1="340.0" y1="308.0" x2="342.5" y2="308.0" stroke="#000" stroke-width="1.0"/>
<text x="338.3" y="310.3" font-size="8.0" text-anchor="end" fill="#111" textLength="9.6" lengthAdjust="spacingAndGlyphs" stroke="#000" stroke-width="0.22">40</text>
<line x1="340.0" y1="290.9" x2="342.5" y2="290.9" stroke="#000" stroke-width="1.0"/>
<text x="338.3" y="293.2" font-size="8.0" text-anchor="end" fill="#111" textLength="9.6" lengthAdjust="spacingAndGlyphs" stroke="#000" stroke-width="0.22">50</text>
<line x1="340.0" y1="273.8" x2="342.5" y2="273.8" stroke="#000" stroke-width="1.0"/>
<text x="338.3" y="276.1" font-size="8.0" text-anchor="end" fill="#111" textLength="9.6" lengthAdjust="spacingAndGlyphs" stroke="#000" stroke-width="0.22">60</text>
<line x1="340.0" y1="256.7" x2="342.5" y2="256.7" stroke="#000" stroke-width="1.0"/>
<text x="338.3" y="259.0" font-size="8.0" text-anchor="end" fill="#111" textLength="9.6" lengthAdjust="spacingAndGlyphs" stroke="#000" stroke-width="0.22">70</text>
<line x1="340.0" y1="239.6" x2="342.5" y2="239.6" stroke="#000" stroke-width="1.0"/>
<text x="338.3" y="241.9" font-size="8.0" text-anchor="end" fill="#111" textLength="9.6" lengthAdjust="spacingAndGlyphs" stroke="#000" stroke-width="0.22">80</text>
<line x1="340.0" y1="222.5" x2="342.5" y2="222.5" stroke="#000" stroke-width="1.0"/>
<text x="338.3" y="224.8" font-size="8.0" text-anchor="end" fill="#111" textLength="9.6" lengthAdjust="spacingAndGlyphs" stroke="#000" stroke-width="0.22">90</text>
<text x="314.2" y="304" font-size="10.6" font-weight="bold" text-anchor="middle" fill="#000" transform="rotate(-90 314.2 304)" textLength="108.7" lengthAdjust="spacingAndGlyphs">Fraction of cells (%)</text>
<line x1="357.95000000000005" y1="305.435" x2="357.95000000000005" y2="320.825" stroke="#000" stroke-width="1.1"/>
<line x1="355.45000000000005" y1="305.435" x2="360.45000000000005" y2="305.435" stroke="#000" stroke-width="1.3"/>
<line x1="371.05" y1="297.74" x2="371.05" y2="310.565" stroke="#000" stroke-width="1.1"/>
<line x1="368.55" y1="297.74" x2="373.55" y2="297.74" stroke="#000" stroke-width="1.3"/>
<rect x="377.8" y="312.565" width="2" height="63.83499999999998" fill="#888"/>
<rect x="351.6" y="320.825" width="12.7" height="55.57499999999999" fill="#c0c0c0" stroke="#000" stroke-width="1"/>
<rect x="364.3" y="310.565" width="13.5" height="65.83499999999998" fill="#000" stroke="#000" stroke-width="1"/>
<line x1="402.29999999999995" y1="245.243" x2="402.29999999999995" y2="260.462" stroke="#000" stroke-width="1.1"/>
<line x1="399.79999999999995" y1="245.243" x2="404.79999999999995" y2="245.243" stroke="#000" stroke-width="1.3"/>
<line x1="415.2" y1="257.04200000000003" x2="415.2" y2="270.551" stroke="#000" stroke-width="1.1"/>
<line x1="412.7" y1="257.04200000000003" x2="417.7" y2="257.04200000000003" stroke="#000" stroke-width="1.3"/>
<rect x="422.2" y="272.551" width="2" height="103.84899999999999" fill="#888"/>
<rect x="396.4" y="260.462" width="11.8" height="115.93799999999999" fill="#c0c0c0" stroke="#000" stroke-width="1"/>
<rect x="408.2" y="270.551" width="14.0" height="105.84899999999999" fill="#000" stroke="#000" stroke-width="1"/>
<line x1="446.45" y1="285.941" x2="446.45" y2="294.662" stroke="#000" stroke-width="1.1"/>
<line x1="443.95" y1="285.941" x2="448.95" y2="285.941" stroke="#000" stroke-width="1.3"/>
<line x1="459.4" y1="280.127" x2="459.4" y2="293.294" stroke="#000" stroke-width="1.1"/>
<line x1="456.9" y1="280.127" x2="461.9" y2="280.127" stroke="#000" stroke-width="1.3"/>
<rect x="466.3" y="295.294" width="2" height="81.106" fill="#888"/>
<rect x="440.4" y="294.662" width="12.1" height="81.738" fill="#c0c0c0" stroke="#000" stroke-width="1"/>
<rect x="452.5" y="293.294" width="13.8" height="83.106" fill="#000" stroke="#000" stroke-width="1"/>
<line x1="490.40000000000003" y1="277.733" x2="490.40000000000003" y2="285.941" stroke="#000" stroke-width="1.1"/>
<line x1="487.90000000000003" y1="277.733" x2="492.90000000000003" y2="277.733" stroke="#000" stroke-width="1.3"/>
<line x1="503.4" y1="273.971" x2="503.4" y2="287.138" stroke="#000" stroke-width="1.1"/>
<line x1="500.9" y1="273.971" x2="505.9" y2="273.971" stroke="#000" stroke-width="1.3"/>
<rect x="510.3" y="289.138" width="2" height="87.262" fill="#888"/>
<rect x="484.3" y="285.941" width="12.2" height="90.459" fill="#c0c0c0" stroke="#000" stroke-width="1"/>
<rect x="496.5" y="287.138" width="13.8" height="89.262" fill="#000" stroke="#000" stroke-width="1"/>
<text x="366.1" y="396.7" font-size="9.2" font-weight="bold" text-anchor="middle" fill="#000" textLength="30.8" lengthAdjust="spacingAndGlyphs">Ki67+</text>
<text x="411.8" y="396.7" font-size="9.2" font-weight="bold" text-anchor="middle" fill="#000" textLength="27.7" lengthAdjust="spacingAndGlyphs">Ki67-</text>
<text x="456.1" y="396.7" font-size="9.2" font-weight="bold" text-anchor="middle" fill="#000" textLength="30.8" lengthAdjust="spacingAndGlyphs">Ki67+</text>
<text x="499.2" y="396.7" font-size="9.2" font-weight="bold" text-anchor="middle" fill="#000" textLength="27.7" lengthAdjust="spacingAndGlyphs">Ki67-</text>
<line x1="350.4" y1="405.8" x2="424" y2="405.8" stroke="#000" stroke-width="1.5"/>
<line x1="440.4" y1="405.8" x2="514.3" y2="405.8" stroke="#000" stroke-width="1.5"/>
<text x="392.1" y="415.6" font-size="9.2" font-weight="bold" text-anchor="middle" fill="#000" textLength="37.8" lengthAdjust="spacingAndGlyphs">LT-HSC</text>
<text x="475.4" y="415.6" font-size="9.2" font-weight="bold" text-anchor="middle" fill="#000" textLength="21.6" lengthAdjust="spacingAndGlyphs">MPP</text>
<text x="0.4" y="452.0" font-size="17.6" font-weight="bold" text-anchor="start" fill="#000" stroke="#000" stroke-width="0.9">C</text>
<line x1="50.6" y1="454.71500000000003" x2="50.6" y2="605.2" stroke="#000" stroke-width="1.5"/>
<line x1="50.1" y1="604.7" x2="216.8" y2="604.7" stroke="#000" stroke-width="1.5"/>
<line x1="48.0" y1="604.7" x2="50.6" y2="604.7" stroke="#000" stroke-width="1.4"/>
<text x="45.0" y="606.9000000000001" font-size="7.8" text-anchor="end" fill="#000" stroke="#000" stroke-width="0.22">0</text>
<line x1="48.0" y1="588.0350000000001" x2="50.6" y2="588.0350000000001" stroke="#000" stroke-width="1.4"/>
<text x="45.0" y="590.2350000000001" font-size="7.8" text-anchor="end" fill="#000" stroke="#000" stroke-width="0.22">5</text>
<line x1="48.0" y1="571.37" x2="50.6" y2="571.37" stroke="#000" stroke-width="1.4"/>
<text x="46.2" y="573.57" font-size="7.8" text-anchor="end" fill="#000" stroke="#000" stroke-width="0.22">10</text>
<line x1="48.0" y1="554.705" x2="50.6" y2="554.705" stroke="#000" stroke-width="1.4"/>
<text x="46.2" y="556.9050000000001" font-size="7.8" text-anchor="end" fill="#000" stroke="#000" stroke-width="0.22">15</text>
<line x1="48.0" y1="538.0400000000001" x2="50.6" y2="538.0400000000001" stroke="#000" stroke-width="1.4"/>
<text x="46.2" y="540.2400000000001" font-size="7.8" text-anchor="end" fill="#000" stroke="#000" stroke-width="0.22">20</text>
<line x1="48.0" y1="521.375" x2="50.6" y2="521.375" stroke="#000" stroke-width="1.4"/>
<text x="46.2" y="523.575" font-size="7.8" text-anchor="end" fill="#000" stroke="#000" stroke-width="0.22">25</text>
<line x1="48.0" y1="504.71000000000004" x2="50.6" y2="504.71000000000004" stroke="#000" stroke-width="1.4"/>
<text x="46.2" y="506.91" font-size="7.8" text-anchor="end" fill="#000" stroke="#000" stroke-width="0.22">30</text>
<line x1="48.0" y1="488.0450000000001" x2="50.6" y2="488.0450000000001" stroke="#000" stroke-width="1.4"/>
<text x="46.2" y="490.24500000000006" font-size="7.8" text-anchor="end" fill="#000" stroke="#000" stroke-width="0.22">35</text>
<line x1="48.0" y1="471.38000000000005" x2="50.6" y2="471.38000000000005" stroke="#000" stroke-width="1.4"/>
<text x="46.2" y="473.58000000000004" font-size="7.8" text-anchor="end" fill="#000" stroke="#000" stroke-width="0.22">40</text>
<line x1="48.0" y1="454.71500000000003" x2="50.6" y2="454.71500000000003" stroke="#000" stroke-width="1.4"/>
<text x="46.2" y="456.915" font-size="7.8" text-anchor="end" fill="#000" stroke="#000" stroke-width="0.22">45</text>
<text x="12.0" y="525" font-size="10.6" font-weight="bold" text-anchor="middle" fill="#000" transform="rotate(-90 12.0 525)" textLength="108" lengthAdjust="spacingAndGlyphs">Nr of growing clones</text>
<line x1="92.35" y1="463.3808" x2="92.35" y2="479.3792" stroke="#000" stroke-width="1.1"/>
<line x1="89.85" y1="463.3808" x2="94.85" y2="463.3808" stroke="#000" stroke-width="1.3"/>
<rect x="75.7" y="479.3792" width="33.3" height="125.32080000000002" fill="#333333" stroke="#000" stroke-width="1.3"/>
<rect x="75.7" y="580.7024" width="33.3" height="23.997600000000034" fill="#c0c0c0" stroke="#000" stroke-width="1.3"/>
<line x1="92.35" y1="575.2029500000001" x2="92.35" y2="580.7024" stroke="#000" stroke-width="1.1"/>
<line x1="89.85" y1="575.2029500000001" x2="94.85" y2="575.2029500000001" stroke="#000" stroke-width="1.3"/>
<line x1="175.15" y1="497.71070000000003" x2="175.15" y2="531.0407" stroke="#000" stroke-width="1.1"/>
<line x1="172.65" y1="497.71070000000003" x2="177.65" y2="497.71070000000003" stroke="#000" stroke-width="1.3"/>
<rect x="158.3" y="531.0407" width="33.69999999999999" height="73.65930000000003" fill="#333333" stroke="#000" stroke-width="1.3"/>
<rect x="158.3" y="584.0354000000001" width="33.69999999999999" height="20.66459999999995" fill="#c0c0c0" stroke="#000" stroke-width="1.3"/>
<line x1="175.15" y1="582.7022000000001" x2="175.15" y2="584.0354000000001" stroke="#000" stroke-width="1.1"/>
<line x1="172.65" y1="582.7022000000001" x2="177.65" y2="582.7022000000001" stroke="#000" stroke-width="1.3"/>
<rect x="157.2" y="454.0" width="7.4" height="7.4" fill="#333333" stroke="#000" stroke-width="1"/>
<rect x="157.2" y="469.0" width="7.4" height="7.0" fill="#c0c0c0" stroke="#000" stroke-width="1"/>
<text x="167.6" y="461.2" font-size="7.6" text-anchor="start" fill="#000" textLength="62.2" lengthAdjust="spacingAndGlyphs" stroke="#000" stroke-width="0.22">High proliferative</text>
<text x="167.6" y="476.0" font-size="7.6" text-anchor="start" fill="#000" textLength="60.2" lengthAdjust="spacingAndGlyphs" stroke="#000" stroke-width="0.22">Low proliferative</text>
<text x="92.6" y="623.8" font-size="8.8" font-weight="bold" text-anchor="middle" fill="#000" textLength="13.4" lengthAdjust="spacingAndGlyphs">WT</text>
<text x="176.5" y="623.8" font-size="8.8" font-weight="bold" text-anchor="middle" fill="#000" textLength="28" lengthAdjust="spacingAndGlyphs">S1/5-/-</text>
<text x="290.6" y="458.4" font-size="17.4" font-weight="bold" text-anchor="start" fill="#000" stroke="#000" stroke-width="0.9">D</text>
<line x1="343.9" y1="453.19999999999993" x2="343.9" y2="604.3" stroke="#000" stroke-width="1.2"/>
<line x1="343.4" y1="603.8" x2="506.5" y2="603.8" stroke="#000" stroke-width="1.4"/>
<line x1="341.4" y1="603.8" x2="343.9" y2="603.8" stroke="#000" stroke-width="1.0"/>
<text x="334.4" y="606.5" font-size="8.2" text-anchor="end" fill="#000" stroke="#000" stroke-width="0.22">1</text>
<line x1="341.4" y1="566.15" x2="343.9" y2="566.15" stroke="#000" stroke-width="1.0"/>
<text x="340.9" y="568.85" font-size="8.2" text-anchor="end" fill="#000" stroke="#000" stroke-width="0.22">10</text>
<line x1="341.4" y1="528.5" x2="343.9" y2="528.5" stroke="#000" stroke-width="1.0"/>
<text x="340.9" y="531.2" font-size="8.2" text-anchor="end" fill="#000" stroke="#000" stroke-width="0.22">100</text>
<line x1="341.4" y1="490.84999999999997" x2="343.9" y2="490.84999999999997" stroke="#000" stroke-width="1.0"/>
<text x="340.9" y="493.54999999999995" font-size="8.2" text-anchor="end" fill="#000" stroke="#000" stroke-width="0.22">1000</text>
<line x1="341.4" y1="453.19999999999993" x2="343.9" y2="453.19999999999993" stroke="#000" stroke-width="1.0"/>
<text x="340.9" y="455.8999999999999" font-size="8.2" text-anchor="end" fill="#000" stroke="#000" stroke-width="0.22">10000</text>
<text x="314.0" y="533.6" font-size="11.2" font-weight="bold" text-anchor="middle" fill="#000" transform="rotate(-90 314.0 533.6)" textLength="83.5" lengthAdjust="spacingAndGlyphs">Fold expansion</text>
<line x1="417.06" y1="542.7" x2="417.06" y2="549.2" stroke="#000" stroke-width="1.0"/>
<line x1="414.56" y1="542.7" x2="419.56" y2="542.7" stroke="#000" stroke-width="1.2"/>
<line x1="449.24" y1="515.0" x2="449.24" y2="522.6" stroke="#000" stroke-width="1.0"/>
<line x1="446.74" y1="515.0" x2="451.74" y2="515.0" stroke="#000" stroke-width="1.2"/>
<line x1="481.41999999999996" y1="468.8" x2="481.41999999999996" y2="476.9" stroke="#000" stroke-width="1.0"/>
<line x1="478.91999999999996" y1="468.8" x2="483.91999999999996" y2="468.8" stroke="#000" stroke-width="1.2"/>
<polyline points="352.7,603.8 368.78999999999996,584.5 384.88,577.8 400.96999999999997,563.0 417.06,558.3 433.15,537.0 449.24,527.7 465.33,506.7 481.41999999999996,477.3 497.51,452.7" fill="none" stroke="#8c8c8c" stroke-width="2.6" stroke-linejoin="round"/>
<polyline points="352.7,603.8 368.78999999999996,579.6 384.88,567.8 400.96999999999997,555.0 417.06,549.2 433.15,531.2 449.24,522.6 465.33,506.7 481.41999999999996,488.0 497.51,462.9" fill="none" stroke="#000" stroke-width="3.0" stroke-linejoin="round"/>
<path d="M352.7 600.3 L356.2 603.8 L352.7 607.3 L349.2 603.8 Z" fill="#dcdcdc" stroke="#000" stroke-width="1.5"/>
<path d="M368.78999999999996 581.0 L372.28999999999996 584.5 L368.78999999999996 588.0 L365.28999999999996 584.5 Z" fill="#dcdcdc" stroke="#000" stroke-width="1.5"/>
<path d="M384.88 574.3 L388.38 577.8 L384.88 581.3 L381.38 577.8 Z" fill="#dcdcdc" stroke="#000" stroke-width="1.5"/>
<path d="M400.96999999999997 559.5 L404.46999999999997 563.0 L400.96999999999997 566.5 L397.46999999999997 563.0 Z" fill="#dcdcdc" stroke="#000" stroke-width="1.5"/>
<path d="M417.06 554.8 L420.56 558.3 L417.06 561.8 L413.56 558.3 Z" fill="#dcdcdc" stroke="#000" stroke-width="1.5"/>
<path d="M433.15 533.5 L436.65 537.0 L433.15 540.5 L429.65 537.0 Z" fill="#dcdcdc" stroke="#000" stroke-width="1.5"/>
<path d="M449.24 524.2 L452.74 527.7 L449.24 531.2 L445.74 527.7 Z" fill="#dcdcdc" stroke="#000" stroke-width="1.5"/>
<path d="M465.33 503.2 L468.83 506.7 L465.33 510.2 L461.83 506.7 Z" fill="#dcdcdc" stroke="#000" stroke-width="1.5"/>
<path d="M481.41999999999996 473.8 L484.91999999999996 477.3 L481.41999999999996 480.8 L477.91999999999996 477.3 Z" fill="#dcdcdc" stroke="#000" stroke-width="1.5"/>
<path d="M497.51 449.2 L501.01 452.7 L497.51 456.2 L494.01 452.7 Z" fill="#dcdcdc" stroke="#000" stroke-width="1.5"/>
<path d="M352.7 599.5 L357.0 603.8 L352.7 608.0999999999999 L348.4 603.8 Z" fill="#000" stroke="#000" stroke-width="0.5"/>
<path d="M368.78999999999996 575.3000000000001 L373.09 579.6 L368.78999999999996 583.9 L364.48999999999995 579.6 Z" fill="#000" stroke="#000" stroke-width="0.5"/>
<path d="M384.88 563.5 L389.18 567.8 L384.88 572.0999999999999 L380.58 567.8 Z" fill="#000" stroke="#000" stroke-width="0.5"/>
<path d="M400.96999999999997 550.7 L405.27 555.0 L400.96999999999997 559.3 L396.66999999999996 555.0 Z" fill="#000" stroke="#000" stroke-width="0.5"/>
<path d="M417.06 544.9000000000001 L421.36 549.2 L417.06 553.5 L412.76 549.2 Z" fill="#000" stroke="#000" stroke-width="0.5"/>
<path d="M433.15 526.9000000000001 L437.45 531.2 L433.15 535.5 L428.84999999999997 531.2 Z" fill="#000" stroke="#000" stroke-width="0.5"/>
<path d="M449.24 518.3000000000001 L453.54 522.6 L449.24 526.9 L444.94 522.6 Z" fill="#000" stroke="#000" stroke-width="0.5"/>
<path d="M465.33 502.4 L469.63 506.7 L465.33 511.0 L461.03 506.7 Z" fill="#000" stroke="#000" stroke-width="0.5"/>
<path d="M481.41999999999996 483.7 L485.71999999999997 488.0 L481.41999999999996 492.3 L477.11999999999995 488.0 Z" fill="#000" stroke="#000" stroke-width="0.5"/>
<path d="M497.51 458.59999999999997 L501.81 462.9 L497.51 467.2 L493.21 462.9 Z" fill="#000" stroke="#000" stroke-width="0.5"/>
<text x="355.3" y="622.0" font-size="9.0" font-weight="bold" text-anchor="middle" fill="#000" textLength="11.6" lengthAdjust="spacingAndGlyphs">d0</text>
<text x="387.48" y="622.0" font-size="9.0" font-weight="bold" text-anchor="middle" fill="#000" textLength="10.9" lengthAdjust="spacingAndGlyphs">d6</text>
<text x="419.66" y="622.0" font-size="9.0" font-weight="bold" text-anchor="middle" fill="#000" textLength="15.7" lengthAdjust="spacingAndGlyphs">d12</text>
<text x="451.84000000000003" y="622.0" font-size="9.0" font-weight="bold" text-anchor="middle" fill="#000" textLength="15.4" lengthAdjust="spacingAndGlyphs">d18</text>
<text x="484.02" y="622.0" font-size="9.0" font-weight="bold" text-anchor="middle" fill="#000" textLength="16.2" lengthAdjust="spacingAndGlyphs">d24</text>
<line x1="464.2" y1="575.8" x2="483.9" y2="575.8" stroke="#999" stroke-width="1.6"/>
<path d="M474.2 573.1999999999999 L476.8 575.8 L474.2 578.4 L471.59999999999997 575.8 Z" fill="#fff" stroke="#000" stroke-width="1.0"/>
<line x1="464.2" y1="591.9" x2="483.9" y2="591.9" stroke="#000" stroke-width="2.4"/>
<path d="M474.2 589.1 L477.0 591.9 L474.2 594.6999999999999 L471.4 591.9 Z" fill="#000" stroke="#000" stroke-width="0.5"/>
<text x="485.0" y="578.9" font-size="8.4" text-anchor="start" fill="#111" textLength="13.3" lengthAdjust="spacingAndGlyphs" stroke="#000" stroke-width="0.22">WT</text>
<text x="485.0" y="595.0" font-size="8.4" text-anchor="start" fill="#111" textLength="13.0" lengthAdjust="spacingAndGlyphs" stroke="#000" stroke-width="0.22">KO</text>
<text x="2.0" y="646.8" font-size="17.4" font-weight="bold" text-anchor="start" fill="#000" stroke="#000" stroke-width="0.9">E</text>
<line x1="50.1" y1="646.5" x2="50.1" y2="792.8" stroke="#000" stroke-width="1.2"/>
<line x1="49.6" y1="792.3" x2="205.3" y2="792.3" stroke="#000" stroke-width="1.3"/>
<line x1="47.6" y1="792.3" x2="50.1" y2="792.3" stroke="#000" stroke-width="1.0"/>
<text x="43.8" y="794.4" font-size="7.8" text-anchor="end" fill="#000" stroke="#000" stroke-width="0.22">0</text>
<line x1="47.6" y1="776.0999999999999" x2="50.1" y2="776.0999999999999" stroke="#000" stroke-width="1.0"/>
<text x="44.9" y="778.1999999999999" font-size="7.8" text-anchor="end" fill="#000" stroke="#000" stroke-width="0.22">20</text>
<line x1="47.6" y1="759.9" x2="50.1" y2="759.9" stroke="#000" stroke-width="1.0"/>
<text x="44.9" y="762.0" font-size="7.8" text-anchor="end" fill="#000" stroke="#000" stroke-width="0.22">40</text>
<line x1="47.6" y1="743.6999999999999" x2="50.1" y2="743.6999999999999" stroke="#000" stroke-width="1.0"/>
<text x="44.9" y="745.8" font-size="7.8" text-anchor="end" fill="#000" stroke="#000" stroke-width="0.22">60</text>
<line x1="47.6" y1="727.5" x2="50.1" y2="727.5" stroke="#000" stroke-width="1.0"/>
<text x="44.9" y="729.6" font-size="7.8" text-anchor="end" fill="#000" stroke="#000" stroke-width="0.22">80</text>
<line x1="47.6" y1="711.3" x2="50.1" y2="711.3" stroke="#000" stroke-width="1.0"/>
<text x="46.4" y="713.4" font-size="7.8" text-anchor="end" fill="#000" stroke="#000" stroke-width="0.22">100</text>
<line x1="47.6" y1="695.1" x2="50.1" y2="695.1" stroke="#000" stroke-width="1.0"/>
<text x="46.4" y="697.2" font-size="7.8" text-anchor="end" fill="#000" stroke="#000" stroke-width="0.22">120</text>
<line x1="47.6" y1="678.9" x2="50.1" y2="678.9" stroke="#000" stroke-width="1.0"/>
<text x="46.4" y="681.0" font-size="7.8" text-anchor="end" fill="#000" stroke="#000" stroke-width="0.22">140</text>
<line x1="47.6" y1="662.7" x2="50.1" y2="662.7" stroke="#000" stroke-width="1.0"/>
<text x="46.4" y="664.8000000000001" font-size="7.8" text-anchor="end" fill="#000" stroke="#000" stroke-width="0.22">160</text>
<line x1="47.6" y1="646.5" x2="50.1" y2="646.5" stroke="#000" stroke-width="1.0"/>
<text x="46.4" y="648.6" font-size="7.8" text-anchor="end" fill="#000" stroke="#000" stroke-width="0.22">180</text>
<text x="12.2" y="727.3" font-size="11" font-weight="bold" text-anchor="middle" fill="#000" transform="rotate(-90 12.2 727.3)" textLength="115" lengthAdjust="spacingAndGlyphs">CFU-GMs/90000 cells</text>
<path d="M88.9 653.9 L92.10000000000001 657.1 L88.9 660.3000000000001 L85.7 657.1 Z" fill="#c8c8c8" stroke="#000" stroke-width="1.7"/>
<path d="M88.9 676.9 L92.10000000000001 680.1 L88.9 683.3000000000001 L85.7 680.1 Z" fill="#c8c8c8" stroke="#000" stroke-width="1.7"/>
<path d="M88.9 685.0 L92.10000000000001 688.2 L88.9 691.4000000000001 L85.7 688.2 Z" fill="#c8c8c8" stroke="#000" stroke-width="1.7"/>
<path d="M88.9 691.5999999999999 L92.10000000000001 694.8 L88.9 698.0 L85.7 694.8 Z" fill="#c8c8c8" stroke="#000" stroke-width="1.7"/>
<path d="M88.9 693.8 L92.10000000000001 697.0 L88.9 700.2 L85.7 697.0 Z" fill="#c8c8c8" stroke="#000" stroke-width="1.7"/>
<path d="M88.9 708.8 L92.10000000000001 712.0 L88.9 715.2 L85.7 712.0 Z" fill="#c8c8c8" stroke="#000" stroke-width="1.7"/>
<path d="M88.9 723.0999999999999 L92.10000000000001 726.3 L88.9 729.5 L85.7 726.3 Z" fill="#c8c8c8" stroke="#000" stroke-width="1.7"/>
<line x1="84.2" y1="693.3" x2="93.6" y2="693.3" stroke="#000" stroke-width="1.6"/>
<path d="M166.3 706.1999999999999 L170.4 710.3 L166.3 714.4 L162.20000000000002 710.3 Z" fill="#000" stroke="#000" stroke-width="0.5"/>
<path d="M166.3 712.1999999999999 L170.4 716.3 L166.3 720.4 L162.20000000000002 716.3 Z" fill="#000" stroke="#000" stroke-width="0.5"/>
<path d="M166.3 716.6 L170.4 720.7 L166.3 724.8000000000001 L162.20000000000002 720.7 Z" fill="#000" stroke="#000" stroke-width="0.5"/>
<path d="M166.3 719.1999999999999 L170.4 723.3 L166.3 727.4 L162.20000000000002 723.3 Z" fill="#000" stroke="#000" stroke-width="0.5"/>
<path d="M166.3 722.9 L170.4 727.0 L166.3 731.1 L162.20000000000002 727.0 Z" fill="#000" stroke="#000" stroke-width="0.5"/>
<path d="M166.3 727.9 L170.4 732.0 L166.3 736.1 L162.20000000000002 732.0 Z" fill="#000" stroke="#000" stroke-width="0.5"/>
<path d="M166.3 731.3 L170.4 735.4 L166.3 739.5 L162.20000000000002 735.4 Z" fill="#000" stroke="#000" stroke-width="0.5"/>
<path d="M166.3 734.6999999999999 L170.4 738.8 L166.3 742.9 L162.20000000000002 738.8 Z" fill="#000" stroke="#000" stroke-width="0.5"/>
<path d="M166.3 760.4 L170.4 764.5 L166.3 768.6 L162.20000000000002 764.5 Z" fill="#000" stroke="#000" stroke-width="0.5"/>
<line x1="161.6" y1="729.3" x2="171" y2="729.3" stroke="#000" stroke-width="1.8"/>
<circle cx="166.3" cy="692.6" r="1.4" fill="#222"/>
</g>
</svg></body></html>
